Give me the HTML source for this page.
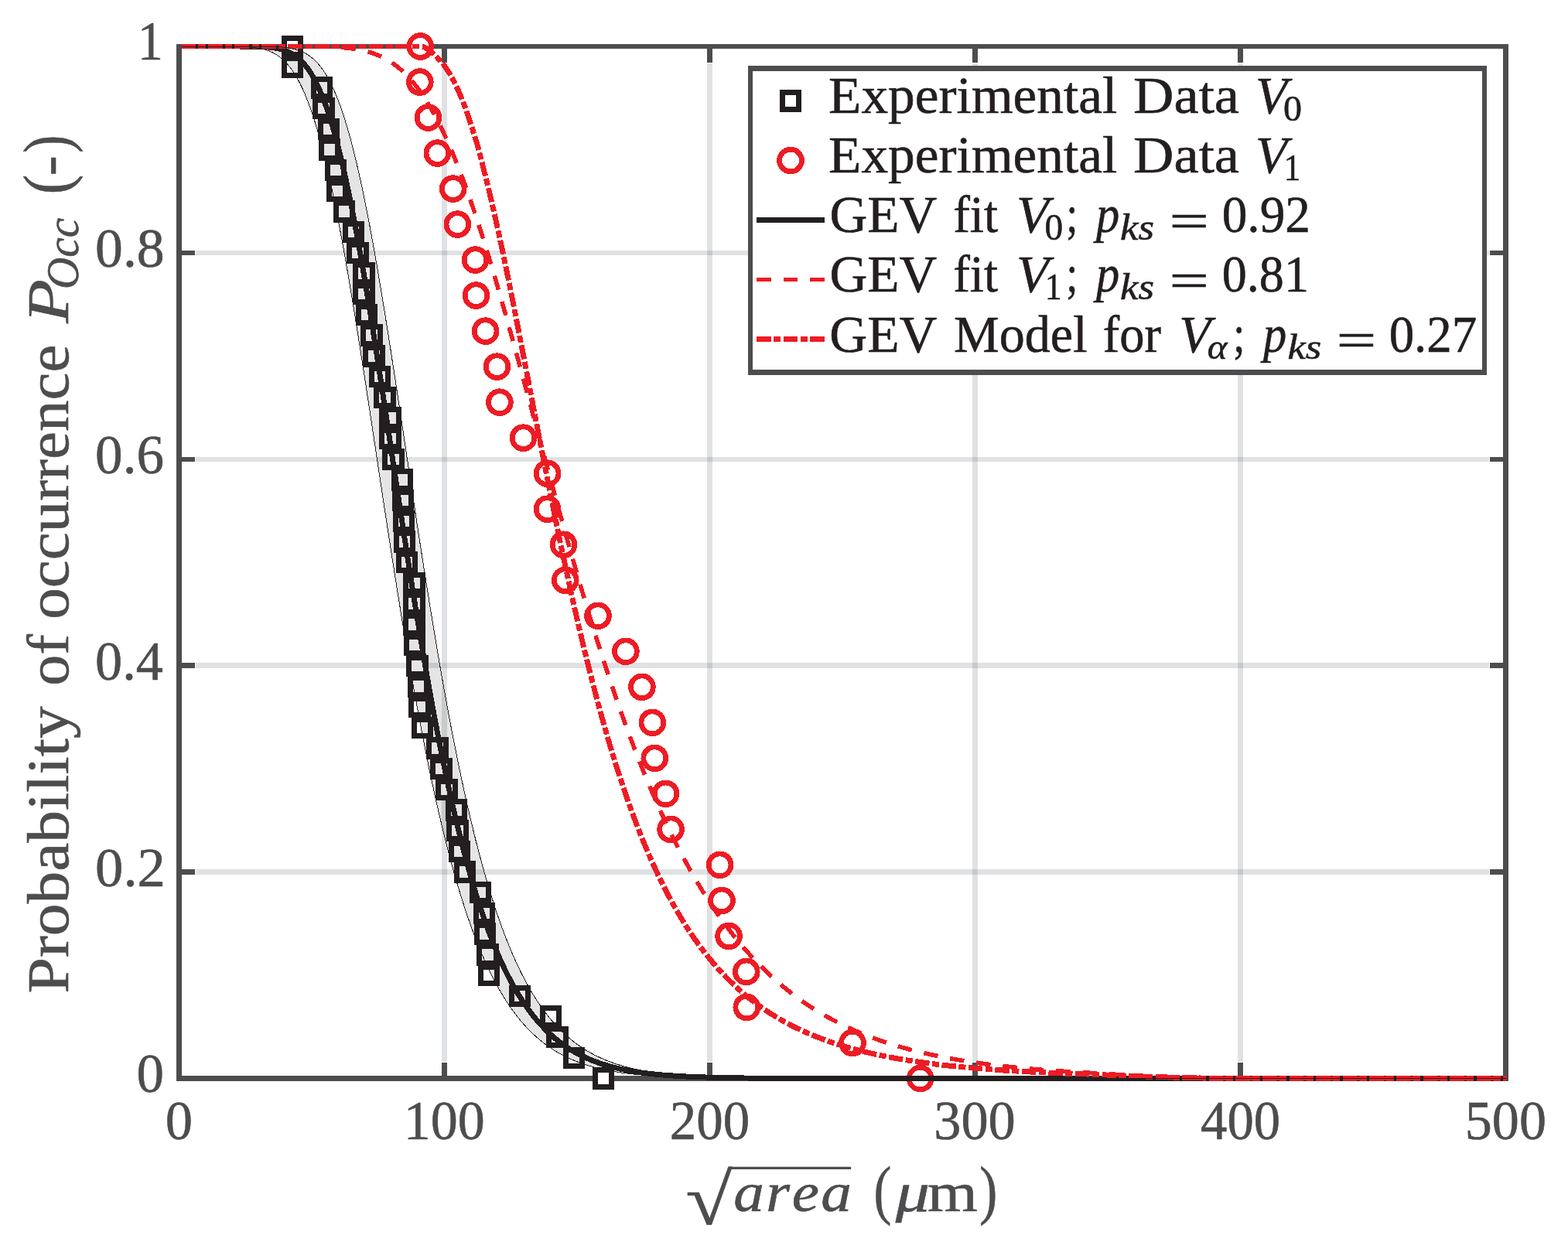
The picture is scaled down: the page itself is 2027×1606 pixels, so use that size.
<!DOCTYPE html>
<html lang="en">
<head>
<meta charset="utf-8">
<title>Probability of occurrence vs sqrt(area)</title>
<style>html,body{margin:0;padding:0;background:#fff}body{width:2027px;height:1606px;overflow:hidden}svg{display:block}</style>
</head>
<body>
<svg width="2027" height="1606" viewBox="0 0 2027 1606" font-family="'Liberation Serif', 'DejaVu Serif', serif" style="font-kerning:none">
<rect width="2027" height="1606" fill="#fff"/>
<g shape-rendering="crispEdges">
<g stroke="rgb(70,76,86)" stroke-opacity="0.170" stroke-width="6.5" fill="none">
<line x1="574.52" y1="81.50" x2="574.52" y2="1373.00"/>
<line x1="917.54" y1="81.50" x2="917.54" y2="1373.00"/>
<line x1="1260.56" y1="81.50" x2="1260.56" y2="1373.00"/>
<line x1="1603.58" y1="81.50" x2="1603.58" y2="1373.00"/>
<line x1="253.00" y1="1127.60" x2="1925.10" y2="1127.60"/>
<line x1="253.00" y1="860.70" x2="1925.10" y2="860.70"/>
<line x1="253.00" y1="593.80" x2="1925.10" y2="593.80"/>
<line x1="253.00" y1="326.90" x2="1925.10" y2="326.90"/>
</g>
<g stroke="#4d4d4f" stroke-width="6.5" fill="none">
<rect x="231.50" y="60.00" width="1715.10" height="1334.50"/>
<line x1="574.52" y1="1394.50" x2="574.52" y2="1374.00"/>
<line x1="574.52" y1="60.00" x2="574.52" y2="80.50"/>
<line x1="917.54" y1="1394.50" x2="917.54" y2="1374.00"/>
<line x1="917.54" y1="60.00" x2="917.54" y2="80.50"/>
<line x1="1260.56" y1="1394.50" x2="1260.56" y2="1374.00"/>
<line x1="1260.56" y1="60.00" x2="1260.56" y2="80.50"/>
<line x1="1603.58" y1="1394.50" x2="1603.58" y2="1374.00"/>
<line x1="1603.58" y1="60.00" x2="1603.58" y2="80.50"/>
<line x1="231.50" y1="1127.60" x2="252.00" y2="1127.60"/>
<line x1="1946.60" y1="1127.60" x2="1926.10" y2="1127.60"/>
<line x1="231.50" y1="860.70" x2="252.00" y2="860.70"/>
<line x1="1946.60" y1="860.70" x2="1926.10" y2="860.70"/>
<line x1="231.50" y1="593.80" x2="252.00" y2="593.80"/>
<line x1="1946.60" y1="593.80" x2="1926.10" y2="593.80"/>
<line x1="231.50" y1="326.90" x2="252.00" y2="326.90"/>
<line x1="1946.60" y1="326.90" x2="1926.10" y2="326.90"/>
</g>
<g stroke="#231f20" stroke-width="7.0" fill="#fff">
<rect x="367.15" y="49.30" width="21.40" height="21.40"/>
<rect x="367.15" y="75.99" width="21.40" height="21.40"/>
<rect x="405.20" y="102.68" width="21.40" height="21.40"/>
<rect x="407.80" y="129.37" width="21.40" height="21.40"/>
<rect x="414.30" y="156.06" width="21.40" height="21.40"/>
<rect x="415.40" y="182.75" width="21.40" height="21.40"/>
<rect x="423.40" y="209.44" width="21.40" height="21.40"/>
<rect x="425.30" y="236.13" width="21.40" height="21.40"/>
<rect x="434.30" y="262.82" width="21.40" height="21.40"/>
<rect x="446.30" y="289.51" width="21.40" height="21.40"/>
<rect x="451.80" y="316.20" width="21.40" height="21.40"/>
<rect x="459.80" y="342.89" width="21.40" height="21.40"/>
<rect x="459.80" y="369.58" width="21.40" height="21.40"/>
<rect x="463.30" y="396.27" width="21.40" height="21.40"/>
<rect x="469.90" y="422.96" width="21.40" height="21.40"/>
<rect x="472.70" y="449.65" width="21.40" height="21.40"/>
<rect x="480.40" y="476.34" width="21.40" height="21.40"/>
<rect x="486.80" y="503.03" width="21.40" height="21.40"/>
<rect x="493.80" y="529.72" width="21.40" height="21.40"/>
<rect x="493.80" y="556.41" width="21.40" height="21.40"/>
<rect x="497.70" y="583.10" width="21.40" height="21.40"/>
<rect x="509.50" y="609.79" width="21.40" height="21.40"/>
<rect x="510.40" y="636.48" width="21.40" height="21.40"/>
<rect x="511.30" y="663.17" width="21.40" height="21.40"/>
<rect x="512.30" y="689.86" width="21.40" height="21.40"/>
<rect x="515.10" y="716.55" width="21.40" height="21.40"/>
<rect x="524.80" y="743.24" width="21.40" height="21.40"/>
<rect x="524.80" y="769.93" width="21.40" height="21.40"/>
<rect x="524.90" y="796.62" width="21.40" height="21.40"/>
<rect x="525.50" y="823.31" width="21.40" height="21.40"/>
<rect x="528.70" y="850.00" width="21.40" height="21.40"/>
<rect x="530.30" y="876.69" width="21.40" height="21.40"/>
<rect x="531.60" y="903.38" width="21.40" height="21.40"/>
<rect x="535.30" y="930.07" width="21.40" height="21.40"/>
<rect x="554.60" y="956.76" width="21.40" height="21.40"/>
<rect x="559.60" y="983.45" width="21.40" height="21.40"/>
<rect x="566.70" y="1010.14" width="21.40" height="21.40"/>
<rect x="579.30" y="1036.83" width="21.40" height="21.40"/>
<rect x="580.80" y="1063.52" width="21.40" height="21.40"/>
<rect x="583.30" y="1090.21" width="21.40" height="21.40"/>
<rect x="590.30" y="1116.90" width="21.40" height="21.40"/>
<rect x="610.30" y="1143.59" width="21.40" height="21.40"/>
<rect x="615.30" y="1170.28" width="21.40" height="21.40"/>
<rect x="616.10" y="1196.97" width="21.40" height="21.40"/>
<rect x="619.70" y="1223.66" width="21.40" height="21.40"/>
<rect x="621.50" y="1250.35" width="21.40" height="21.40"/>
<rect x="661.30" y="1277.04" width="21.40" height="21.40"/>
<rect x="701.30" y="1303.73" width="21.40" height="21.40"/>
<rect x="709.80" y="1330.42" width="21.40" height="21.40"/>
<rect x="731.30" y="1357.11" width="21.40" height="21.40"/>
<rect x="769.20" y="1383.80" width="21.40" height="21.40"/>
</g>
<g stroke="#ed1c24" stroke-width="6.8" fill="#fff">
<circle cx="543.30" cy="60.00" r="14.40"/>
<circle cx="542.80" cy="106.02" r="14.40"/>
<circle cx="553.50" cy="152.03" r="14.40"/>
<circle cx="565.40" cy="198.05" r="14.40"/>
<circle cx="585.70" cy="244.07" r="14.40"/>
<circle cx="591.40" cy="290.09" r="14.40"/>
<circle cx="614.50" cy="336.10" r="14.40"/>
<circle cx="615.50" cy="382.12" r="14.40"/>
<circle cx="627.60" cy="428.14" r="14.40"/>
<circle cx="642.50" cy="474.16" r="14.40"/>
<circle cx="645.90" cy="520.17" r="14.40"/>
<circle cx="676.50" cy="566.19" r="14.40"/>
<circle cx="707.60" cy="612.21" r="14.40"/>
<circle cx="707.60" cy="658.22" r="14.40"/>
<circle cx="728.50" cy="704.24" r="14.40"/>
<circle cx="730.75" cy="750.26" r="14.40"/>
<circle cx="773.00" cy="796.28" r="14.40"/>
<circle cx="808.90" cy="842.29" r="14.40"/>
<circle cx="829.90" cy="888.31" r="14.40"/>
<circle cx="843.40" cy="934.33" r="14.40"/>
<circle cx="846.30" cy="980.34" r="14.40"/>
<circle cx="860.50" cy="1026.36" r="14.40"/>
<circle cx="867.10" cy="1072.38" r="14.40"/>
<circle cx="930.60" cy="1118.40" r="14.40"/>
<circle cx="933.00" cy="1164.41" r="14.40"/>
<circle cx="942.10" cy="1210.43" r="14.40"/>
<circle cx="964.80" cy="1256.45" r="14.40"/>
<circle cx="965.30" cy="1302.47" r="14.40"/>
<circle cx="1102.00" cy="1348.48" r="14.40"/>
<circle cx="1189.70" cy="1394.50" r="14.40"/>
</g>
<path d="M234.50,60.00 L234.93,60.00 L236.65,60.00 L238.36,60.00 L240.08,60.00 L241.79,60.00 L243.51,60.00 L245.22,60.00 L246.94,60.00 L248.65,60.00 L250.37,60.00 L252.08,60.00 L253.80,60.00 L255.51,60.00 L257.23,60.00 L258.94,60.00 L260.66,60.00 L262.37,60.00 L264.09,60.00 L265.80,60.00 L267.52,60.00 L269.23,60.00 L270.95,60.00 L272.66,60.00 L274.38,60.00 L276.09,60.00 L277.81,60.00 L279.52,60.00 L281.24,60.00 L282.95,60.00 L284.67,60.00 L286.38,60.00 L288.10,60.00 L289.81,60.00 L291.53,60.00 L293.24,60.00 L294.96,60.00 L296.67,60.00 L298.39,60.00 L300.10,60.00 L301.82,60.00 L303.53,60.00 L305.25,60.00 L306.96,60.00 L308.68,60.00 L310.39,60.00 L312.11,60.00 L313.82,60.00 L315.54,60.00 L317.25,60.00 L318.97,60.01 L320.69,60.01 L322.40,60.01 L324.12,60.01 L325.83,60.02 L327.55,60.02 L329.26,60.02 L330.98,60.03 L332.69,60.04 L334.41,60.05 L336.12,60.06 L337.84,60.07 L339.55,60.08 L341.27,60.10 L342.98,60.12 L344.70,60.15 L346.41,60.18 L348.13,60.21 L349.84,60.25 L351.56,60.30 L353.27,60.35 L354.99,60.42 L356.70,60.49 L358.42,60.58 L360.13,60.67 L361.85,60.79 L363.56,60.91 L365.28,61.06 L366.99,61.23 L368.71,61.41 L370.42,61.62 L372.14,61.86 L373.85,62.13 L375.57,62.43 L377.28,62.76 L379.00,63.13 L380.71,63.55 L382.43,64.01 L384.14,64.52 L385.86,65.08 L387.57,65.70 L389.29,66.38 L391.00,67.12 L392.72,67.93 L394.43,68.82 L396.15,69.79 L397.86,70.84 L399.58,71.99 L401.29,73.22 L403.01,74.56 L404.73,76.00 L406.44,77.55 L408.16,79.21 L409.87,81.00 L411.59,82.91 L413.30,84.96 L415.02,87.14 L416.73,89.46 L418.45,91.93 L420.16,94.55 L421.88,97.32 L423.59,100.26 L425.31,103.37 L427.02,106.64 L428.74,110.09 L430.45,113.72 L432.17,117.53 L433.88,121.52 L435.60,125.71 L437.31,130.08 L439.03,134.65 L440.74,139.42 L442.46,144.39 L444.17,149.56 L445.89,154.93 L447.60,160.50 L449.32,166.28 L451.03,172.26 L452.75,178.45 L454.46,184.85 L456.18,191.44 L457.89,198.24 L459.61,205.25 L461.32,212.45 L463.04,219.85 L464.75,227.45 L466.47,235.24 L468.18,243.23 L469.90,251.40 L471.61,259.76 L473.33,268.29 L475.04,277.01 L476.76,285.89 L478.47,294.95 L480.19,304.17 L481.90,313.55 L483.62,323.08 L485.33,332.76 L487.05,342.58 L488.76,352.54 L490.48,362.63 L492.20,372.85 L493.91,383.18 L495.63,393.63 L497.34,404.19 L499.06,414.84 L500.77,425.59 L502.49,436.43 L504.20,447.36 L505.92,458.35 L507.63,469.42 L509.35,480.54 L511.06,491.73 L512.78,502.96 L514.49,514.23 L516.21,525.54 L517.92,536.89 L519.64,548.25 L521.35,559.64 L523.07,571.03 L524.78,582.43 L526.50,593.84 L528.21,605.23 L529.93,616.62 L531.64,627.99 L533.36,639.33 L535.07,650.65 L536.79,661.94 L538.50,673.19 L540.22,684.39 L541.93,695.55 L543.65,706.66 L545.36,717.72 L547.08,728.71 L548.79,739.64 L550.51,750.50 L552.22,761.29 L553.94,772.00 L555.65,782.64 L557.37,793.19 L559.08,803.66 L560.80,814.04 L562.51,824.33 L564.23,834.52 L565.94,844.62 L567.66,854.63 L569.37,864.53 L571.09,874.32 L572.80,884.02 L574.52,893.60 L576.24,903.08 L577.95,912.45 L579.67,921.71 L581.38,930.85 L583.10,939.89 L584.81,948.80 L586.53,957.61 L588.24,966.29 L589.96,974.86 L591.67,983.31 L593.39,991.65 L595.10,999.86 L596.82,1007.96 L598.53,1015.94 L600.25,1023.80 L601.96,1031.54 L603.68,1039.16 L605.39,1046.67 L607.11,1054.05 L608.82,1061.32 L610.54,1068.47 L612.25,1075.51 L613.97,1082.42 L615.68,1089.22 L617.40,1095.91 L619.11,1102.48 L620.83,1108.94 L622.54,1115.28 L624.26,1121.52 L625.97,1127.64 L627.69,1133.65 L629.40,1139.55 L631.12,1145.34 L632.83,1151.03 L634.55,1156.61 L636.26,1162.09 L637.98,1167.46 L639.69,1172.72 L641.41,1177.89 L643.12,1182.96 L644.84,1187.92 L646.55,1192.79 L648.27,1197.56 L649.98,1202.24 L651.70,1206.82 L653.41,1211.31 L655.13,1215.71 L656.84,1220.01 L658.56,1224.23 L660.27,1228.36 L661.99,1232.40 L663.71,1236.36 L665.42,1240.24 L667.14,1244.03 L668.85,1247.74 L670.57,1251.37 L672.28,1254.92 L674.00,1258.40 L675.71,1261.80 L677.43,1265.12 L679.14,1268.37 L680.86,1271.55 L682.57,1274.66 L684.29,1277.69 L686.00,1280.66 L687.72,1283.57 L689.43,1286.40 L691.15,1289.17 L692.86,1291.88 L694.58,1294.53 L696.29,1297.11 L698.01,1299.64 L699.72,1302.10 L701.44,1304.51 L703.15,1306.86 L704.87,1309.16 L706.58,1311.40 L708.30,1313.59 L710.01,1315.73 L711.73,1317.81 L713.44,1319.85 L715.16,1321.83 L716.87,1323.77 L718.59,1325.66 L720.30,1327.51 L722.02,1329.31 L723.73,1331.07 L725.45,1332.78 L727.16,1334.45 L728.88,1336.08 L730.59,1337.67 L732.31,1339.22 L734.02,1340.73 L735.74,1342.20 L737.45,1343.63 L739.17,1345.03 L740.88,1346.40 L742.60,1347.73 L744.31,1349.02 L746.03,1350.29 L747.75,1351.52 L749.46,1352.72 L751.18,1353.88 L752.89,1355.02 L754.61,1356.13 L756.32,1357.21 L758.04,1358.26 L759.75,1359.29 L761.47,1360.28 L763.18,1361.25 L764.90,1362.20 L766.61,1363.12 L768.33,1364.02 L770.04,1364.89 L771.76,1365.74 L773.47,1366.57 L775.19,1367.37 L776.90,1368.16 L778.62,1368.92 L780.33,1369.66 L782.05,1370.38 L783.76,1371.08 L785.48,1371.77 L787.19,1372.43 L788.91,1373.08 L790.62,1373.71 L792.34,1374.32 L794.05,1374.92 L795.77,1375.49 L797.48,1376.06 L799.20,1376.60 L800.91,1377.14 L802.63,1377.65 L804.34,1378.16 L806.06,1378.65 L807.77,1379.12 L809.49,1379.58 L811.20,1380.03 L812.92,1380.47 L814.63,1380.89 L816.35,1381.31 L818.06,1381.71 L819.78,1382.10 L821.49,1382.47 L823.21,1382.84 L824.92,1383.20 L826.64,1383.54 L828.35,1383.88 L830.07,1384.21 L831.78,1384.53 L833.50,1384.83 L835.22,1385.13 L836.93,1385.43 L838.65,1385.71 L840.36,1385.98 L842.08,1386.25 L843.79,1386.51 L845.51,1386.76 L847.22,1387.00 L848.94,1387.24 L850.65,1387.47 L852.37,1387.69 L854.08,1387.90 L855.80,1388.11 L857.51,1388.32 L859.23,1388.51 L860.94,1388.71 L862.66,1388.89 L864.37,1389.07 L866.09,1389.25 L867.80,1389.42 L869.52,1389.58 L871.23,1389.74 L872.95,1389.89 L874.66,1390.04 L876.38,1390.19 L878.09,1390.33 L879.81,1390.47 L881.52,1390.60 L883.24,1390.73 L884.95,1390.85 L886.67,1390.97 L888.38,1391.09 L890.10,1391.20 L891.81,1391.31 L893.53,1391.42 L895.24,1391.52 L896.96,1391.62 L898.67,1391.72 L900.39,1391.81 L902.10,1391.90 L903.82,1391.99 L905.53,1392.07 L907.25,1392.15 L908.96,1392.23 L910.68,1392.31 L912.39,1392.39 L914.11,1392.46 L915.82,1392.53 L917.54,1392.59 L919.26,1392.66 L920.97,1392.72 L922.69,1392.79 L924.40,1392.84 L926.12,1392.90 L927.83,1392.96 L929.55,1393.01 L931.26,1393.06 L932.98,1393.11 L934.69,1393.16 L936.41,1393.21 L938.12,1393.25 L939.84,1393.30 L941.55,1393.34 L943.27,1393.38 L944.98,1393.42 L946.70,1393.46 L948.41,1393.50 L950.13,1393.53 L951.84,1393.57 L953.56,1393.60 L955.27,1393.63 L956.99,1393.66 L958.70,1393.69 L960.42,1393.72 L962.13,1393.75 L963.85,1393.78 L965.56,1393.81 L967.28,1393.83 L968.99,1393.86 L970.71,1393.88 L972.42,1393.90 L974.14,1393.92 L975.85,1393.95 L977.57,1393.97 L979.28,1393.99 L981.00,1394.01 L982.71,1394.02 L984.43,1394.04 L986.14,1394.06 L987.86,1394.08 L989.57,1394.09 L991.29,1394.11 L993.00,1394.12 L994.72,1394.14 L996.43,1394.15 L998.15,1394.16 L999.86,1394.18 L1001.58,1394.19 L1003.29,1394.20 L1005.01,1394.21 L1006.73,1394.22 L1008.44,1394.23 L1010.16,1394.24 L1011.87,1394.25 L1013.59,1394.26 L1015.30,1394.27 L1017.02,1394.28 L1018.73,1394.29 L1020.45,1394.30 L1022.16,1394.31 L1023.88,1394.31 L1025.59,1394.32 L1027.31,1394.33 L1029.02,1394.34 L1030.74,1394.34 L1032.45,1394.35 L1034.17,1394.35 L1035.88,1394.36 L1037.60,1394.37 L1039.31,1394.37 L1041.03,1394.38 L1042.74,1394.38 L1044.46,1394.39 L1046.17,1394.39 L1047.89,1394.40 L1049.60,1394.40 L1051.32,1394.40 L1053.03,1394.41 L1054.75,1394.41 L1056.46,1394.42 L1058.18,1394.42 L1059.89,1394.42 L1061.61,1394.43 L1063.32,1394.43 L1065.04,1394.43 L1066.75,1394.43 L1068.47,1394.44 L1070.18,1394.44 L1071.90,1394.44 L1073.61,1394.45 L1075.33,1394.45 L1077.04,1394.45 L1078.76,1394.45 L1080.47,1394.45 L1082.19,1394.46 L1083.90,1394.46 L1085.62,1394.46 L1087.33,1394.46 L1089.05,1394.46 L1090.77,1394.46 L1092.48,1394.47 L1094.20,1394.47 L1095.91,1394.47 L1097.63,1394.47 L1099.34,1394.47 L1101.06,1394.47 L1102.77,1394.47 L1104.49,1394.48 L1106.20,1394.48 L1107.92,1394.48 L1109.63,1394.48 L1111.35,1394.48 L1113.06,1394.48 L1114.78,1394.48 L1116.49,1394.48 L1118.21,1394.48 L1119.92,1394.48 L1121.64,1394.48 L1123.35,1394.49 L1125.07,1394.49 L1126.78,1394.49 L1128.50,1394.49 L1130.21,1394.49 L1131.93,1394.49 L1133.64,1394.49 L1135.36,1394.49 L1137.07,1394.49 L1138.79,1394.49 L1140.50,1394.49 L1142.22,1394.49 L1143.93,1394.49 L1145.65,1394.49 L1147.36,1394.49 L1149.08,1394.49 L1150.79,1394.49 L1152.51,1394.49 L1154.22,1394.49 L1155.94,1394.49 L1157.65,1394.49 L1159.37,1394.49 L1161.08,1394.50 L1162.80,1394.50 L1164.51,1394.50 L1166.23,1394.50 L1167.94,1394.50 L1169.66,1394.50 L1171.37,1394.50 L1173.09,1394.50 L1174.80,1394.50 L1176.52,1394.50 L1178.24,1394.50 L1179.95,1394.50 L1181.67,1394.50 L1183.38,1394.50 L1185.10,1394.50 L1186.81,1394.50 L1188.53,1394.50 L1190.24,1394.50 L1191.96,1394.50 L1193.67,1394.50 L1195.39,1394.50 L1197.10,1394.50 L1198.82,1394.50 L1200.53,1394.50 L1202.25,1394.50 L1203.96,1394.50 L1205.68,1394.50 L1207.39,1394.50 L1209.11,1394.50 L1210.82,1394.50 L1212.54,1394.50 L1214.25,1394.50 L1215.97,1394.50 L1217.68,1394.50 L1219.40,1394.50 L1221.11,1394.50 L1222.83,1394.50 L1224.54,1394.50 L1226.26,1394.50 L1227.97,1394.50 L1229.69,1394.50 L1231.40,1394.50 L1233.12,1394.50 L1234.83,1394.50 L1236.55,1394.50 L1238.26,1394.50 L1239.98,1394.50 L1241.69,1394.50 L1243.41,1394.50 L1245.12,1394.50 L1246.84,1394.50 L1248.55,1394.50 L1250.27,1394.50 L1251.98,1394.50 L1253.70,1394.50 L1255.41,1394.50 L1257.13,1394.50 L1258.84,1394.50 L1260.56,1394.50 L1262.28,1394.50 L1263.99,1394.50 L1265.71,1394.50 L1267.42,1394.50 L1269.14,1394.50 L1270.85,1394.50 L1272.57,1394.50 L1274.28,1394.50 L1276.00,1394.50 L1277.71,1394.50 L1279.43,1394.50 L1281.14,1394.50 L1282.86,1394.50 L1284.57,1394.50 L1286.29,1394.50 L1288.00,1394.50 L1289.72,1394.50 L1291.43,1394.50 L1293.15,1394.50 L1294.86,1394.50 L1296.58,1394.50 L1298.29,1394.50 L1300.01,1394.50 L1301.72,1394.50 L1303.44,1394.50 L1305.15,1394.50 L1306.87,1394.50 L1308.58,1394.50 L1310.30,1394.50 L1312.01,1394.50 L1313.73,1394.50 L1315.44,1394.50 L1317.16,1394.50 L1318.87,1394.50 L1320.59,1394.50 L1322.30,1394.50 L1324.02,1394.50 L1325.73,1394.50 L1327.45,1394.50 L1329.16,1394.50 L1330.88,1394.50 L1332.59,1394.50 L1334.31,1394.50 L1336.02,1394.50 L1337.74,1394.50 L1339.45,1394.50 L1341.17,1394.50 L1342.88,1394.50 L1344.60,1394.50 L1346.31,1394.50 L1348.03,1394.50 L1349.75,1394.50 L1351.46,1394.50 L1353.18,1394.50 L1354.89,1394.50 L1356.61,1394.50 L1358.32,1394.50 L1360.04,1394.50 L1361.75,1394.50 L1363.47,1394.50 L1365.18,1394.50 L1366.90,1394.50 L1368.61,1394.50 L1370.33,1394.50 L1372.04,1394.50 L1373.76,1394.50 L1375.47,1394.50 L1377.19,1394.50 L1378.90,1394.50 L1380.62,1394.50 L1382.33,1394.50 L1384.05,1394.50 L1385.76,1394.50 L1387.48,1394.50 L1389.19,1394.50 L1390.91,1394.50 L1392.62,1394.50 L1394.34,1394.50 L1396.05,1394.50 L1397.77,1394.50 L1399.48,1394.50 L1401.20,1394.50 L1402.91,1394.50 L1404.63,1394.50 L1406.34,1394.50 L1408.06,1394.50 L1409.77,1394.50 L1411.49,1394.50 L1413.20,1394.50 L1414.92,1394.50 L1416.63,1394.50 L1418.35,1394.50 L1420.06,1394.50 L1421.78,1394.50 L1423.49,1394.50 L1425.21,1394.50 L1426.92,1394.50 L1428.64,1394.50 L1430.35,1394.50 L1432.07,1394.50 L1433.79,1394.50 L1435.50,1394.50 L1437.22,1394.50 L1438.93,1394.50 L1440.65,1394.50 L1442.36,1394.50 L1444.08,1394.50 L1445.79,1394.50 L1447.51,1394.50 L1449.22,1394.50 L1450.94,1394.50 L1452.65,1394.50 L1454.37,1394.50 L1456.08,1394.50 L1457.80,1394.50 L1459.51,1394.50 L1461.23,1394.50 L1462.94,1394.50 L1464.66,1394.50 L1466.37,1394.50 L1468.09,1394.50 L1469.80,1394.50 L1471.52,1394.50 L1473.23,1394.50 L1474.95,1394.50 L1476.66,1394.50 L1478.38,1394.50 L1480.09,1394.50 L1481.81,1394.50 L1483.52,1394.50 L1485.24,1394.50 L1486.95,1394.50 L1488.67,1394.50 L1490.38,1394.50 L1492.10,1394.50 L1493.81,1394.50 L1495.53,1394.50 L1497.24,1394.50 L1498.96,1394.50 L1500.67,1394.50 L1502.39,1394.50 L1504.10,1394.50 L1505.82,1394.50 L1507.53,1394.50 L1509.25,1394.50 L1510.96,1394.50 L1512.68,1394.50 L1514.39,1394.50 L1516.11,1394.50 L1517.82,1394.50 L1519.54,1394.50 L1521.26,1394.50 L1522.97,1394.50 L1524.69,1394.50 L1526.40,1394.50 L1528.12,1394.50 L1529.83,1394.50 L1531.55,1394.50 L1533.26,1394.50 L1534.98,1394.50 L1536.69,1394.50 L1538.41,1394.50 L1540.12,1394.50 L1541.84,1394.50 L1543.55,1394.50 L1545.27,1394.50 L1546.98,1394.50 L1548.70,1394.50 L1550.41,1394.50 L1552.13,1394.50 L1553.84,1394.50 L1555.56,1394.50 L1557.27,1394.50 L1558.99,1394.50 L1560.70,1394.50 L1562.42,1394.50 L1564.13,1394.50 L1565.85,1394.50 L1567.56,1394.50 L1569.28,1394.50 L1570.99,1394.50 L1572.71,1394.50 L1574.42,1394.50 L1576.14,1394.50 L1577.85,1394.50 L1579.57,1394.50 L1581.28,1394.50 L1583.00,1394.50 L1584.71,1394.50 L1586.43,1394.50 L1588.14,1394.50 L1589.86,1394.50 L1591.57,1394.50 L1593.29,1394.50 L1595.00,1394.50 L1596.72,1394.50 L1598.43,1394.50 L1600.15,1394.50 L1601.86,1394.50 L1603.58,1394.50 L1605.30,1394.50 L1607.01,1394.50 L1608.73,1394.50 L1610.44,1394.50 L1612.16,1394.50 L1613.87,1394.50 L1615.59,1394.50 L1617.30,1394.50 L1619.02,1394.50 L1620.73,1394.50 L1622.45,1394.50 L1624.16,1394.50 L1625.88,1394.50 L1627.59,1394.50 L1629.31,1394.50 L1631.02,1394.50 L1632.74,1394.50 L1634.45,1394.50 L1636.17,1394.50 L1637.88,1394.50 L1639.60,1394.50 L1641.31,1394.50 L1643.03,1394.50 L1644.74,1394.50 L1646.46,1394.50 L1648.17,1394.50 L1649.89,1394.50 L1651.60,1394.50 L1653.32,1394.50 L1655.03,1394.50 L1656.75,1394.50 L1658.46,1394.50 L1660.18,1394.50 L1661.89,1394.50 L1663.61,1394.50 L1665.32,1394.50 L1667.04,1394.50 L1668.75,1394.50 L1670.47,1394.50 L1672.18,1394.50 L1673.90,1394.50 L1675.61,1394.50 L1677.33,1394.50 L1679.04,1394.50 L1680.76,1394.50 L1682.47,1394.50 L1684.19,1394.50 L1685.90,1394.50 L1687.62,1394.50 L1689.33,1394.50 L1691.05,1394.50 L1692.77,1394.50 L1694.48,1394.50 L1696.20,1394.50 L1697.91,1394.50 L1699.63,1394.50 L1701.34,1394.50 L1703.06,1394.50 L1704.77,1394.50 L1706.49,1394.50 L1708.20,1394.50 L1709.92,1394.50 L1711.63,1394.50 L1713.35,1394.50 L1715.06,1394.50 L1716.78,1394.50 L1718.49,1394.50 L1720.21,1394.50 L1721.92,1394.50 L1723.64,1394.50 L1725.35,1394.50 L1727.07,1394.50 L1728.78,1394.50 L1730.50,1394.50 L1732.21,1394.50 L1733.93,1394.50 L1735.64,1394.50 L1737.36,1394.50 L1739.07,1394.50 L1740.79,1394.50 L1742.50,1394.50 L1744.22,1394.50 L1745.93,1394.50 L1747.65,1394.50 L1749.36,1394.50 L1751.08,1394.50 L1752.79,1394.50 L1754.51,1394.50 L1756.22,1394.50 L1757.94,1394.50 L1759.65,1394.50 L1761.37,1394.50 L1763.08,1394.50 L1764.80,1394.50 L1766.51,1394.50 L1768.23,1394.50 L1769.94,1394.50 L1771.66,1394.50 L1773.37,1394.50 L1775.09,1394.50 L1776.81,1394.50 L1778.52,1394.50 L1780.24,1394.50 L1781.95,1394.50 L1783.67,1394.50 L1785.38,1394.50 L1787.10,1394.50 L1788.81,1394.50 L1790.53,1394.50 L1792.24,1394.50 L1793.96,1394.50 L1795.67,1394.50 L1797.39,1394.50 L1799.10,1394.50 L1800.82,1394.50 L1802.53,1394.50 L1804.25,1394.50 L1805.96,1394.50 L1807.68,1394.50 L1809.39,1394.50 L1811.11,1394.50 L1812.82,1394.50 L1814.54,1394.50 L1816.25,1394.50 L1817.97,1394.50 L1819.68,1394.50 L1821.40,1394.50 L1823.11,1394.50 L1824.83,1394.50 L1826.54,1394.50 L1828.26,1394.50 L1829.97,1394.50 L1831.69,1394.50 L1833.40,1394.50 L1835.12,1394.50 L1836.83,1394.50 L1838.55,1394.50 L1840.26,1394.50 L1841.98,1394.50 L1843.69,1394.50 L1845.41,1394.50 L1847.12,1394.50 L1848.84,1394.50 L1850.55,1394.50 L1852.27,1394.50 L1853.98,1394.50 L1855.70,1394.50 L1857.41,1394.50 L1859.13,1394.50 L1860.84,1394.50 L1862.56,1394.50 L1864.28,1394.50 L1865.99,1394.50 L1867.71,1394.50 L1869.42,1394.50 L1871.14,1394.50 L1872.85,1394.50 L1874.57,1394.50 L1876.28,1394.50 L1878.00,1394.50 L1879.71,1394.50 L1881.43,1394.50 L1883.14,1394.50 L1884.86,1394.50 L1886.57,1394.50 L1888.29,1394.50 L1890.00,1394.50 L1891.72,1394.50 L1893.43,1394.50 L1895.15,1394.50 L1896.86,1394.50 L1898.58,1394.50 L1900.29,1394.50 L1902.01,1394.50 L1903.72,1394.50 L1905.44,1394.50 L1907.15,1394.50 L1908.87,1394.50 L1910.58,1394.50 L1912.30,1394.50 L1914.01,1394.50 L1915.73,1394.50 L1917.44,1394.50 L1919.16,1394.50 L1920.87,1394.50 L1922.59,1394.50 L1924.30,1394.50 L1926.02,1394.50 L1927.73,1394.50 L1929.45,1394.50 L1931.16,1394.50 L1932.88,1394.50 L1934.59,1394.50 L1936.31,1394.50 L1938.02,1394.50 L1939.74,1394.50 L1941.45,1394.50 L1943.17,1394.50 L1944.88,1394.50 L1946.60,1394.50 L1946.60,1394.50 L1944.88,1394.50 L1943.17,1394.50 L1941.45,1394.50 L1939.74,1394.50 L1938.02,1394.50 L1936.31,1394.50 L1934.59,1394.50 L1932.88,1394.50 L1931.16,1394.50 L1929.45,1394.50 L1927.73,1394.50 L1926.02,1394.50 L1924.30,1394.50 L1922.59,1394.50 L1920.87,1394.50 L1919.16,1394.50 L1917.44,1394.50 L1915.73,1394.50 L1914.01,1394.50 L1912.30,1394.50 L1910.58,1394.50 L1908.87,1394.50 L1907.15,1394.50 L1905.44,1394.50 L1903.72,1394.50 L1902.01,1394.50 L1900.29,1394.50 L1898.58,1394.50 L1896.86,1394.50 L1895.15,1394.50 L1893.43,1394.50 L1891.72,1394.50 L1890.00,1394.50 L1888.29,1394.50 L1886.57,1394.50 L1884.86,1394.50 L1883.14,1394.50 L1881.43,1394.50 L1879.71,1394.50 L1878.00,1394.50 L1876.28,1394.50 L1874.57,1394.50 L1872.85,1394.50 L1871.14,1394.50 L1869.42,1394.50 L1867.71,1394.50 L1865.99,1394.50 L1864.28,1394.50 L1862.56,1394.50 L1860.84,1394.50 L1859.13,1394.50 L1857.41,1394.50 L1855.70,1394.50 L1853.98,1394.50 L1852.27,1394.50 L1850.55,1394.50 L1848.84,1394.50 L1847.12,1394.50 L1845.41,1394.50 L1843.69,1394.50 L1841.98,1394.50 L1840.26,1394.50 L1838.55,1394.50 L1836.83,1394.50 L1835.12,1394.50 L1833.40,1394.50 L1831.69,1394.50 L1829.97,1394.50 L1828.26,1394.50 L1826.54,1394.50 L1824.83,1394.50 L1823.11,1394.50 L1821.40,1394.50 L1819.68,1394.50 L1817.97,1394.50 L1816.25,1394.50 L1814.54,1394.50 L1812.82,1394.50 L1811.11,1394.50 L1809.39,1394.50 L1807.68,1394.50 L1805.96,1394.50 L1804.25,1394.50 L1802.53,1394.50 L1800.82,1394.50 L1799.10,1394.50 L1797.39,1394.50 L1795.67,1394.50 L1793.96,1394.50 L1792.24,1394.50 L1790.53,1394.50 L1788.81,1394.50 L1787.10,1394.50 L1785.38,1394.50 L1783.67,1394.50 L1781.95,1394.50 L1780.24,1394.50 L1778.52,1394.50 L1776.81,1394.50 L1775.09,1394.50 L1773.37,1394.50 L1771.66,1394.50 L1769.94,1394.50 L1768.23,1394.50 L1766.51,1394.50 L1764.80,1394.50 L1763.08,1394.50 L1761.37,1394.50 L1759.65,1394.50 L1757.94,1394.50 L1756.22,1394.50 L1754.51,1394.50 L1752.79,1394.50 L1751.08,1394.50 L1749.36,1394.50 L1747.65,1394.50 L1745.93,1394.50 L1744.22,1394.50 L1742.50,1394.50 L1740.79,1394.50 L1739.07,1394.50 L1737.36,1394.50 L1735.64,1394.50 L1733.93,1394.50 L1732.21,1394.50 L1730.50,1394.50 L1728.78,1394.50 L1727.07,1394.50 L1725.35,1394.50 L1723.64,1394.50 L1721.92,1394.50 L1720.21,1394.50 L1718.49,1394.50 L1716.78,1394.50 L1715.06,1394.50 L1713.35,1394.50 L1711.63,1394.50 L1709.92,1394.50 L1708.20,1394.50 L1706.49,1394.50 L1704.77,1394.50 L1703.06,1394.50 L1701.34,1394.50 L1699.63,1394.50 L1697.91,1394.50 L1696.20,1394.50 L1694.48,1394.50 L1692.77,1394.50 L1691.05,1394.50 L1689.33,1394.50 L1687.62,1394.50 L1685.90,1394.50 L1684.19,1394.50 L1682.47,1394.50 L1680.76,1394.50 L1679.04,1394.50 L1677.33,1394.50 L1675.61,1394.50 L1673.90,1394.50 L1672.18,1394.50 L1670.47,1394.50 L1668.75,1394.50 L1667.04,1394.50 L1665.32,1394.50 L1663.61,1394.50 L1661.89,1394.50 L1660.18,1394.50 L1658.46,1394.50 L1656.75,1394.50 L1655.03,1394.50 L1653.32,1394.50 L1651.60,1394.50 L1649.89,1394.50 L1648.17,1394.50 L1646.46,1394.50 L1644.74,1394.50 L1643.03,1394.50 L1641.31,1394.50 L1639.60,1394.50 L1637.88,1394.50 L1636.17,1394.50 L1634.45,1394.50 L1632.74,1394.50 L1631.02,1394.50 L1629.31,1394.50 L1627.59,1394.50 L1625.88,1394.50 L1624.16,1394.50 L1622.45,1394.50 L1620.73,1394.50 L1619.02,1394.50 L1617.30,1394.50 L1615.59,1394.50 L1613.87,1394.50 L1612.16,1394.50 L1610.44,1394.50 L1608.73,1394.50 L1607.01,1394.50 L1605.30,1394.50 L1603.58,1394.50 L1601.86,1394.50 L1600.15,1394.50 L1598.43,1394.50 L1596.72,1394.50 L1595.00,1394.50 L1593.29,1394.50 L1591.57,1394.50 L1589.86,1394.50 L1588.14,1394.50 L1586.43,1394.50 L1584.71,1394.50 L1583.00,1394.50 L1581.28,1394.50 L1579.57,1394.50 L1577.85,1394.50 L1576.14,1394.50 L1574.42,1394.50 L1572.71,1394.50 L1570.99,1394.50 L1569.28,1394.50 L1567.56,1394.50 L1565.85,1394.50 L1564.13,1394.50 L1562.42,1394.50 L1560.70,1394.50 L1558.99,1394.50 L1557.27,1394.50 L1555.56,1394.50 L1553.84,1394.50 L1552.13,1394.50 L1550.41,1394.50 L1548.70,1394.50 L1546.98,1394.50 L1545.27,1394.50 L1543.55,1394.50 L1541.84,1394.50 L1540.12,1394.50 L1538.41,1394.50 L1536.69,1394.50 L1534.98,1394.50 L1533.26,1394.50 L1531.55,1394.50 L1529.83,1394.50 L1528.12,1394.50 L1526.40,1394.50 L1524.69,1394.50 L1522.97,1394.50 L1521.26,1394.50 L1519.54,1394.50 L1517.82,1394.50 L1516.11,1394.50 L1514.39,1394.50 L1512.68,1394.50 L1510.96,1394.50 L1509.25,1394.50 L1507.53,1394.50 L1505.82,1394.50 L1504.10,1394.50 L1502.39,1394.50 L1500.67,1394.50 L1498.96,1394.50 L1497.24,1394.50 L1495.53,1394.50 L1493.81,1394.50 L1492.10,1394.50 L1490.38,1394.50 L1488.67,1394.50 L1486.95,1394.50 L1485.24,1394.50 L1483.52,1394.50 L1481.81,1394.50 L1480.09,1394.50 L1478.38,1394.50 L1476.66,1394.50 L1474.95,1394.50 L1473.23,1394.50 L1471.52,1394.50 L1469.80,1394.50 L1468.09,1394.50 L1466.37,1394.50 L1464.66,1394.50 L1462.94,1394.50 L1461.23,1394.50 L1459.51,1394.50 L1457.80,1394.50 L1456.08,1394.50 L1454.37,1394.50 L1452.65,1394.50 L1450.94,1394.50 L1449.22,1394.50 L1447.51,1394.50 L1445.79,1394.50 L1444.08,1394.50 L1442.36,1394.50 L1440.65,1394.50 L1438.93,1394.50 L1437.22,1394.50 L1435.50,1394.50 L1433.79,1394.50 L1432.07,1394.50 L1430.35,1394.50 L1428.64,1394.50 L1426.92,1394.50 L1425.21,1394.50 L1423.49,1394.50 L1421.78,1394.50 L1420.06,1394.50 L1418.35,1394.50 L1416.63,1394.50 L1414.92,1394.50 L1413.20,1394.50 L1411.49,1394.50 L1409.77,1394.50 L1408.06,1394.50 L1406.34,1394.50 L1404.63,1394.50 L1402.91,1394.50 L1401.20,1394.50 L1399.48,1394.50 L1397.77,1394.50 L1396.05,1394.50 L1394.34,1394.50 L1392.62,1394.50 L1390.91,1394.50 L1389.19,1394.50 L1387.48,1394.50 L1385.76,1394.50 L1384.05,1394.50 L1382.33,1394.50 L1380.62,1394.50 L1378.90,1394.50 L1377.19,1394.50 L1375.47,1394.50 L1373.76,1394.50 L1372.04,1394.50 L1370.33,1394.50 L1368.61,1394.50 L1366.90,1394.50 L1365.18,1394.50 L1363.47,1394.50 L1361.75,1394.50 L1360.04,1394.50 L1358.32,1394.50 L1356.61,1394.50 L1354.89,1394.50 L1353.18,1394.50 L1351.46,1394.50 L1349.75,1394.50 L1348.03,1394.50 L1346.31,1394.50 L1344.60,1394.50 L1342.88,1394.50 L1341.17,1394.50 L1339.45,1394.50 L1337.74,1394.50 L1336.02,1394.50 L1334.31,1394.50 L1332.59,1394.50 L1330.88,1394.50 L1329.16,1394.50 L1327.45,1394.50 L1325.73,1394.50 L1324.02,1394.50 L1322.30,1394.50 L1320.59,1394.50 L1318.87,1394.50 L1317.16,1394.50 L1315.44,1394.50 L1313.73,1394.50 L1312.01,1394.50 L1310.30,1394.50 L1308.58,1394.50 L1306.87,1394.50 L1305.15,1394.50 L1303.44,1394.50 L1301.72,1394.50 L1300.01,1394.50 L1298.29,1394.50 L1296.58,1394.50 L1294.86,1394.50 L1293.15,1394.50 L1291.43,1394.50 L1289.72,1394.50 L1288.00,1394.50 L1286.29,1394.50 L1284.57,1394.50 L1282.86,1394.50 L1281.14,1394.50 L1279.43,1394.50 L1277.71,1394.50 L1276.00,1394.50 L1274.28,1394.50 L1272.57,1394.50 L1270.85,1394.50 L1269.14,1394.50 L1267.42,1394.50 L1265.71,1394.50 L1263.99,1394.50 L1262.28,1394.50 L1260.56,1394.50 L1258.84,1394.50 L1257.13,1394.50 L1255.41,1394.50 L1253.70,1394.50 L1251.98,1394.50 L1250.27,1394.50 L1248.55,1394.50 L1246.84,1394.50 L1245.12,1394.50 L1243.41,1394.50 L1241.69,1394.50 L1239.98,1394.50 L1238.26,1394.50 L1236.55,1394.50 L1234.83,1394.50 L1233.12,1394.50 L1231.40,1394.50 L1229.69,1394.50 L1227.97,1394.50 L1226.26,1394.50 L1224.54,1394.50 L1222.83,1394.50 L1221.11,1394.50 L1219.40,1394.50 L1217.68,1394.50 L1215.97,1394.50 L1214.25,1394.50 L1212.54,1394.50 L1210.82,1394.50 L1209.11,1394.50 L1207.39,1394.50 L1205.68,1394.50 L1203.96,1394.50 L1202.25,1394.50 L1200.53,1394.50 L1198.82,1394.50 L1197.10,1394.50 L1195.39,1394.50 L1193.67,1394.50 L1191.96,1394.50 L1190.24,1394.50 L1188.53,1394.50 L1186.81,1394.50 L1185.10,1394.50 L1183.38,1394.50 L1181.67,1394.50 L1179.95,1394.50 L1178.24,1394.50 L1176.52,1394.50 L1174.80,1394.50 L1173.09,1394.50 L1171.37,1394.50 L1169.66,1394.50 L1167.94,1394.50 L1166.23,1394.50 L1164.51,1394.50 L1162.80,1394.50 L1161.08,1394.50 L1159.37,1394.50 L1157.65,1394.50 L1155.94,1394.50 L1154.22,1394.50 L1152.51,1394.50 L1150.79,1394.50 L1149.08,1394.50 L1147.36,1394.50 L1145.65,1394.50 L1143.93,1394.50 L1142.22,1394.50 L1140.50,1394.50 L1138.79,1394.50 L1137.07,1394.50 L1135.36,1394.50 L1133.64,1394.50 L1131.93,1394.50 L1130.21,1394.50 L1128.50,1394.50 L1126.78,1394.50 L1125.07,1394.50 L1123.35,1394.50 L1121.64,1394.50 L1119.92,1394.50 L1118.21,1394.50 L1116.49,1394.50 L1114.78,1394.50 L1113.06,1394.50 L1111.35,1394.50 L1109.63,1394.50 L1107.92,1394.50 L1106.20,1394.50 L1104.49,1394.50 L1102.77,1394.50 L1101.06,1394.50 L1099.34,1394.50 L1097.63,1394.50 L1095.91,1394.49 L1094.20,1394.49 L1092.48,1394.49 L1090.77,1394.49 L1089.05,1394.49 L1087.33,1394.49 L1085.62,1394.49 L1083.90,1394.49 L1082.19,1394.49 L1080.47,1394.49 L1078.76,1394.49 L1077.04,1394.49 L1075.33,1394.49 L1073.61,1394.49 L1071.90,1394.49 L1070.18,1394.49 L1068.47,1394.49 L1066.75,1394.49 L1065.04,1394.49 L1063.32,1394.49 L1061.61,1394.48 L1059.89,1394.48 L1058.18,1394.48 L1056.46,1394.48 L1054.75,1394.48 L1053.03,1394.48 L1051.32,1394.48 L1049.60,1394.48 L1047.89,1394.48 L1046.17,1394.48 L1044.46,1394.47 L1042.74,1394.47 L1041.03,1394.47 L1039.31,1394.47 L1037.60,1394.47 L1035.88,1394.47 L1034.17,1394.47 L1032.45,1394.46 L1030.74,1394.46 L1029.02,1394.46 L1027.31,1394.46 L1025.59,1394.46 L1023.88,1394.45 L1022.16,1394.45 L1020.45,1394.45 L1018.73,1394.45 L1017.02,1394.44 L1015.30,1394.44 L1013.59,1394.44 L1011.87,1394.44 L1010.16,1394.43 L1008.44,1394.43 L1006.73,1394.43 L1005.01,1394.42 L1003.29,1394.42 L1001.58,1394.42 L999.86,1394.41 L998.15,1394.41 L996.43,1394.40 L994.72,1394.40 L993.00,1394.40 L991.29,1394.39 L989.57,1394.39 L987.86,1394.38 L986.14,1394.37 L984.43,1394.37 L982.71,1394.36 L981.00,1394.36 L979.28,1394.35 L977.57,1394.34 L975.85,1394.34 L974.14,1394.33 L972.42,1394.32 L970.71,1394.31 L968.99,1394.31 L967.28,1394.30 L965.56,1394.29 L963.85,1394.28 L962.13,1394.27 L960.42,1394.26 L958.70,1394.25 L956.99,1394.24 L955.27,1394.23 L953.56,1394.21 L951.84,1394.20 L950.13,1394.19 L948.41,1394.18 L946.70,1394.16 L944.98,1394.15 L943.27,1394.13 L941.55,1394.12 L939.84,1394.10 L938.12,1394.09 L936.41,1394.07 L934.69,1394.05 L932.98,1394.03 L931.26,1394.01 L929.55,1393.99 L927.83,1393.97 L926.12,1393.95 L924.40,1393.93 L922.69,1393.90 L920.97,1393.88 L919.26,1393.86 L917.54,1393.83 L915.82,1393.80 L914.11,1393.77 L912.39,1393.75 L910.68,1393.71 L908.96,1393.68 L907.25,1393.65 L905.53,1393.62 L903.82,1393.58 L902.10,1393.55 L900.39,1393.51 L898.67,1393.47 L896.96,1393.43 L895.24,1393.39 L893.53,1393.35 L891.81,1393.30 L890.10,1393.25 L888.38,1393.21 L886.67,1393.16 L884.95,1393.11 L883.24,1393.05 L881.52,1393.00 L879.81,1392.94 L878.09,1392.88 L876.38,1392.82 L874.66,1392.76 L872.95,1392.69 L871.23,1392.62 L869.52,1392.55 L867.80,1392.48 L866.09,1392.41 L864.37,1392.33 L862.66,1392.25 L860.94,1392.17 L859.23,1392.08 L857.51,1391.99 L855.80,1391.90 L854.08,1391.80 L852.37,1391.71 L850.65,1391.61 L848.94,1391.50 L847.22,1391.39 L845.51,1391.28 L843.79,1391.16 L842.08,1391.05 L840.36,1390.92 L838.65,1390.79 L836.93,1390.66 L835.22,1390.53 L833.50,1390.39 L831.78,1390.24 L830.07,1390.09 L828.35,1389.94 L826.64,1389.78 L824.92,1389.61 L823.21,1389.44 L821.49,1389.27 L819.78,1389.09 L818.06,1388.90 L816.35,1388.71 L814.63,1388.51 L812.92,1388.30 L811.20,1388.09 L809.49,1387.87 L807.77,1387.64 L806.06,1387.41 L804.34,1387.17 L802.63,1386.92 L800.91,1386.67 L799.20,1386.40 L797.48,1386.13 L795.77,1385.85 L794.05,1385.56 L792.34,1385.27 L790.62,1384.96 L788.91,1384.64 L787.19,1384.32 L785.48,1383.98 L783.76,1383.64 L782.05,1383.28 L780.33,1382.91 L778.62,1382.54 L776.90,1382.15 L775.19,1381.75 L773.47,1381.33 L771.76,1380.91 L770.04,1380.47 L768.33,1380.02 L766.61,1379.55 L764.90,1379.08 L763.18,1378.58 L761.47,1378.08 L759.75,1377.56 L758.04,1377.02 L756.32,1376.47 L754.61,1375.90 L752.89,1375.31 L751.18,1374.71 L749.46,1374.09 L747.75,1373.45 L746.03,1372.80 L744.31,1372.12 L742.60,1371.43 L740.88,1370.72 L739.17,1369.98 L737.45,1369.23 L735.74,1368.46 L734.02,1367.66 L732.31,1366.84 L730.59,1366.00 L728.88,1365.13 L727.16,1364.24 L725.45,1363.33 L723.73,1362.39 L722.02,1361.42 L720.30,1360.43 L718.59,1359.41 L716.87,1358.36 L715.16,1357.29 L713.44,1356.18 L711.73,1355.05 L710.01,1353.88 L708.30,1352.69 L706.58,1351.46 L704.87,1350.20 L703.15,1348.90 L701.44,1347.57 L699.72,1346.21 L698.01,1344.81 L696.29,1343.37 L694.58,1341.90 L692.86,1340.38 L691.15,1338.83 L689.43,1337.24 L687.72,1335.60 L686.00,1333.93 L684.29,1332.21 L682.57,1330.45 L680.86,1328.64 L679.14,1326.78 L677.43,1324.88 L675.71,1322.94 L674.00,1320.94 L672.28,1318.89 L670.57,1316.79 L668.85,1314.64 L667.14,1312.44 L665.42,1310.18 L663.71,1307.87 L661.99,1305.50 L660.27,1303.07 L658.56,1300.59 L656.84,1298.04 L655.13,1295.44 L653.41,1292.77 L651.70,1290.04 L649.98,1287.24 L648.27,1284.38 L646.55,1281.45 L644.84,1278.45 L643.12,1275.39 L641.41,1272.25 L639.69,1269.04 L637.98,1265.76 L636.26,1262.40 L634.55,1258.97 L632.83,1255.46 L631.12,1251.87 L629.40,1248.20 L627.69,1244.45 L625.97,1240.62 L624.26,1236.70 L622.54,1232.70 L620.83,1228.61 L619.11,1224.44 L617.40,1220.17 L615.68,1215.82 L613.97,1211.38 L612.25,1206.84 L610.54,1202.20 L608.82,1197.48 L607.11,1192.65 L605.39,1187.73 L603.68,1182.71 L601.96,1177.59 L600.25,1172.37 L598.53,1167.04 L596.82,1161.61 L595.10,1156.08 L593.39,1150.44 L591.67,1144.69 L589.96,1138.84 L588.24,1132.87 L586.53,1126.80 L584.81,1120.62 L583.10,1114.32 L581.38,1107.91 L579.67,1101.39 L577.95,1094.75 L576.24,1088.00 L574.52,1081.13 L572.80,1074.15 L571.09,1067.05 L569.37,1059.83 L567.66,1052.50 L565.94,1045.04 L564.23,1037.47 L562.51,1029.79 L560.80,1021.98 L559.08,1014.05 L557.37,1006.01 L555.65,997.85 L553.94,989.57 L552.22,981.17 L550.51,972.66 L548.79,964.03 L547.08,955.29 L545.36,946.43 L543.65,937.45 L541.93,928.37 L540.22,919.17 L538.50,909.86 L536.79,900.44 L535.07,890.91 L533.36,881.28 L531.64,871.54 L529.93,861.70 L528.21,851.76 L526.50,841.72 L524.78,831.59 L523.07,821.36 L521.35,811.04 L519.64,800.63 L517.92,790.14 L516.21,779.57 L514.49,768.91 L512.78,758.19 L511.06,747.38 L509.35,736.51 L507.63,725.58 L505.92,714.59 L504.20,703.53 L502.49,692.43 L500.77,681.28 L499.06,670.09 L497.34,658.85 L495.63,647.58 L493.91,636.29 L492.20,624.97 L490.48,613.63 L488.76,602.28 L487.05,590.92 L485.33,579.56 L483.62,568.21 L481.90,556.86 L480.19,545.53 L478.47,534.22 L476.76,522.93 L475.04,511.69 L473.33,500.48 L471.61,489.31 L469.90,478.20 L468.18,467.15 L466.47,456.16 L464.75,445.24 L463.04,434.40 L461.32,423.65 L459.61,412.98 L457.89,402.41 L456.18,391.95 L454.46,381.59 L452.75,371.34 L451.03,361.22 L449.32,351.22 L447.60,341.36 L445.89,331.63 L444.17,322.05 L442.46,312.61 L440.74,303.32 L439.03,294.20 L437.31,285.24 L435.60,276.44 L433.88,267.82 L432.17,259.37 L430.45,251.10 L428.74,243.01 L427.02,235.11 L425.31,227.40 L423.59,219.88 L421.88,212.55 L420.16,205.42 L418.45,198.49 L416.73,191.75 L415.02,185.22 L413.30,178.88 L411.59,172.75 L409.87,166.82 L408.16,161.09 L406.44,155.56 L404.73,150.23 L403.01,145.10 L401.29,140.17 L399.58,135.43 L397.86,130.88 L396.15,126.53 L394.43,122.36 L392.72,118.38 L391.00,114.58 L389.29,110.96 L387.57,107.51 L385.86,104.24 L384.14,101.13 L382.43,98.19 L380.71,95.41 L379.00,92.77 L377.28,90.29 L375.57,87.96 L373.85,85.76 L372.14,83.69 L370.42,81.76 L368.71,79.95 L366.99,78.26 L365.28,76.69 L363.56,75.22 L361.85,73.86 L360.13,72.59 L358.42,71.43 L356.70,70.35 L354.99,69.35 L353.27,68.43 L351.56,67.59 L349.84,66.82 L348.13,66.11 L346.41,65.47 L344.70,64.88 L342.98,64.35 L341.27,63.86 L339.55,63.43 L337.84,63.03 L336.12,62.68 L334.41,62.36 L332.69,62.07 L330.98,61.81 L329.26,61.59 L327.55,61.38 L325.83,61.20 L324.12,61.04 L322.40,60.90 L320.69,60.78 L318.97,60.67 L317.25,60.57 L315.54,60.49 L313.82,60.42 L312.11,60.36 L310.39,60.30 L308.68,60.26 L306.96,60.22 L305.25,60.18 L303.53,60.15 L301.82,60.13 L300.10,60.10 L298.39,60.09 L296.67,60.07 L294.96,60.06 L293.24,60.05 L291.53,60.04 L289.81,60.03 L288.10,60.03 L286.38,60.02 L284.67,60.02 L282.95,60.01 L281.24,60.01 L279.52,60.01 L277.81,60.01 L276.09,60.01 L274.38,60.00 L272.66,60.00 L270.95,60.00 L269.23,60.00 L267.52,60.00 L265.80,60.00 L264.09,60.00 L262.37,60.00 L260.66,60.00 L258.94,60.00 L257.23,60.00 L255.51,60.00 L253.80,60.00 L252.08,60.00 L250.37,60.00 L248.65,60.00 L246.94,60.00 L245.22,60.00 L243.51,60.00 L241.79,60.00 L240.08,60.00 L238.36,60.00 L236.65,60.00 L234.93,60.00 L234.50,60.00Z" fill="#000" fill-opacity="0.1" stroke="none"/>
<g stroke="#231f20" stroke-width="7.0" fill="none">
<rect x="367.15" y="75.99" width="21.40" height="21.40"/>
<rect x="405.20" y="102.68" width="21.40" height="21.40"/>
<rect x="407.80" y="129.37" width="21.40" height="21.40"/>
<rect x="414.30" y="156.06" width="21.40" height="21.40"/>
<rect x="415.40" y="182.75" width="21.40" height="21.40"/>
<rect x="423.40" y="209.44" width="21.40" height="21.40"/>
<rect x="425.30" y="236.13" width="21.40" height="21.40"/>
<rect x="434.30" y="262.82" width="21.40" height="21.40"/>
<rect x="446.30" y="289.51" width="21.40" height="21.40"/>
<rect x="451.80" y="316.20" width="21.40" height="21.40"/>
<rect x="459.80" y="342.89" width="21.40" height="21.40"/>
<rect x="459.80" y="369.58" width="21.40" height="21.40"/>
<rect x="463.30" y="396.27" width="21.40" height="21.40"/>
<rect x="469.90" y="422.96" width="21.40" height="21.40"/>
<rect x="472.70" y="449.65" width="21.40" height="21.40"/>
<rect x="480.40" y="476.34" width="21.40" height="21.40"/>
<rect x="486.80" y="503.03" width="21.40" height="21.40"/>
<rect x="493.80" y="529.72" width="21.40" height="21.40"/>
<rect x="493.80" y="556.41" width="21.40" height="21.40"/>
<rect x="497.70" y="583.10" width="21.40" height="21.40"/>
<rect x="509.50" y="609.79" width="21.40" height="21.40"/>
<rect x="510.40" y="636.48" width="21.40" height="21.40"/>
<rect x="511.30" y="663.17" width="21.40" height="21.40"/>
<rect x="512.30" y="689.86" width="21.40" height="21.40"/>
<rect x="515.10" y="716.55" width="21.40" height="21.40"/>
<rect x="524.80" y="743.24" width="21.40" height="21.40"/>
<rect x="524.80" y="769.93" width="21.40" height="21.40"/>
<rect x="524.90" y="796.62" width="21.40" height="21.40"/>
<rect x="525.50" y="823.31" width="21.40" height="21.40"/>
<rect x="528.70" y="850.00" width="21.40" height="21.40"/>
<rect x="530.30" y="876.69" width="21.40" height="21.40"/>
<rect x="531.60" y="903.38" width="21.40" height="21.40"/>
<rect x="535.30" y="930.07" width="21.40" height="21.40"/>
<rect x="554.60" y="956.76" width="21.40" height="21.40"/>
<rect x="559.60" y="983.45" width="21.40" height="21.40"/>
<rect x="566.70" y="1010.14" width="21.40" height="21.40"/>
<rect x="579.30" y="1036.83" width="21.40" height="21.40"/>
<rect x="580.80" y="1063.52" width="21.40" height="21.40"/>
<rect x="583.30" y="1090.21" width="21.40" height="21.40"/>
<rect x="590.30" y="1116.90" width="21.40" height="21.40"/>
<rect x="610.30" y="1143.59" width="21.40" height="21.40"/>
<rect x="615.30" y="1170.28" width="21.40" height="21.40"/>
<rect x="616.10" y="1196.97" width="21.40" height="21.40"/>
<rect x="619.70" y="1223.66" width="21.40" height="21.40"/>
<rect x="621.50" y="1250.35" width="21.40" height="21.40"/>
<rect x="661.30" y="1277.04" width="21.40" height="21.40"/>
<rect x="701.30" y="1303.73" width="21.40" height="21.40"/>
<rect x="709.80" y="1330.42" width="21.40" height="21.40"/>
<rect x="731.30" y="1357.11" width="21.40" height="21.40"/>
</g>
<path d="M234.50,60.00 L234.93,60.00 L236.65,60.00 L238.36,60.00 L240.08,60.00 L241.79,60.00 L243.51,60.00 L245.22,60.00 L246.94,60.00 L248.65,60.00 L250.37,60.00 L252.08,60.00 L253.80,60.00 L255.51,60.00 L257.23,60.00 L258.94,60.00 L260.66,60.00 L262.37,60.00 L264.09,60.00 L265.80,60.00 L267.52,60.00 L269.23,60.00 L270.95,60.00 L272.66,60.00 L274.38,60.00 L276.09,60.00 L277.81,60.00 L279.52,60.00 L281.24,60.00 L282.95,60.00 L284.67,60.00 L286.38,60.00 L288.10,60.00 L289.81,60.00 L291.53,60.00 L293.24,60.00 L294.96,60.00 L296.67,60.00 L298.39,60.00 L300.10,60.01 L301.82,60.01 L303.53,60.01 L305.25,60.01 L306.96,60.01 L308.68,60.02 L310.39,60.02 L312.11,60.03 L313.82,60.03 L315.54,60.04 L317.25,60.05 L318.97,60.06 L320.69,60.07 L322.40,60.09 L324.12,60.11 L325.83,60.13 L327.55,60.16 L329.26,60.19 L330.98,60.23 L332.69,60.27 L334.41,60.32 L336.12,60.38 L337.84,60.45 L339.55,60.53 L341.27,60.62 L342.98,60.72 L344.70,60.84 L346.41,60.98 L348.13,61.14 L349.84,61.31 L351.56,61.51 L353.27,61.74 L354.99,62.00 L356.70,62.28 L358.42,62.60 L360.13,62.96 L361.85,63.36 L363.56,63.80 L365.28,64.29 L366.99,64.83 L368.71,65.43 L370.42,66.09 L372.14,66.81 L373.85,67.60 L375.57,68.47 L377.28,69.41 L379.00,70.44 L380.71,71.56 L382.43,72.77 L384.14,74.07 L385.86,75.49 L387.57,77.01 L389.29,78.65 L391.00,80.41 L392.72,82.29 L394.43,84.31 L396.15,86.46 L397.86,88.75 L399.58,91.20 L401.29,93.79 L403.01,96.54 L404.73,99.45 L406.44,102.53 L408.16,105.78 L409.87,109.21 L411.59,112.82 L413.30,116.60 L415.02,120.58 L416.73,124.75 L418.45,129.11 L420.16,133.66 L421.88,138.42 L423.59,143.38 L425.31,148.54 L427.02,153.90 L428.74,159.47 L430.45,165.24 L432.17,171.22 L433.88,177.41 L435.60,183.81 L437.31,190.41 L439.03,197.22 L440.74,204.23 L442.46,211.44 L444.17,218.86 L445.89,226.47 L447.60,234.28 L449.32,242.28 L451.03,250.47 L452.75,258.85 L454.46,267.41 L456.18,276.15 L457.89,285.07 L459.61,294.15 L461.32,303.40 L463.04,312.81 L464.75,322.38 L466.47,332.09 L468.18,341.95 L469.90,351.94 L471.61,362.07 L473.33,372.33 L475.04,382.70 L476.76,393.19 L478.47,403.79 L480.19,414.48 L481.90,425.28 L483.62,436.16 L485.33,447.12 L487.05,458.16 L488.76,469.26 L490.48,480.43 L492.20,491.66 L493.91,502.93 L495.63,514.25 L497.34,525.60 L499.06,536.98 L500.77,548.38 L502.49,559.81 L504.20,571.24 L505.92,582.68 L507.63,594.12 L509.35,605.55 L511.06,616.97 L512.78,628.37 L514.49,639.75 L516.21,651.11 L517.92,662.42 L519.64,673.70 L521.35,684.94 L523.07,696.13 L524.78,707.26 L526.50,718.34 L528.21,729.36 L529.93,740.31 L531.64,751.19 L533.36,762.00 L535.07,772.73 L536.79,783.39 L538.50,793.96 L540.22,804.44 L541.93,814.83 L543.65,825.14 L545.36,835.34 L547.08,845.45 L548.79,855.47 L550.51,865.37 L552.22,875.18 L553.94,884.88 L555.65,894.47 L557.37,903.95 L559.08,913.32 L560.80,922.58 L562.51,931.73 L564.23,940.76 L565.94,949.68 L567.66,958.48 L569.37,967.16 L571.09,975.73 L572.80,984.18 L574.52,992.51 L576.24,1000.72 L577.95,1008.81 L579.67,1016.78 L581.38,1024.63 L583.10,1032.36 L584.81,1039.98 L586.53,1047.47 L588.24,1054.85 L589.96,1062.11 L591.67,1069.25 L593.39,1076.27 L595.10,1083.17 L596.82,1089.96 L598.53,1096.64 L600.25,1103.20 L601.96,1109.64 L603.68,1115.97 L605.39,1122.19 L607.11,1128.30 L608.82,1134.29 L610.54,1140.18 L612.25,1145.96 L613.97,1151.63 L615.68,1157.20 L617.40,1162.66 L619.11,1168.01 L620.83,1173.27 L622.54,1178.42 L624.26,1183.47 L625.97,1188.42 L627.69,1193.27 L629.40,1198.03 L631.12,1202.69 L632.83,1207.26 L634.55,1211.73 L636.26,1216.11 L637.98,1220.40 L639.69,1224.61 L641.41,1228.72 L643.12,1232.75 L644.84,1236.70 L646.55,1240.56 L648.27,1244.34 L649.98,1248.03 L651.70,1251.65 L653.41,1255.19 L655.13,1258.65 L656.84,1262.04 L658.56,1265.35 L660.27,1268.59 L661.99,1271.75 L663.71,1274.85 L665.42,1277.87 L667.14,1280.83 L668.85,1283.72 L670.57,1286.55 L672.28,1289.31 L674.00,1292.01 L675.71,1294.64 L677.43,1297.22 L679.14,1299.73 L680.86,1302.19 L682.57,1304.58 L684.29,1306.93 L686.00,1309.21 L687.72,1311.45 L689.43,1313.63 L691.15,1315.76 L692.86,1317.83 L694.58,1319.86 L696.29,1321.84 L698.01,1323.77 L699.72,1325.65 L701.44,1327.49 L703.15,1329.29 L704.87,1331.03 L706.58,1332.74 L708.30,1334.41 L710.01,1336.03 L711.73,1337.61 L713.44,1339.16 L715.16,1340.66 L716.87,1342.13 L718.59,1343.56 L720.30,1344.95 L722.02,1346.31 L723.73,1347.64 L725.45,1348.93 L727.16,1350.19 L728.88,1351.42 L730.59,1352.61 L732.31,1353.78 L734.02,1354.91 L735.74,1356.02 L737.45,1357.09 L739.17,1358.14 L740.88,1359.16 L742.60,1360.16 L744.31,1361.13 L746.03,1362.07 L747.75,1362.99 L749.46,1363.89 L751.18,1364.76 L752.89,1365.60 L754.61,1366.43 L756.32,1367.23 L758.04,1368.02 L759.75,1368.78 L761.47,1369.52 L763.18,1370.24 L764.90,1370.94 L766.61,1371.62 L768.33,1372.29 L770.04,1372.93 L771.76,1373.56 L773.47,1374.18 L775.19,1374.77 L776.90,1375.35 L778.62,1375.91 L780.33,1376.46 L782.05,1376.99 L783.76,1377.51 L785.48,1378.01 L787.19,1378.50 L788.91,1378.98 L790.62,1379.44 L792.34,1379.89 L794.05,1380.33 L795.77,1380.75 L797.48,1381.16 L799.20,1381.57 L800.91,1381.96 L802.63,1382.34 L804.34,1382.70 L806.06,1383.06 L807.77,1383.41 L809.49,1383.75 L811.20,1384.07 L812.92,1384.39 L814.63,1384.70 L816.35,1385.00 L818.06,1385.30 L819.78,1385.58 L821.49,1385.86 L823.21,1386.12 L824.92,1386.38 L826.64,1386.63 L828.35,1386.88 L830.07,1387.12 L831.78,1387.35 L833.50,1387.57 L835.22,1387.79 L836.93,1388.00 L838.65,1388.20 L840.36,1388.40 L842.08,1388.60 L843.79,1388.78 L845.51,1388.96 L847.22,1389.14 L848.94,1389.31 L850.65,1389.48 L852.37,1389.64 L854.08,1389.79 L855.80,1389.94 L857.51,1390.09 L859.23,1390.23 L860.94,1390.37 L862.66,1390.50 L864.37,1390.63 L866.09,1390.76 L867.80,1390.88 L869.52,1391.00 L871.23,1391.11 L872.95,1391.23 L874.66,1391.33 L876.38,1391.44 L878.09,1391.54 L879.81,1391.64 L881.52,1391.73 L883.24,1391.82 L884.95,1391.91 L886.67,1392.00 L888.38,1392.08 L890.10,1392.16 L891.81,1392.24 L893.53,1392.32 L895.24,1392.39 L896.96,1392.46 L898.67,1392.53 L900.39,1392.60 L902.10,1392.66 L903.82,1392.72 L905.53,1392.78 L907.25,1392.84 L908.96,1392.90 L910.68,1392.95 L912.39,1393.01 L914.11,1393.06 L915.82,1393.11 L917.54,1393.16 L919.26,1393.20 L920.97,1393.25 L922.69,1393.29 L924.40,1393.33 L926.12,1393.37 L927.83,1393.41 L929.55,1393.45 L931.26,1393.49 L932.98,1393.52 L934.69,1393.56 L936.41,1393.59 L938.12,1393.62 L939.84,1393.66 L941.55,1393.69 L943.27,1393.71 L944.98,1393.74 L946.70,1393.77 L948.41,1393.80 L950.13,1393.82 L951.84,1393.85 L953.56,1393.87 L955.27,1393.89 L956.99,1393.91 L958.70,1393.94 L960.42,1393.96 L962.13,1393.98 L963.85,1394.00 L965.56,1394.01 L967.28,1394.03 L968.99,1394.05 L970.71,1394.07 L972.42,1394.08 L974.14,1394.10 L975.85,1394.11 L977.57,1394.13 L979.28,1394.14 L981.00,1394.15 L982.71,1394.17 L984.43,1394.18 L986.14,1394.19 L987.86,1394.20 L989.57,1394.21 L991.29,1394.23 L993.00,1394.24 L994.72,1394.25 L996.43,1394.26 L998.15,1394.27 L999.86,1394.27 L1001.58,1394.28 L1003.29,1394.29 L1005.01,1394.30 L1006.73,1394.31 L1008.44,1394.31 L1010.16,1394.32 L1011.87,1394.33 L1013.59,1394.34 L1015.30,1394.34 L1017.02,1394.35 L1018.73,1394.35 L1020.45,1394.36 L1022.16,1394.37 L1023.88,1394.37 L1025.59,1394.38 L1027.31,1394.38 L1029.02,1394.39 L1030.74,1394.39 L1032.45,1394.39 L1034.17,1394.40 L1035.88,1394.40 L1037.60,1394.41 L1039.31,1394.41 L1041.03,1394.41 L1042.74,1394.42 L1044.46,1394.42 L1046.17,1394.42 L1047.89,1394.43 L1049.60,1394.43 L1051.32,1394.43 L1053.03,1394.44 L1054.75,1394.44 L1056.46,1394.44 L1058.18,1394.44 L1059.89,1394.45 L1061.61,1394.45 L1063.32,1394.45 L1065.04,1394.45 L1066.75,1394.45 L1068.47,1394.46 L1070.18,1394.46 L1071.90,1394.46 L1073.61,1394.46 L1075.33,1394.46 L1077.04,1394.47 L1078.76,1394.47 L1080.47,1394.47 L1082.19,1394.47 L1083.90,1394.47 L1085.62,1394.47 L1087.33,1394.47 L1089.05,1394.47 L1090.77,1394.48 L1092.48,1394.48 L1094.20,1394.48 L1095.91,1394.48 L1097.63,1394.48 L1099.34,1394.48 L1101.06,1394.48 L1102.77,1394.48 L1104.49,1394.48 L1106.20,1394.48 L1107.92,1394.48 L1109.63,1394.49 L1111.35,1394.49 L1113.06,1394.49 L1114.78,1394.49 L1116.49,1394.49 L1118.21,1394.49 L1119.92,1394.49 L1121.64,1394.49 L1123.35,1394.49 L1125.07,1394.49 L1126.78,1394.49 L1128.50,1394.49 L1130.21,1394.49 L1131.93,1394.49 L1133.64,1394.49 L1135.36,1394.49 L1137.07,1394.49 L1138.79,1394.49 L1140.50,1394.49 L1142.22,1394.49 L1143.93,1394.49 L1145.65,1394.49 L1147.36,1394.49 L1149.08,1394.50 L1150.79,1394.50 L1152.51,1394.50 L1154.22,1394.50 L1155.94,1394.50 L1157.65,1394.50 L1159.37,1394.50 L1161.08,1394.50 L1162.80,1394.50 L1164.51,1394.50 L1166.23,1394.50 L1167.94,1394.50 L1169.66,1394.50 L1171.37,1394.50 L1173.09,1394.50 L1174.80,1394.50 L1176.52,1394.50 L1178.24,1394.50 L1179.95,1394.50 L1181.67,1394.50 L1183.38,1394.50 L1185.10,1394.50 L1186.81,1394.50 L1188.53,1394.50 L1190.24,1394.50 L1191.96,1394.50 L1193.67,1394.50 L1195.39,1394.50 L1197.10,1394.50 L1198.82,1394.50 L1200.53,1394.50 L1202.25,1394.50 L1203.96,1394.50 L1205.68,1394.50 L1207.39,1394.50 L1209.11,1394.50 L1210.82,1394.50 L1212.54,1394.50 L1214.25,1394.50 L1215.97,1394.50 L1217.68,1394.50 L1219.40,1394.50 L1221.11,1394.50 L1222.83,1394.50 L1224.54,1394.50 L1226.26,1394.50 L1227.97,1394.50 L1229.69,1394.50 L1231.40,1394.50 L1233.12,1394.50 L1234.83,1394.50 L1236.55,1394.50 L1238.26,1394.50 L1239.98,1394.50 L1241.69,1394.50 L1243.41,1394.50 L1245.12,1394.50 L1246.84,1394.50 L1248.55,1394.50 L1250.27,1394.50 L1251.98,1394.50 L1253.70,1394.50 L1255.41,1394.50 L1257.13,1394.50 L1258.84,1394.50 L1260.56,1394.50 L1262.28,1394.50 L1263.99,1394.50 L1265.71,1394.50 L1267.42,1394.50 L1269.14,1394.50 L1270.85,1394.50 L1272.57,1394.50 L1274.28,1394.50 L1276.00,1394.50 L1277.71,1394.50 L1279.43,1394.50 L1281.14,1394.50 L1282.86,1394.50 L1284.57,1394.50 L1286.29,1394.50 L1288.00,1394.50 L1289.72,1394.50 L1291.43,1394.50 L1293.15,1394.50 L1294.86,1394.50 L1296.58,1394.50 L1298.29,1394.50 L1300.01,1394.50 L1301.72,1394.50 L1303.44,1394.50 L1305.15,1394.50 L1306.87,1394.50 L1308.58,1394.50 L1310.30,1394.50 L1312.01,1394.50 L1313.73,1394.50 L1315.44,1394.50 L1317.16,1394.50 L1318.87,1394.50 L1320.59,1394.50 L1322.30,1394.50 L1324.02,1394.50 L1325.73,1394.50 L1327.45,1394.50 L1329.16,1394.50 L1330.88,1394.50 L1332.59,1394.50 L1334.31,1394.50 L1336.02,1394.50 L1337.74,1394.50 L1339.45,1394.50 L1341.17,1394.50 L1342.88,1394.50 L1344.60,1394.50 L1346.31,1394.50 L1348.03,1394.50 L1349.75,1394.50 L1351.46,1394.50 L1353.18,1394.50 L1354.89,1394.50 L1356.61,1394.50 L1358.32,1394.50 L1360.04,1394.50 L1361.75,1394.50 L1363.47,1394.50 L1365.18,1394.50 L1366.90,1394.50 L1368.61,1394.50 L1370.33,1394.50 L1372.04,1394.50 L1373.76,1394.50 L1375.47,1394.50 L1377.19,1394.50 L1378.90,1394.50 L1380.62,1394.50 L1382.33,1394.50 L1384.05,1394.50 L1385.76,1394.50 L1387.48,1394.50 L1389.19,1394.50 L1390.91,1394.50 L1392.62,1394.50 L1394.34,1394.50 L1396.05,1394.50 L1397.77,1394.50 L1399.48,1394.50 L1401.20,1394.50 L1402.91,1394.50 L1404.63,1394.50 L1406.34,1394.50 L1408.06,1394.50 L1409.77,1394.50 L1411.49,1394.50 L1413.20,1394.50 L1414.92,1394.50 L1416.63,1394.50 L1418.35,1394.50 L1420.06,1394.50 L1421.78,1394.50 L1423.49,1394.50 L1425.21,1394.50 L1426.92,1394.50 L1428.64,1394.50 L1430.35,1394.50 L1432.07,1394.50 L1433.79,1394.50 L1435.50,1394.50 L1437.22,1394.50 L1438.93,1394.50 L1440.65,1394.50 L1442.36,1394.50 L1444.08,1394.50 L1445.79,1394.50 L1447.51,1394.50 L1449.22,1394.50 L1450.94,1394.50 L1452.65,1394.50 L1454.37,1394.50 L1456.08,1394.50 L1457.80,1394.50 L1459.51,1394.50 L1461.23,1394.50 L1462.94,1394.50 L1464.66,1394.50 L1466.37,1394.50 L1468.09,1394.50 L1469.80,1394.50 L1471.52,1394.50 L1473.23,1394.50 L1474.95,1394.50 L1476.66,1394.50 L1478.38,1394.50 L1480.09,1394.50 L1481.81,1394.50 L1483.52,1394.50 L1485.24,1394.50 L1486.95,1394.50 L1488.67,1394.50 L1490.38,1394.50 L1492.10,1394.50 L1493.81,1394.50 L1495.53,1394.50 L1497.24,1394.50 L1498.96,1394.50 L1500.67,1394.50 L1502.39,1394.50 L1504.10,1394.50 L1505.82,1394.50 L1507.53,1394.50 L1509.25,1394.50 L1510.96,1394.50 L1512.68,1394.50 L1514.39,1394.50 L1516.11,1394.50 L1517.82,1394.50 L1519.54,1394.50 L1521.26,1394.50 L1522.97,1394.50 L1524.69,1394.50 L1526.40,1394.50 L1528.12,1394.50 L1529.83,1394.50 L1531.55,1394.50 L1533.26,1394.50 L1534.98,1394.50 L1536.69,1394.50 L1538.41,1394.50 L1540.12,1394.50 L1541.84,1394.50 L1543.55,1394.50 L1545.27,1394.50 L1546.98,1394.50 L1548.70,1394.50 L1550.41,1394.50 L1552.13,1394.50 L1553.84,1394.50 L1555.56,1394.50 L1557.27,1394.50 L1558.99,1394.50 L1560.70,1394.50 L1562.42,1394.50 L1564.13,1394.50 L1565.85,1394.50 L1567.56,1394.50 L1569.28,1394.50 L1570.99,1394.50 L1572.71,1394.50 L1574.42,1394.50 L1576.14,1394.50 L1577.85,1394.50 L1579.57,1394.50 L1581.28,1394.50 L1583.00,1394.50 L1584.71,1394.50 L1586.43,1394.50 L1588.14,1394.50 L1589.86,1394.50 L1591.57,1394.50 L1593.29,1394.50 L1595.00,1394.50 L1596.72,1394.50 L1598.43,1394.50 L1600.15,1394.50 L1601.86,1394.50 L1603.58,1394.50 L1605.30,1394.50 L1607.01,1394.50 L1608.73,1394.50 L1610.44,1394.50 L1612.16,1394.50 L1613.87,1394.50 L1615.59,1394.50 L1617.30,1394.50 L1619.02,1394.50 L1620.73,1394.50 L1622.45,1394.50 L1624.16,1394.50 L1625.88,1394.50 L1627.59,1394.50 L1629.31,1394.50 L1631.02,1394.50 L1632.74,1394.50 L1634.45,1394.50 L1636.17,1394.50 L1637.88,1394.50 L1639.60,1394.50 L1641.31,1394.50 L1643.03,1394.50 L1644.74,1394.50 L1646.46,1394.50 L1648.17,1394.50 L1649.89,1394.50 L1651.60,1394.50 L1653.32,1394.50 L1655.03,1394.50 L1656.75,1394.50 L1658.46,1394.50 L1660.18,1394.50 L1661.89,1394.50 L1663.61,1394.50 L1665.32,1394.50 L1667.04,1394.50 L1668.75,1394.50 L1670.47,1394.50 L1672.18,1394.50 L1673.90,1394.50 L1675.61,1394.50 L1677.33,1394.50 L1679.04,1394.50 L1680.76,1394.50 L1682.47,1394.50 L1684.19,1394.50 L1685.90,1394.50 L1687.62,1394.50 L1689.33,1394.50 L1691.05,1394.50 L1692.77,1394.50 L1694.48,1394.50 L1696.20,1394.50 L1697.91,1394.50 L1699.63,1394.50 L1701.34,1394.50 L1703.06,1394.50 L1704.77,1394.50 L1706.49,1394.50 L1708.20,1394.50 L1709.92,1394.50 L1711.63,1394.50 L1713.35,1394.50 L1715.06,1394.50 L1716.78,1394.50 L1718.49,1394.50 L1720.21,1394.50 L1721.92,1394.50 L1723.64,1394.50 L1725.35,1394.50 L1727.07,1394.50 L1728.78,1394.50 L1730.50,1394.50 L1732.21,1394.50 L1733.93,1394.50 L1735.64,1394.50 L1737.36,1394.50 L1739.07,1394.50 L1740.79,1394.50 L1742.50,1394.50 L1744.22,1394.50 L1745.93,1394.50 L1747.65,1394.50 L1749.36,1394.50 L1751.08,1394.50 L1752.79,1394.50 L1754.51,1394.50 L1756.22,1394.50 L1757.94,1394.50 L1759.65,1394.50 L1761.37,1394.50 L1763.08,1394.50 L1764.80,1394.50 L1766.51,1394.50 L1768.23,1394.50 L1769.94,1394.50 L1771.66,1394.50 L1773.37,1394.50 L1775.09,1394.50 L1776.81,1394.50 L1778.52,1394.50 L1780.24,1394.50 L1781.95,1394.50 L1783.67,1394.50 L1785.38,1394.50 L1787.10,1394.50 L1788.81,1394.50 L1790.53,1394.50 L1792.24,1394.50 L1793.96,1394.50 L1795.67,1394.50 L1797.39,1394.50 L1799.10,1394.50 L1800.82,1394.50 L1802.53,1394.50 L1804.25,1394.50 L1805.96,1394.50 L1807.68,1394.50 L1809.39,1394.50 L1811.11,1394.50 L1812.82,1394.50 L1814.54,1394.50 L1816.25,1394.50 L1817.97,1394.50 L1819.68,1394.50 L1821.40,1394.50 L1823.11,1394.50 L1824.83,1394.50 L1826.54,1394.50 L1828.26,1394.50 L1829.97,1394.50 L1831.69,1394.50 L1833.40,1394.50 L1835.12,1394.50 L1836.83,1394.50 L1838.55,1394.50 L1840.26,1394.50 L1841.98,1394.50 L1843.69,1394.50 L1845.41,1394.50 L1847.12,1394.50 L1848.84,1394.50 L1850.55,1394.50 L1852.27,1394.50 L1853.98,1394.50 L1855.70,1394.50 L1857.41,1394.50 L1859.13,1394.50 L1860.84,1394.50 L1862.56,1394.50 L1864.28,1394.50 L1865.99,1394.50 L1867.71,1394.50 L1869.42,1394.50 L1871.14,1394.50 L1872.85,1394.50 L1874.57,1394.50 L1876.28,1394.50 L1878.00,1394.50 L1879.71,1394.50 L1881.43,1394.50 L1883.14,1394.50 L1884.86,1394.50 L1886.57,1394.50 L1888.29,1394.50 L1890.00,1394.50 L1891.72,1394.50 L1893.43,1394.50 L1895.15,1394.50 L1896.86,1394.50 L1898.58,1394.50 L1900.29,1394.50 L1902.01,1394.50 L1903.72,1394.50 L1905.44,1394.50 L1907.15,1394.50 L1908.87,1394.50 L1910.58,1394.50 L1912.30,1394.50 L1914.01,1394.50 L1915.73,1394.50 L1917.44,1394.50 L1919.16,1394.50 L1920.87,1394.50 L1922.59,1394.50 L1924.30,1394.50 L1926.02,1394.50 L1927.73,1394.50 L1929.45,1394.50 L1931.16,1394.50 L1932.88,1394.50 L1934.59,1394.50 L1936.31,1394.50 L1938.02,1394.50 L1939.74,1394.50 L1941.45,1394.50 L1943.17,1394.50 L1944.88,1394.50 L1946.60,1394.50" fill="none" stroke="#231f20" stroke-width="6.96" stroke-linejoin="round"/>
<path d="M234.50,60.00 L234.93,60.00 L236.65,60.00 L238.36,60.00 L240.08,60.00 L241.79,60.00 L243.51,60.00 L245.22,60.00 L246.94,60.00 L248.65,60.00 L250.37,60.00 L252.08,60.00 L253.80,60.00 L255.51,60.00 L257.23,60.00 L258.94,60.00 L260.66,60.00 L262.37,60.00 L264.09,60.00 L265.80,60.00 L267.52,60.00 L269.23,60.00 L270.95,60.00 L272.66,60.00 L274.38,60.00 L276.09,60.00 L277.81,60.00 L279.52,60.00 L281.24,60.00 L282.95,60.00 L284.67,60.00 L286.38,60.00 L288.10,60.00 L289.81,60.00 L291.53,60.00 L293.24,60.00 L294.96,60.00 L296.67,60.00 L298.39,60.00 L300.10,60.00 L301.82,60.00 L303.53,60.00 L305.25,60.00 L306.96,60.00 L308.68,60.00 L310.39,60.00 L312.11,60.00 L313.82,60.00 L315.54,60.00 L317.25,60.00 L318.97,60.00 L320.69,60.00 L322.40,60.00 L324.12,60.00 L325.83,60.00 L327.55,60.00 L329.26,60.00 L330.98,60.00 L332.69,60.00 L334.41,60.00 L336.12,60.00 L337.84,60.00 L339.55,60.00 L341.27,60.00 L342.98,60.00 L344.70,60.00 L346.41,60.00 L348.13,60.00 L349.84,60.00 L351.56,60.00 L353.27,60.00 L354.99,60.00 L356.70,60.00 L358.42,60.00 L360.13,60.00 L361.85,60.00 L363.56,60.00 L365.28,60.01 L366.99,60.01 L368.71,60.01 L370.42,60.01 L372.14,60.01 L373.85,60.01 L375.57,60.01 L377.28,60.02 L379.00,60.02 L380.71,60.02 L382.43,60.03 L384.14,60.03 L385.86,60.03 L387.57,60.04 L389.29,60.05 L391.00,60.05 L392.72,60.06 L394.43,60.07 L396.15,60.08 L397.86,60.09 L399.58,60.10 L401.29,60.11 L403.01,60.13 L404.73,60.15 L406.44,60.16 L408.16,60.18 L409.87,60.21 L411.59,60.23 L413.30,60.26 L415.02,60.29 L416.73,60.33 L418.45,60.37 L420.16,60.41 L421.88,60.45 L423.59,60.50 L425.31,60.56 L427.02,60.62 L428.74,60.69 L430.45,60.76 L432.17,60.84 L433.88,60.92 L435.60,61.02 L437.31,61.12 L439.03,61.23 L440.74,61.35 L442.46,61.48 L444.17,61.62 L445.89,61.77 L447.60,61.93 L449.32,62.10 L451.03,62.29 L452.75,62.49 L454.46,62.70 L456.18,62.93 L457.89,63.18 L459.61,63.44 L461.32,63.73 L463.04,64.03 L464.75,64.35 L466.47,64.69 L468.18,65.05 L469.90,65.43 L471.61,65.84 L473.33,66.28 L475.04,66.74 L476.76,67.22 L478.47,67.74 L480.19,68.28 L481.90,68.85 L483.62,69.46 L485.33,70.09 L487.05,70.76 L488.76,71.47 L490.48,72.21 L492.20,72.98 L493.91,73.80 L495.63,74.65 L497.34,75.55 L499.06,76.48 L500.77,77.46 L502.49,78.49 L504.20,79.56 L505.92,80.67 L507.63,81.83 L509.35,83.04 L511.06,84.30 L512.78,85.61 L514.49,86.98 L516.21,88.39 L517.92,89.86 L519.64,91.39 L521.35,92.97 L523.07,94.61 L524.78,96.31 L526.50,98.06 L528.21,99.88 L529.93,101.75 L531.64,103.69 L533.36,105.69 L535.07,107.75 L536.79,109.88 L538.50,112.07 L540.22,114.33 L541.93,116.65 L543.65,119.04 L545.36,121.50 L547.08,124.02 L548.79,126.61 L550.51,129.27 L552.22,132.00 L553.94,134.80 L555.65,137.67 L557.37,140.61 L559.08,143.62 L560.80,146.69 L562.51,149.84 L564.23,153.06 L565.94,156.35 L567.66,159.71 L569.37,163.14 L571.09,166.64 L572.80,170.21 L574.52,173.86 L576.24,177.57 L577.95,181.35 L579.67,185.20 L581.38,189.11 L583.10,193.10 L584.81,197.16 L586.53,201.28 L588.24,205.47 L589.96,209.73 L591.67,214.05 L593.39,218.44 L595.10,222.89 L596.82,227.40 L598.53,231.98 L600.25,236.62 L601.96,241.33 L603.68,246.09 L605.39,250.92 L607.11,255.80 L608.82,260.74 L610.54,265.74 L612.25,270.79 L613.97,275.90 L615.68,281.07 L617.40,286.28 L619.11,291.55 L620.83,296.87 L622.54,302.24 L624.26,307.66 L625.97,313.13 L627.69,318.64 L629.40,324.20 L631.12,329.80 L632.83,335.45 L634.55,341.13 L636.26,346.86 L637.98,352.63 L639.69,358.43 L641.41,364.27 L643.12,370.15 L644.84,376.06 L646.55,382.00 L648.27,387.98 L649.98,393.98 L651.70,400.02 L653.41,406.08 L655.13,412.17 L656.84,418.29 L658.56,424.42 L660.27,430.58 L661.99,436.77 L663.71,442.97 L665.42,449.19 L667.14,455.43 L668.85,461.69 L670.57,467.96 L672.28,474.24 L674.00,480.54 L675.71,486.85 L677.43,493.17 L679.14,499.50 L680.86,505.83 L682.57,512.18 L684.29,518.53 L686.00,524.88 L687.72,531.24 L689.43,537.60 L691.15,543.96 L692.86,550.32 L694.58,556.67 L696.29,563.03 L698.01,569.39 L699.72,575.74 L701.44,582.08 L703.15,588.42 L704.87,594.75 L706.58,601.07 L708.30,607.39 L710.01,613.69 L711.73,619.98 L713.44,626.26 L715.16,632.53 L716.87,638.79 L718.59,645.03 L720.30,651.25 L722.02,657.46 L723.73,663.66 L725.45,669.83 L727.16,675.99 L728.88,682.12 L730.59,688.24 L732.31,694.34 L734.02,700.41 L735.74,706.47 L737.45,712.50 L739.17,718.51 L740.88,724.49 L742.60,730.45 L744.31,736.39 L746.03,742.30 L747.75,748.18 L749.46,754.04 L751.18,759.87 L752.89,765.67 L754.61,771.44 L756.32,777.19 L758.04,782.90 L759.75,788.59 L761.47,794.25 L763.18,799.88 L764.90,805.47 L766.61,811.04 L768.33,816.57 L770.04,822.08 L771.76,827.55 L773.47,832.98 L775.19,838.39 L776.90,843.76 L778.62,849.10 L780.33,854.41 L782.05,859.68 L783.76,864.92 L785.48,870.13 L787.19,875.30 L788.91,880.43 L790.62,885.53 L792.34,890.60 L794.05,895.63 L795.77,900.63 L797.48,905.59 L799.20,910.52 L800.91,915.41 L802.63,920.26 L804.34,925.08 L806.06,929.87 L807.77,934.61 L809.49,939.33 L811.20,944.00 L812.92,948.64 L814.63,953.25 L816.35,957.82 L818.06,962.35 L819.78,966.85 L821.49,971.31 L823.21,975.73 L824.92,980.12 L826.64,984.48 L828.35,988.79 L830.07,993.07 L831.78,997.32 L833.50,1001.53 L835.22,1005.71 L836.93,1009.85 L838.65,1013.95 L840.36,1018.02 L842.08,1022.05 L843.79,1026.05 L845.51,1030.01 L847.22,1033.94 L848.94,1037.83 L850.65,1041.69 L852.37,1045.51 L854.08,1049.30 L855.80,1053.06 L857.51,1056.78 L859.23,1060.47 L860.94,1064.12 L862.66,1067.74 L864.37,1071.32 L866.09,1074.88 L867.80,1078.39 L869.52,1081.88 L871.23,1085.33 L872.95,1088.75 L874.66,1092.14 L876.38,1095.49 L878.09,1098.82 L879.81,1102.11 L881.52,1105.37 L883.24,1108.59 L884.95,1111.79 L886.67,1114.95 L888.38,1118.08 L890.10,1121.19 L891.81,1124.26 L893.53,1127.30 L895.24,1130.31 L896.96,1133.29 L898.67,1136.24 L900.39,1139.16 L902.10,1142.05 L903.82,1144.91 L905.53,1147.74 L907.25,1150.55 L908.96,1153.32 L910.68,1156.07 L912.39,1158.79 L914.11,1161.48 L915.82,1164.14 L917.54,1166.77 L919.26,1169.38 L920.97,1171.96 L922.69,1174.51 L924.40,1177.04 L926.12,1179.54 L927.83,1182.01 L929.55,1184.46 L931.26,1186.88 L932.98,1189.28 L934.69,1191.65 L936.41,1193.99 L938.12,1196.31 L939.84,1198.61 L941.55,1200.88 L943.27,1203.12 L944.98,1205.34 L946.70,1207.54 L948.41,1209.72 L950.13,1211.87 L951.84,1213.99 L953.56,1216.10 L955.27,1218.18 L956.99,1220.23 L958.70,1222.27 L960.42,1224.28 L962.13,1226.27 L963.85,1228.24 L965.56,1230.19 L967.28,1232.11 L968.99,1234.02 L970.71,1235.90 L972.42,1237.76 L974.14,1239.61 L975.85,1241.43 L977.57,1243.23 L979.28,1245.01 L981.00,1246.77 L982.71,1248.51 L984.43,1250.23 L986.14,1251.93 L987.86,1253.62 L989.57,1255.28 L991.29,1256.93 L993.00,1258.55 L994.72,1260.16 L996.43,1261.75 L998.15,1263.32 L999.86,1264.88 L1001.58,1266.41 L1003.29,1267.93 L1005.01,1269.43 L1006.73,1270.92 L1008.44,1272.38 L1010.16,1273.83 L1011.87,1275.27 L1013.59,1276.69 L1015.30,1278.09 L1017.02,1279.47 L1018.73,1280.84 L1020.45,1282.19 L1022.16,1283.53 L1023.88,1284.85 L1025.59,1286.16 L1027.31,1287.45 L1029.02,1288.73 L1030.74,1289.99 L1032.45,1291.24 L1034.17,1292.47 L1035.88,1293.69 L1037.60,1294.90 L1039.31,1296.09 L1041.03,1297.26 L1042.74,1298.43 L1044.46,1299.58 L1046.17,1300.71 L1047.89,1301.84 L1049.60,1302.95 L1051.32,1304.04 L1053.03,1305.13 L1054.75,1306.20 L1056.46,1307.25 L1058.18,1308.30 L1059.89,1309.33 L1061.61,1310.36 L1063.32,1311.37 L1065.04,1312.36 L1066.75,1313.35 L1068.47,1314.32 L1070.18,1315.29 L1071.90,1316.24 L1073.61,1317.18 L1075.33,1318.11 L1077.04,1319.03 L1078.76,1319.93 L1080.47,1320.83 L1082.19,1321.72 L1083.90,1322.59 L1085.62,1323.46 L1087.33,1324.31 L1089.05,1325.16 L1090.77,1325.99 L1092.48,1326.82 L1094.20,1327.63 L1095.91,1328.44 L1097.63,1329.23 L1099.34,1330.02 L1101.06,1330.79 L1102.77,1331.56 L1104.49,1332.32 L1106.20,1333.07 L1107.92,1333.81 L1109.63,1334.54 L1111.35,1335.26 L1113.06,1335.98 L1114.78,1336.68 L1116.49,1337.38 L1118.21,1338.07 L1119.92,1338.75 L1121.64,1339.42 L1123.35,1340.09 L1125.07,1340.74 L1126.78,1341.39 L1128.50,1342.03 L1130.21,1342.67 L1131.93,1343.29 L1133.64,1343.91 L1135.36,1344.52 L1137.07,1345.12 L1138.79,1345.72 L1140.50,1346.31 L1142.22,1346.89 L1143.93,1347.47 L1145.65,1348.03 L1147.36,1348.60 L1149.08,1349.15 L1150.79,1349.70 L1152.51,1350.24 L1154.22,1350.77 L1155.94,1351.30 L1157.65,1351.82 L1159.37,1352.34 L1161.08,1352.85 L1162.80,1353.35 L1164.51,1353.85 L1166.23,1354.34 L1167.94,1354.82 L1169.66,1355.30 L1171.37,1355.78 L1173.09,1356.24 L1174.80,1356.71 L1176.52,1357.16 L1178.24,1357.61 L1179.95,1358.06 L1181.67,1358.50 L1183.38,1358.94 L1185.10,1359.37 L1186.81,1359.79 L1188.53,1360.21 L1190.24,1360.62 L1191.96,1361.03 L1193.67,1361.44 L1195.39,1361.84 L1197.10,1362.23 L1198.82,1362.62 L1200.53,1363.01 L1202.25,1363.39 L1203.96,1363.76 L1205.68,1364.13 L1207.39,1364.50 L1209.11,1364.86 L1210.82,1365.22 L1212.54,1365.57 L1214.25,1365.92 L1215.97,1366.27 L1217.68,1366.61 L1219.40,1366.95 L1221.11,1367.28 L1222.83,1367.61 L1224.54,1367.93 L1226.26,1368.25 L1227.97,1368.57 L1229.69,1368.88 L1231.40,1369.19 L1233.12,1369.50 L1234.83,1369.80 L1236.55,1370.10 L1238.26,1370.39 L1239.98,1370.68 L1241.69,1370.97 L1243.41,1371.25 L1245.12,1371.53 L1246.84,1371.81 L1248.55,1372.09 L1250.27,1372.36 L1251.98,1372.62 L1253.70,1372.89 L1255.41,1373.15 L1257.13,1373.40 L1258.84,1373.66 L1260.56,1373.91 L1262.28,1374.16 L1263.99,1374.40 L1265.71,1374.65 L1267.42,1374.89 L1269.14,1375.12 L1270.85,1375.36 L1272.57,1375.59 L1274.28,1375.81 L1276.00,1376.04 L1277.71,1376.26 L1279.43,1376.48 L1281.14,1376.70 L1282.86,1376.91 L1284.57,1377.12 L1286.29,1377.33 L1288.00,1377.54 L1289.72,1377.74 L1291.43,1377.95 L1293.15,1378.15 L1294.86,1378.34 L1296.58,1378.54 L1298.29,1378.73 L1300.01,1378.92 L1301.72,1379.11 L1303.44,1379.29 L1305.15,1379.47 L1306.87,1379.66 L1308.58,1379.83 L1310.30,1380.01 L1312.01,1380.18 L1313.73,1380.36 L1315.44,1380.53 L1317.16,1380.70 L1318.87,1380.86 L1320.59,1381.02 L1322.30,1381.19 L1324.02,1381.35 L1325.73,1381.50 L1327.45,1381.66 L1329.16,1381.82 L1330.88,1381.97 L1332.59,1382.12 L1334.31,1382.27 L1336.02,1382.41 L1337.74,1382.56 L1339.45,1382.70 L1341.17,1382.84 L1342.88,1382.98 L1344.60,1383.12 L1346.31,1383.26 L1348.03,1383.39 L1349.75,1383.53 L1351.46,1383.66 L1353.18,1383.79 L1354.89,1383.92 L1356.61,1384.04 L1358.32,1384.17 L1360.04,1384.29 L1361.75,1384.42 L1363.47,1384.54 L1365.18,1384.66 L1366.90,1384.77 L1368.61,1384.89 L1370.33,1385.01 L1372.04,1385.12 L1373.76,1385.23 L1375.47,1385.34 L1377.19,1385.45 L1378.90,1385.56 L1380.62,1385.67 L1382.33,1385.77 L1384.05,1385.88 L1385.76,1385.98 L1387.48,1386.08 L1389.19,1386.18 L1390.91,1386.28 L1392.62,1386.38 L1394.34,1386.48 L1396.05,1386.57 L1397.77,1386.67 L1399.48,1386.76 L1401.20,1386.86 L1402.91,1386.96 L1404.63,1387.05 L1406.34,1387.15 L1408.06,1387.25 L1409.77,1387.35 L1411.49,1387.45 L1413.20,1387.55 L1414.92,1387.66 L1416.63,1387.76 L1418.35,1387.86 L1420.06,1387.97 L1421.78,1388.07 L1423.49,1388.17 L1425.21,1388.28 L1426.92,1388.38 L1428.64,1388.49 L1430.35,1388.59 L1432.07,1388.69 L1433.79,1388.80 L1435.50,1388.90 L1437.22,1389.01 L1438.93,1389.11 L1440.65,1389.21 L1442.36,1389.32 L1444.08,1389.42 L1445.79,1389.52 L1447.51,1389.62 L1449.22,1389.72 L1450.94,1389.82 L1452.65,1389.92 L1454.37,1390.02 L1456.08,1390.12 L1457.80,1390.22 L1459.51,1390.32 L1461.23,1390.41 L1462.94,1390.51 L1464.66,1390.61 L1466.37,1390.70 L1468.09,1390.79 L1469.80,1390.89 L1471.52,1390.98 L1473.23,1391.07 L1474.95,1391.16 L1476.66,1391.24 L1478.38,1391.33 L1480.09,1391.42 L1481.81,1391.50 L1483.52,1391.59 L1485.24,1391.67 L1486.95,1391.75 L1488.67,1391.83 L1490.38,1391.91 L1492.10,1391.99 L1493.81,1392.07 L1495.53,1392.14 L1497.24,1392.22 L1498.96,1392.29 L1500.67,1392.36 L1502.39,1392.43 L1504.10,1392.50 L1505.82,1392.57 L1507.53,1392.64 L1509.25,1392.70 L1510.96,1392.77 L1512.68,1392.83 L1514.39,1392.89 L1516.11,1392.95 L1517.82,1393.01 L1519.54,1393.07 L1521.26,1393.12 L1522.97,1393.18 L1524.69,1393.23 L1526.40,1393.29 L1528.12,1393.34 L1529.83,1393.39 L1531.55,1393.44 L1533.26,1393.48 L1534.98,1393.53 L1536.69,1393.57 L1538.41,1393.62 L1540.12,1393.66 L1541.84,1393.70 L1543.55,1393.74 L1545.27,1393.78 L1546.98,1393.82 L1548.70,1393.85 L1550.41,1393.89 L1552.13,1393.92 L1553.84,1393.96 L1555.56,1393.99 L1557.27,1394.02 L1558.99,1394.05 L1560.70,1394.08 L1562.42,1394.10 L1564.13,1394.13 L1565.85,1394.15 L1567.56,1394.18 L1569.28,1394.20 L1570.99,1394.22 L1572.71,1394.24 L1574.42,1394.26 L1576.14,1394.28 L1577.85,1394.30 L1579.57,1394.32 L1581.28,1394.34 L1583.00,1394.35 L1584.71,1394.37 L1586.43,1394.38 L1588.14,1394.39 L1589.86,1394.40 L1591.57,1394.42 L1593.29,1394.43 L1595.00,1394.44 L1596.72,1394.44 L1598.43,1394.45 L1600.15,1394.46 L1601.86,1394.47 L1603.58,1394.47 L1605.30,1394.48 L1607.01,1394.48 L1608.73,1394.49 L1610.44,1394.49 L1612.16,1394.49 L1613.87,1394.50 L1615.59,1394.50 L1617.30,1394.50 L1619.02,1394.50 L1620.73,1394.50 L1622.45,1394.50 L1624.16,1394.50 L1625.88,1394.50 L1627.59,1394.50 L1629.31,1394.50 L1631.02,1394.50 L1632.74,1394.50 L1634.45,1394.50 L1636.17,1394.50 L1637.88,1394.50 L1639.60,1394.50 L1641.31,1394.50 L1643.03,1394.50 L1644.74,1394.50 L1646.46,1394.50 L1648.17,1394.50 L1649.89,1394.50 L1651.60,1394.50 L1653.32,1394.50 L1655.03,1394.50 L1656.75,1394.50 L1658.46,1394.50 L1660.18,1394.50 L1661.89,1394.50 L1663.61,1394.50 L1665.32,1394.50 L1667.04,1394.50 L1668.75,1394.50 L1670.47,1394.50 L1672.18,1394.50 L1673.90,1394.50 L1675.61,1394.50 L1677.33,1394.50 L1679.04,1394.50 L1680.76,1394.50 L1682.47,1394.50 L1684.19,1394.50 L1685.90,1394.50 L1687.62,1394.50 L1689.33,1394.50 L1691.05,1394.50 L1692.77,1394.50 L1694.48,1394.50 L1696.20,1394.50 L1697.91,1394.50 L1699.63,1394.50 L1701.34,1394.50 L1703.06,1394.50 L1704.77,1394.50 L1706.49,1394.50 L1708.20,1394.50 L1709.92,1394.50 L1711.63,1394.50 L1713.35,1394.50 L1715.06,1394.50 L1716.78,1394.50 L1718.49,1394.50 L1720.21,1394.50 L1721.92,1394.50 L1723.64,1394.50 L1725.35,1394.50 L1727.07,1394.50 L1728.78,1394.50 L1730.50,1394.50 L1732.21,1394.50 L1733.93,1394.50 L1735.64,1394.50 L1737.36,1394.50 L1739.07,1394.50 L1740.79,1394.50 L1742.50,1394.50 L1744.22,1394.50 L1745.93,1394.50 L1747.65,1394.50 L1749.36,1394.50 L1751.08,1394.50 L1752.79,1394.50 L1754.51,1394.50 L1756.22,1394.50 L1757.94,1394.50 L1759.65,1394.50 L1761.37,1394.50 L1763.08,1394.50 L1764.80,1394.50 L1766.51,1394.50 L1768.23,1394.50 L1769.94,1394.50 L1771.66,1394.50 L1773.37,1394.50 L1775.09,1394.50 L1776.81,1394.50 L1778.52,1394.50 L1780.24,1394.50 L1781.95,1394.50 L1783.67,1394.50 L1785.38,1394.50 L1787.10,1394.50 L1788.81,1394.50 L1790.53,1394.50 L1792.24,1394.50 L1793.96,1394.50 L1795.67,1394.50 L1797.39,1394.50 L1799.10,1394.50 L1800.82,1394.50 L1802.53,1394.50 L1804.25,1394.50 L1805.96,1394.50 L1807.68,1394.50 L1809.39,1394.50 L1811.11,1394.50 L1812.82,1394.50 L1814.54,1394.50 L1816.25,1394.50 L1817.97,1394.50 L1819.68,1394.50 L1821.40,1394.50 L1823.11,1394.50 L1824.83,1394.50 L1826.54,1394.50 L1828.26,1394.50 L1829.97,1394.50 L1831.69,1394.50 L1833.40,1394.50 L1835.12,1394.50 L1836.83,1394.50 L1838.55,1394.50 L1840.26,1394.50 L1841.98,1394.50 L1843.69,1394.50 L1845.41,1394.50 L1847.12,1394.50 L1848.84,1394.50 L1850.55,1394.50 L1852.27,1394.50 L1853.98,1394.50 L1855.70,1394.50 L1857.41,1394.50 L1859.13,1394.50 L1860.84,1394.50 L1862.56,1394.50 L1864.28,1394.50 L1865.99,1394.50 L1867.71,1394.50 L1869.42,1394.50 L1871.14,1394.50 L1872.85,1394.50 L1874.57,1394.50 L1876.28,1394.50 L1878.00,1394.50 L1879.71,1394.50 L1881.43,1394.50 L1883.14,1394.50 L1884.86,1394.50 L1886.57,1394.50 L1888.29,1394.50 L1890.00,1394.50 L1891.72,1394.50 L1893.43,1394.50 L1895.15,1394.50 L1896.86,1394.50 L1898.58,1394.50 L1900.29,1394.50 L1902.01,1394.50 L1903.72,1394.50 L1905.44,1394.50 L1907.15,1394.50 L1908.87,1394.50 L1910.58,1394.50 L1912.30,1394.50 L1914.01,1394.50 L1915.73,1394.50 L1917.44,1394.50 L1919.16,1394.50 L1920.87,1394.50 L1922.59,1394.50 L1924.30,1394.50 L1926.02,1394.50 L1927.73,1394.50 L1929.45,1394.50 L1931.16,1394.50 L1932.88,1394.50 L1934.59,1394.50 L1936.31,1394.50 L1938.02,1394.50 L1939.74,1394.50 L1941.45,1394.50 L1943.17,1394.50 L1944.88,1394.50 L1946.60,1394.50" fill="none" stroke="#ed1c24" stroke-width="5.60" stroke-dasharray="18.500 15.998" stroke-linejoin="round"/>
<path d="M234.50,60.00 L234.93,60.00 L236.65,60.00 L238.36,60.00 L240.08,60.00 L241.79,60.00 L243.51,60.00 L245.22,60.00 L246.94,60.00 L248.65,60.00 L250.37,60.00 L252.08,60.00 L253.80,60.00 L255.51,60.00 L257.23,60.00 L258.94,60.00 L260.66,60.00 L262.37,60.00 L264.09,60.00 L265.80,60.00 L267.52,60.00 L269.23,60.00 L270.95,60.00 L272.66,60.00 L274.38,60.00 L276.09,60.00 L277.81,60.00 L279.52,60.00 L281.24,60.00 L282.95,60.00 L284.67,60.00 L286.38,60.00 L288.10,60.00 L289.81,60.00 L291.53,60.00 L293.24,60.00 L294.96,60.00 L296.67,60.00 L298.39,60.00 L300.10,60.00 L301.82,60.00 L303.53,60.00 L305.25,60.00 L306.96,60.00 L308.68,60.00 L310.39,60.00 L312.11,60.00 L313.82,60.00 L315.54,60.00 L317.25,60.00 L318.97,60.00 L320.69,60.00 L322.40,60.00 L324.12,60.00 L325.83,60.00 L327.55,60.00 L329.26,60.00 L330.98,60.00 L332.69,60.00 L334.41,60.00 L336.12,60.00 L337.84,60.00 L339.55,60.00 L341.27,60.00 L342.98,60.00 L344.70,60.00 L346.41,60.00 L348.13,60.00 L349.84,60.00 L351.56,60.00 L353.27,60.00 L354.99,60.00 L356.70,60.00 L358.42,60.00 L360.13,60.00 L361.85,60.00 L363.56,60.00 L365.28,60.00 L366.99,60.00 L368.71,60.00 L370.42,60.00 L372.14,60.00 L373.85,60.00 L375.57,60.00 L377.28,60.00 L379.00,60.00 L380.71,60.00 L382.43,60.00 L384.14,60.00 L385.86,60.00 L387.57,60.00 L389.29,60.00 L391.00,60.00 L392.72,60.00 L394.43,60.00 L396.15,60.00 L397.86,60.00 L399.58,60.00 L401.29,60.00 L403.01,60.00 L404.73,60.00 L406.44,60.00 L408.16,60.00 L409.87,60.00 L411.59,60.00 L413.30,60.00 L415.02,60.00 L416.73,60.00 L418.45,60.00 L420.16,60.00 L421.88,60.00 L423.59,60.00 L425.31,60.00 L427.02,60.00 L428.74,60.00 L430.45,60.00 L432.17,60.00 L433.88,60.00 L435.60,60.00 L437.31,60.00 L439.03,60.00 L440.74,60.00 L442.46,60.00 L444.17,60.00 L445.89,60.00 L447.60,60.00 L449.32,60.00 L451.03,60.00 L452.75,60.00 L454.46,60.00 L456.18,60.00 L457.89,60.00 L459.61,60.00 L461.32,60.00 L463.04,60.00 L464.75,60.00 L466.47,60.00 L468.18,60.00 L469.90,60.00 L471.61,60.00 L473.33,60.00 L475.04,60.00 L476.76,60.00 L478.47,60.00 L480.19,60.00 L481.90,60.00 L483.62,60.00 L485.33,60.00 L487.05,60.00 L488.76,60.00 L490.48,60.00 L492.20,60.00 L493.91,60.00 L495.63,60.00 L497.34,60.00 L499.06,60.00 L500.77,60.00 L502.49,60.00 L504.20,60.00 L505.92,60.00 L507.63,60.00 L509.35,60.00 L511.06,60.00 L512.78,60.00 L514.49,60.00 L516.21,60.00 L517.92,60.00 L519.64,60.00 L521.35,60.00 L523.07,60.00 L524.78,60.00 L526.50,60.00 L528.21,60.00 L529.93,60.00 L531.64,60.00 L533.36,60.00 L535.07,60.00 L536.79,60.00 L538.50,60.00 L540.22,60.00 L541.93,60.01 L543.65,60.09 L545.36,60.23 L547.08,60.45 L548.79,60.93 L550.51,62.24 L552.22,63.41 L553.94,64.58 L555.65,65.78 L557.37,67.03 L559.08,68.36 L560.80,69.80 L562.51,71.43 L564.23,73.24 L565.94,75.07 L567.66,76.89 L569.37,78.75 L571.09,80.68 L572.80,82.75 L574.52,85.00 L576.24,87.40 L577.95,89.95 L579.67,92.62 L581.38,95.41 L583.10,98.34 L584.81,101.43 L586.53,104.68 L588.24,108.09 L589.96,111.65 L591.67,115.35 L593.39,119.19 L595.10,123.17 L596.82,127.29 L598.53,131.54 L600.25,135.94 L601.96,140.56 L603.68,145.50 L605.39,150.66 L607.11,155.94 L608.82,161.26 L610.54,166.55 L612.25,171.74 L613.97,177.00 L615.68,182.51 L617.40,188.37 L619.11,194.61 L620.83,201.18 L622.54,207.97 L624.26,214.86 L625.97,221.74 L627.69,228.47 L629.40,235.33 L631.12,242.31 L632.83,249.42 L634.55,256.64 L636.26,263.97 L637.98,271.41 L639.69,278.96 L641.41,286.61 L643.12,294.36 L644.84,302.21 L646.55,310.14 L648.27,318.16 L649.98,326.26 L651.70,334.45 L653.41,342.70 L655.13,351.03 L656.84,359.42 L658.56,367.87 L660.27,376.38 L661.99,384.94 L663.71,393.55 L665.42,402.21 L667.14,410.90 L668.85,419.64 L670.57,428.41 L672.28,437.21 L674.00,446.03 L675.71,454.87 L677.43,463.74 L679.14,472.61 L680.86,481.50 L682.57,490.40 L684.29,499.30 L686.00,508.20 L687.72,517.10 L689.43,525.99 L691.15,534.87 L692.86,543.74 L694.58,552.60 L696.29,561.44 L698.01,570.26 L699.72,579.06 L701.44,587.83 L703.15,596.57 L704.87,605.28 L706.58,613.96 L708.30,622.60 L710.01,631.21 L711.73,639.78 L713.44,648.31 L715.16,656.79 L716.87,665.23 L718.59,673.62 L720.30,681.96 L722.02,690.26 L723.73,698.50 L725.45,706.69 L727.16,714.82 L728.88,722.90 L730.59,730.92 L732.31,738.89 L734.02,746.79 L735.74,754.64 L737.45,762.42 L739.17,770.14 L740.88,777.80 L742.60,785.39 L744.31,792.92 L746.03,800.39 L747.75,807.79 L749.46,815.13 L751.18,822.39 L752.89,829.59 L754.61,836.73 L756.32,843.79 L758.04,850.79 L759.75,857.72 L761.47,864.58 L763.18,871.37 L764.90,878.09 L766.61,884.75 L768.33,891.33 L770.04,897.85 L771.76,904.29 L773.47,910.67 L775.19,916.98 L776.90,923.22 L778.62,929.39 L780.33,935.49 L782.05,941.53 L783.76,947.49 L785.48,953.39 L787.19,959.22 L788.91,964.98 L790.62,970.68 L792.34,976.31 L794.05,981.87 L795.77,987.37 L797.48,992.80 L799.20,998.16 L800.91,1003.47 L802.63,1008.70 L804.34,1013.87 L806.06,1018.98 L807.77,1024.03 L809.49,1029.01 L811.20,1033.93 L812.92,1038.79 L814.63,1043.59 L816.35,1048.33 L818.06,1053.00 L819.78,1057.62 L821.49,1062.18 L823.21,1066.68 L824.92,1071.12 L826.64,1075.50 L828.35,1079.83 L830.07,1084.10 L831.78,1088.31 L833.50,1092.47 L835.22,1096.58 L836.93,1100.63 L838.65,1104.62 L840.36,1108.57 L842.08,1112.46 L843.79,1116.30 L845.51,1120.08 L847.22,1123.82 L848.94,1127.51 L850.65,1131.14 L852.37,1134.73 L854.08,1138.27 L855.80,1141.76 L857.51,1145.20 L859.23,1148.60 L860.94,1151.95 L862.66,1155.26 L864.37,1158.52 L866.09,1161.73 L867.80,1164.90 L869.52,1168.03 L871.23,1171.11 L872.95,1174.15 L874.66,1177.15 L876.38,1180.11 L878.09,1183.03 L879.81,1185.90 L881.52,1188.74 L883.24,1191.53 L884.95,1194.29 L886.67,1197.01 L888.38,1199.69 L890.10,1202.34 L891.81,1204.95 L893.53,1207.52 L895.24,1210.05 L896.96,1212.55 L898.67,1215.01 L900.39,1217.44 L902.10,1219.84 L903.82,1222.20 L905.53,1224.53 L907.25,1226.83 L908.96,1229.09 L910.68,1231.32 L912.39,1233.52 L914.11,1235.69 L915.82,1237.83 L917.54,1239.94 L919.26,1242.02 L920.97,1244.07 L922.69,1246.09 L924.40,1248.09 L926.12,1250.05 L927.83,1251.99 L929.55,1253.90 L931.26,1255.78 L932.98,1257.64 L934.69,1259.47 L936.41,1261.27 L938.12,1263.05 L939.84,1264.80 L941.55,1266.53 L943.27,1268.24 L944.98,1269.92 L946.70,1271.58 L948.41,1273.21 L950.13,1274.82 L951.84,1276.41 L953.56,1277.97 L955.27,1279.52 L956.99,1281.04 L958.70,1282.54 L960.42,1284.02 L962.13,1285.48 L963.85,1286.91 L965.56,1288.33 L967.28,1289.73 L968.99,1291.11 L970.71,1292.47 L972.42,1293.81 L974.14,1295.13 L975.85,1296.43 L977.57,1297.71 L979.28,1298.98 L981.00,1300.23 L982.71,1301.46 L984.43,1302.67 L986.14,1303.87 L987.86,1305.05 L989.57,1306.21 L991.29,1307.36 L993.00,1308.49 L994.72,1309.61 L996.43,1310.71 L998.15,1311.79 L999.86,1312.86 L1001.58,1313.91 L1003.29,1314.95 L1005.01,1315.98 L1006.73,1316.99 L1008.44,1317.99 L1010.16,1318.97 L1011.87,1319.94 L1013.59,1320.90 L1015.30,1321.84 L1017.02,1322.77 L1018.73,1323.69 L1020.45,1324.59 L1022.16,1325.48 L1023.88,1326.36 L1025.59,1327.23 L1027.31,1328.09 L1029.02,1328.93 L1030.74,1329.76 L1032.45,1330.58 L1034.17,1331.39 L1035.88,1332.19 L1037.60,1332.98 L1039.31,1333.76 L1041.03,1334.52 L1042.74,1335.28 L1044.46,1336.02 L1046.17,1336.76 L1047.89,1337.48 L1049.60,1338.20 L1051.32,1338.90 L1053.03,1339.60 L1054.75,1340.29 L1056.46,1340.96 L1058.18,1341.63 L1059.89,1342.29 L1061.61,1342.94 L1063.32,1343.58 L1065.04,1344.21 L1066.75,1344.84 L1068.47,1345.45 L1070.18,1346.06 L1071.90,1346.66 L1073.61,1347.25 L1075.33,1347.83 L1077.04,1348.41 L1078.76,1348.98 L1080.47,1349.54 L1082.19,1350.09 L1083.90,1350.63 L1085.62,1351.17 L1087.33,1351.70 L1089.05,1352.22 L1090.77,1352.74 L1092.48,1353.25 L1094.20,1353.75 L1095.91,1354.25 L1097.63,1354.74 L1099.34,1355.22 L1101.06,1355.70 L1102.77,1356.17 L1104.49,1356.63 L1106.20,1357.09 L1107.92,1357.54 L1109.63,1357.99 L1111.35,1358.43 L1113.06,1358.86 L1114.78,1359.29 L1116.49,1359.71 L1118.21,1360.13 L1119.92,1360.54 L1121.64,1360.95 L1123.35,1361.35 L1125.07,1361.75 L1126.78,1362.14 L1128.50,1362.52 L1130.21,1362.90 L1131.93,1363.28 L1133.64,1363.65 L1135.36,1364.01 L1137.07,1364.38 L1138.79,1364.73 L1140.50,1365.08 L1142.22,1365.43 L1143.93,1365.77 L1145.65,1366.11 L1147.36,1366.45 L1149.08,1366.78 L1150.79,1367.10 L1152.51,1367.42 L1154.22,1367.74 L1155.94,1368.05 L1157.65,1368.36 L1159.37,1368.67 L1161.08,1368.97 L1162.80,1369.27 L1164.51,1369.56 L1166.23,1369.85 L1167.94,1370.13 L1169.66,1370.42 L1171.37,1370.70 L1173.09,1370.97 L1174.80,1371.24 L1176.52,1371.51 L1178.24,1371.78 L1179.95,1372.04 L1181.67,1372.30 L1183.38,1372.55 L1185.10,1372.80 L1186.81,1373.05 L1188.53,1373.30 L1190.24,1373.54 L1191.96,1373.78 L1193.67,1374.02 L1195.39,1374.25 L1197.10,1374.48 L1198.82,1374.71 L1200.53,1374.93 L1202.25,1375.15 L1203.96,1375.37 L1205.68,1375.59 L1207.39,1375.80 L1209.11,1376.01 L1210.82,1376.22 L1212.54,1376.43 L1214.25,1376.63 L1215.97,1376.83 L1217.68,1377.03 L1219.40,1377.23 L1221.11,1377.42 L1222.83,1377.61 L1224.54,1377.80 L1226.26,1377.99 L1227.97,1378.17 L1229.69,1378.35 L1231.40,1378.53 L1233.12,1378.71 L1234.83,1378.89 L1236.55,1379.06 L1238.26,1379.23 L1239.98,1379.40 L1241.69,1379.57 L1243.41,1379.73 L1245.12,1379.89 L1246.84,1380.05 L1248.55,1380.21 L1250.27,1380.37 L1251.98,1380.53 L1253.70,1380.68 L1255.41,1380.83 L1257.13,1380.98 L1258.84,1381.13 L1260.56,1381.27 L1262.28,1381.42 L1263.99,1381.56 L1265.71,1381.70 L1267.42,1381.84 L1269.14,1381.98 L1270.85,1382.11 L1272.57,1382.25 L1274.28,1382.38 L1276.00,1382.51 L1277.71,1382.64 L1279.43,1382.77 L1281.14,1382.90 L1282.86,1383.02 L1284.57,1383.14 L1286.29,1383.27 L1288.00,1383.39 L1289.72,1383.51 L1291.43,1383.62 L1293.15,1383.74 L1294.86,1383.85 L1296.58,1383.97 L1298.29,1384.08 L1300.01,1384.19 L1301.72,1384.30 L1303.44,1384.41 L1305.15,1384.52 L1306.87,1384.62 L1308.58,1384.73 L1310.30,1384.83 L1312.01,1384.93 L1313.73,1385.03 L1315.44,1385.13 L1317.16,1385.23 L1318.87,1385.33 L1320.59,1385.42 L1322.30,1385.52 L1324.02,1385.61 L1325.73,1385.71 L1327.45,1385.80 L1329.16,1385.89 L1330.88,1385.98 L1332.59,1386.07 L1334.31,1386.16 L1336.02,1386.24 L1337.74,1386.33 L1339.45,1386.41 L1341.17,1386.50 L1342.88,1386.58 L1344.60,1386.66 L1346.31,1386.74 L1348.03,1386.82 L1349.75,1386.90 L1351.46,1386.98 L1353.18,1387.06 L1354.89,1387.13 L1356.61,1387.21 L1358.32,1387.29 L1360.04,1387.36 L1361.75,1387.43 L1363.47,1387.50 L1365.18,1387.58 L1366.90,1387.65 L1368.61,1387.72 L1370.33,1387.79 L1372.04,1387.85 L1373.76,1387.92 L1375.47,1387.99 L1377.19,1388.05 L1378.90,1388.12 L1380.62,1388.18 L1382.33,1388.25 L1384.05,1388.31 L1385.76,1388.37 L1387.48,1388.44 L1389.19,1388.50 L1390.91,1388.56 L1392.62,1388.62 L1394.34,1388.68 L1396.05,1388.73 L1397.77,1388.79 L1399.48,1388.85 L1401.20,1388.91 L1402.91,1388.97 L1404.63,1389.03 L1406.34,1389.09 L1408.06,1389.15 L1409.77,1389.22 L1411.49,1389.28 L1413.20,1389.34 L1414.92,1389.41 L1416.63,1389.48 L1418.35,1389.54 L1420.06,1389.61 L1421.78,1389.68 L1423.49,1389.74 L1425.21,1389.81 L1426.92,1389.88 L1428.64,1389.95 L1430.35,1390.02 L1432.07,1390.09 L1433.79,1390.16 L1435.50,1390.23 L1437.22,1390.30 L1438.93,1390.37 L1440.65,1390.44 L1442.36,1390.51 L1444.08,1390.58 L1445.79,1390.65 L1447.51,1390.72 L1449.22,1390.79 L1450.94,1390.86 L1452.65,1390.93 L1454.37,1391.00 L1456.08,1391.07 L1457.80,1391.14 L1459.51,1391.21 L1461.23,1391.28 L1462.94,1391.35 L1464.66,1391.41 L1466.37,1391.48 L1468.09,1391.55 L1469.80,1391.62 L1471.52,1391.68 L1473.23,1391.75 L1474.95,1391.81 L1476.66,1391.88 L1478.38,1391.94 L1480.09,1392.01 L1481.81,1392.07 L1483.52,1392.13 L1485.24,1392.19 L1486.95,1392.25 L1488.67,1392.31 L1490.38,1392.37 L1492.10,1392.43 L1493.81,1392.49 L1495.53,1392.55 L1497.24,1392.61 L1498.96,1392.66 L1500.67,1392.72 L1502.39,1392.77 L1504.10,1392.83 L1505.82,1392.88 L1507.53,1392.93 L1509.25,1392.98 L1510.96,1393.03 L1512.68,1393.08 L1514.39,1393.13 L1516.11,1393.18 L1517.82,1393.23 L1519.54,1393.27 L1521.26,1393.32 L1522.97,1393.36 L1524.69,1393.41 L1526.40,1393.45 L1528.12,1393.49 L1529.83,1393.53 L1531.55,1393.57 L1533.26,1393.61 L1534.98,1393.65 L1536.69,1393.69 L1538.41,1393.72 L1540.12,1393.76 L1541.84,1393.79 L1543.55,1393.83 L1545.27,1393.86 L1546.98,1393.89 L1548.70,1393.92 L1550.41,1393.95 L1552.13,1393.98 L1553.84,1394.01 L1555.56,1394.04 L1557.27,1394.06 L1558.99,1394.09 L1560.70,1394.11 L1562.42,1394.14 L1564.13,1394.16 L1565.85,1394.18 L1567.56,1394.20 L1569.28,1394.22 L1570.99,1394.24 L1572.71,1394.26 L1574.42,1394.28 L1576.14,1394.30 L1577.85,1394.31 L1579.57,1394.33 L1581.28,1394.34 L1583.00,1394.36 L1584.71,1394.37 L1586.43,1394.39 L1588.14,1394.40 L1589.86,1394.41 L1591.57,1394.42 L1593.29,1394.43 L1595.00,1394.44 L1596.72,1394.45 L1598.43,1394.45 L1600.15,1394.46 L1601.86,1394.47 L1603.58,1394.47 L1605.30,1394.48 L1607.01,1394.48 L1608.73,1394.49 L1610.44,1394.49 L1612.16,1394.49 L1613.87,1394.50 L1615.59,1394.50 L1617.30,1394.50 L1619.02,1394.50 L1620.73,1394.50 L1622.45,1394.50 L1624.16,1394.50 L1625.88,1394.50 L1627.59,1394.50 L1629.31,1394.50 L1631.02,1394.50 L1632.74,1394.50 L1634.45,1394.50 L1636.17,1394.50 L1637.88,1394.50 L1639.60,1394.50 L1641.31,1394.50 L1643.03,1394.50 L1644.74,1394.50 L1646.46,1394.50 L1648.17,1394.50 L1649.89,1394.50 L1651.60,1394.50 L1653.32,1394.50 L1655.03,1394.50 L1656.75,1394.50 L1658.46,1394.50 L1660.18,1394.50 L1661.89,1394.50 L1663.61,1394.50 L1665.32,1394.50 L1667.04,1394.50 L1668.75,1394.50 L1670.47,1394.50 L1672.18,1394.50 L1673.90,1394.50 L1675.61,1394.50 L1677.33,1394.50 L1679.04,1394.50 L1680.76,1394.50 L1682.47,1394.50 L1684.19,1394.50 L1685.90,1394.50 L1687.62,1394.50 L1689.33,1394.50 L1691.05,1394.50 L1692.77,1394.50 L1694.48,1394.50 L1696.20,1394.50 L1697.91,1394.50 L1699.63,1394.50 L1701.34,1394.50 L1703.06,1394.50 L1704.77,1394.50 L1706.49,1394.50 L1708.20,1394.50 L1709.92,1394.50 L1711.63,1394.50 L1713.35,1394.50 L1715.06,1394.50 L1716.78,1394.50 L1718.49,1394.50 L1720.21,1394.50 L1721.92,1394.50 L1723.64,1394.50 L1725.35,1394.50 L1727.07,1394.50 L1728.78,1394.50 L1730.50,1394.50 L1732.21,1394.50 L1733.93,1394.50 L1735.64,1394.50 L1737.36,1394.50 L1739.07,1394.50 L1740.79,1394.50 L1742.50,1394.50 L1744.22,1394.50 L1745.93,1394.50 L1747.65,1394.50 L1749.36,1394.50 L1751.08,1394.50 L1752.79,1394.50 L1754.51,1394.50 L1756.22,1394.50 L1757.94,1394.50 L1759.65,1394.50 L1761.37,1394.50 L1763.08,1394.50 L1764.80,1394.50 L1766.51,1394.50 L1768.23,1394.50 L1769.94,1394.50 L1771.66,1394.50 L1773.37,1394.50 L1775.09,1394.50 L1776.81,1394.50 L1778.52,1394.50 L1780.24,1394.50 L1781.95,1394.50 L1783.67,1394.50 L1785.38,1394.50 L1787.10,1394.50 L1788.81,1394.50 L1790.53,1394.50 L1792.24,1394.50 L1793.96,1394.50 L1795.67,1394.50 L1797.39,1394.50 L1799.10,1394.50 L1800.82,1394.50 L1802.53,1394.50 L1804.25,1394.50 L1805.96,1394.50 L1807.68,1394.50 L1809.39,1394.50 L1811.11,1394.50 L1812.82,1394.50 L1814.54,1394.50 L1816.25,1394.50 L1817.97,1394.50 L1819.68,1394.50 L1821.40,1394.50 L1823.11,1394.50 L1824.83,1394.50 L1826.54,1394.50 L1828.26,1394.50 L1829.97,1394.50 L1831.69,1394.50 L1833.40,1394.50 L1835.12,1394.50 L1836.83,1394.50 L1838.55,1394.50 L1840.26,1394.50 L1841.98,1394.50 L1843.69,1394.50 L1845.41,1394.50 L1847.12,1394.50 L1848.84,1394.50 L1850.55,1394.50 L1852.27,1394.50 L1853.98,1394.50 L1855.70,1394.50 L1857.41,1394.50 L1859.13,1394.50 L1860.84,1394.50 L1862.56,1394.50 L1864.28,1394.50 L1865.99,1394.50 L1867.71,1394.50 L1869.42,1394.50 L1871.14,1394.50 L1872.85,1394.50 L1874.57,1394.50 L1876.28,1394.50 L1878.00,1394.50 L1879.71,1394.50 L1881.43,1394.50 L1883.14,1394.50 L1884.86,1394.50 L1886.57,1394.50 L1888.29,1394.50 L1890.00,1394.50 L1891.72,1394.50 L1893.43,1394.50 L1895.15,1394.50 L1896.86,1394.50 L1898.58,1394.50 L1900.29,1394.50 L1902.01,1394.50 L1903.72,1394.50 L1905.44,1394.50 L1907.15,1394.50 L1908.87,1394.50 L1910.58,1394.50 L1912.30,1394.50 L1914.01,1394.50 L1915.73,1394.50 L1917.44,1394.50 L1919.16,1394.50 L1920.87,1394.50 L1922.59,1394.50 L1924.30,1394.50 L1926.02,1394.50 L1927.73,1394.50 L1929.45,1394.50 L1931.16,1394.50 L1932.88,1394.50 L1934.59,1394.50 L1936.31,1394.50 L1938.02,1394.50 L1939.74,1394.50 L1941.45,1394.50 L1943.17,1394.50 L1944.88,1394.50 L1946.60,1394.50" fill="none" stroke="#ed1c24" stroke-width="6.96" stroke-dasharray="18.450 3.5 9.141 3.5" stroke-linejoin="round"/>
<path d="M234.50,60.00 L234.93,60.00 L236.65,60.00 L238.36,60.00 L240.08,60.00 L241.79,60.00 L243.51,60.00 L245.22,60.00 L246.94,60.00 L248.65,60.00 L250.37,60.00 L252.08,60.00 L253.80,60.00 L255.51,60.00 L257.23,60.00 L258.94,60.00 L260.66,60.00 L262.37,60.00 L264.09,60.00 L265.80,60.00 L267.52,60.00 L269.23,60.00 L270.95,60.00 L272.66,60.00 L274.38,60.00 L276.09,60.00 L277.81,60.00 L279.52,60.00 L281.24,60.00 L282.95,60.00 L284.67,60.00 L286.38,60.00 L288.10,60.00 L289.81,60.00 L291.53,60.00 L293.24,60.00 L294.96,60.00 L296.67,60.00 L298.39,60.00 L300.10,60.00 L301.82,60.00 L303.53,60.00 L305.25,60.00 L306.96,60.00 L308.68,60.00 L310.39,60.00 L312.11,60.00 L313.82,60.00 L315.54,60.00 L317.25,60.00 L318.97,60.01 L320.69,60.01 L322.40,60.01 L324.12,60.01 L325.83,60.02 L327.55,60.02 L329.26,60.02 L330.98,60.03 L332.69,60.04 L334.41,60.05 L336.12,60.06 L337.84,60.07 L339.55,60.08 L341.27,60.10 L342.98,60.12 L344.70,60.15 L346.41,60.18 L348.13,60.21 L349.84,60.25 L351.56,60.30 L353.27,60.35 L354.99,60.42 L356.70,60.49 L358.42,60.58 L360.13,60.67 L361.85,60.79 L363.56,60.91 L365.28,61.06 L366.99,61.23 L368.71,61.41 L370.42,61.62 L372.14,61.86 L373.85,62.13 L375.57,62.43 L377.28,62.76 L379.00,63.13 L380.71,63.55 L382.43,64.01 L384.14,64.52 L385.86,65.08 L387.57,65.70 L389.29,66.38 L391.00,67.12 L392.72,67.93 L394.43,68.82 L396.15,69.79 L397.86,70.84 L399.58,71.99 L401.29,73.22 L403.01,74.56 L404.73,76.00 L406.44,77.55 L408.16,79.21 L409.87,81.00 L411.59,82.91 L413.30,84.96 L415.02,87.14 L416.73,89.46 L418.45,91.93 L420.16,94.55 L421.88,97.32 L423.59,100.26 L425.31,103.37 L427.02,106.64 L428.74,110.09 L430.45,113.72 L432.17,117.53 L433.88,121.52 L435.60,125.71 L437.31,130.08 L439.03,134.65 L440.74,139.42 L442.46,144.39 L444.17,149.56 L445.89,154.93 L447.60,160.50 L449.32,166.28 L451.03,172.26 L452.75,178.45 L454.46,184.85 L456.18,191.44 L457.89,198.24 L459.61,205.25 L461.32,212.45 L463.04,219.85 L464.75,227.45 L466.47,235.24 L468.18,243.23 L469.90,251.40 L471.61,259.76 L473.33,268.29 L475.04,277.01 L476.76,285.89 L478.47,294.95 L480.19,304.17 L481.90,313.55 L483.62,323.08 L485.33,332.76 L487.05,342.58 L488.76,352.54 L490.48,362.63 L492.20,372.85 L493.91,383.18 L495.63,393.63 L497.34,404.19 L499.06,414.84 L500.77,425.59 L502.49,436.43 L504.20,447.36 L505.92,458.35 L507.63,469.42 L509.35,480.54 L511.06,491.73 L512.78,502.96 L514.49,514.23 L516.21,525.54 L517.92,536.89 L519.64,548.25 L521.35,559.64 L523.07,571.03 L524.78,582.43 L526.50,593.84 L528.21,605.23 L529.93,616.62 L531.64,627.99 L533.36,639.33 L535.07,650.65 L536.79,661.94 L538.50,673.19 L540.22,684.39 L541.93,695.55 L543.65,706.66 L545.36,717.72 L547.08,728.71 L548.79,739.64 L550.51,750.50 L552.22,761.29 L553.94,772.00 L555.65,782.64 L557.37,793.19 L559.08,803.66 L560.80,814.04 L562.51,824.33 L564.23,834.52 L565.94,844.62 L567.66,854.63 L569.37,864.53 L571.09,874.32 L572.80,884.02 L574.52,893.60 L576.24,903.08 L577.95,912.45 L579.67,921.71 L581.38,930.85 L583.10,939.89 L584.81,948.80 L586.53,957.61 L588.24,966.29 L589.96,974.86 L591.67,983.31 L593.39,991.65 L595.10,999.86 L596.82,1007.96 L598.53,1015.94 L600.25,1023.80 L601.96,1031.54 L603.68,1039.16 L605.39,1046.67 L607.11,1054.05 L608.82,1061.32 L610.54,1068.47 L612.25,1075.51 L613.97,1082.42 L615.68,1089.22 L617.40,1095.91 L619.11,1102.48 L620.83,1108.94 L622.54,1115.28 L624.26,1121.52 L625.97,1127.64 L627.69,1133.65 L629.40,1139.55 L631.12,1145.34 L632.83,1151.03 L634.55,1156.61 L636.26,1162.09 L637.98,1167.46 L639.69,1172.72 L641.41,1177.89 L643.12,1182.96 L644.84,1187.92 L646.55,1192.79 L648.27,1197.56 L649.98,1202.24 L651.70,1206.82 L653.41,1211.31 L655.13,1215.71 L656.84,1220.01 L658.56,1224.23 L660.27,1228.36 L661.99,1232.40 L663.71,1236.36 L665.42,1240.24 L667.14,1244.03 L668.85,1247.74 L670.57,1251.37 L672.28,1254.92 L674.00,1258.40 L675.71,1261.80 L677.43,1265.12 L679.14,1268.37 L680.86,1271.55 L682.57,1274.66 L684.29,1277.69 L686.00,1280.66 L687.72,1283.57 L689.43,1286.40 L691.15,1289.17 L692.86,1291.88 L694.58,1294.53 L696.29,1297.11 L698.01,1299.64 L699.72,1302.10 L701.44,1304.51 L703.15,1306.86 L704.87,1309.16 L706.58,1311.40 L708.30,1313.59 L710.01,1315.73 L711.73,1317.81 L713.44,1319.85 L715.16,1321.83 L716.87,1323.77 L718.59,1325.66 L720.30,1327.51 L722.02,1329.31 L723.73,1331.07 L725.45,1332.78 L727.16,1334.45 L728.88,1336.08 L730.59,1337.67 L732.31,1339.22 L734.02,1340.73 L735.74,1342.20 L737.45,1343.63 L739.17,1345.03 L740.88,1346.40 L742.60,1347.73 L744.31,1349.02 L746.03,1350.29 L747.75,1351.52 L749.46,1352.72 L751.18,1353.88 L752.89,1355.02 L754.61,1356.13 L756.32,1357.21 L758.04,1358.26 L759.75,1359.29 L761.47,1360.28 L763.18,1361.25 L764.90,1362.20 L766.61,1363.12 L768.33,1364.02 L770.04,1364.89 L771.76,1365.74 L773.47,1366.57 L775.19,1367.37 L776.90,1368.16 L778.62,1368.92 L780.33,1369.66 L782.05,1370.38 L783.76,1371.08 L785.48,1371.77 L787.19,1372.43 L788.91,1373.08 L790.62,1373.71 L792.34,1374.32 L794.05,1374.92 L795.77,1375.49 L797.48,1376.06 L799.20,1376.60 L800.91,1377.14 L802.63,1377.65 L804.34,1378.16 L806.06,1378.65 L807.77,1379.12 L809.49,1379.58 L811.20,1380.03 L812.92,1380.47 L814.63,1380.89 L816.35,1381.31 L818.06,1381.71 L819.78,1382.10 L821.49,1382.47 L823.21,1382.84 L824.92,1383.20 L826.64,1383.54 L828.35,1383.88 L830.07,1384.21 L831.78,1384.53 L833.50,1384.83 L835.22,1385.13 L836.93,1385.43 L838.65,1385.71 L840.36,1385.98 L842.08,1386.25 L843.79,1386.51 L845.51,1386.76 L847.22,1387.00 L848.94,1387.24 L850.65,1387.47 L852.37,1387.69 L854.08,1387.90 L855.80,1388.11 L857.51,1388.32 L859.23,1388.51 L860.94,1388.71 L862.66,1388.89 L864.37,1389.07 L866.09,1389.25 L867.80,1389.42 L869.52,1389.58 L871.23,1389.74 L872.95,1389.89 L874.66,1390.04 L876.38,1390.19 L878.09,1390.33 L879.81,1390.47 L881.52,1390.60 L883.24,1390.73 L884.95,1390.85 L886.67,1390.97 L888.38,1391.09 L890.10,1391.20 L891.81,1391.31 L893.53,1391.42 L895.24,1391.52 L896.96,1391.62 L898.67,1391.72 L900.39,1391.81 L902.10,1391.90 L903.82,1391.99 L905.53,1392.07 L907.25,1392.15 L908.96,1392.23 L910.68,1392.31 L912.39,1392.39 L914.11,1392.46 L915.82,1392.53 L917.54,1392.59 L919.26,1392.66 L920.97,1392.72 L922.69,1392.79 L924.40,1392.84 L926.12,1392.90 L927.83,1392.96 L929.55,1393.01 L931.26,1393.06 L932.98,1393.11 L934.69,1393.16 L936.41,1393.21 L938.12,1393.25 L939.84,1393.30 L941.55,1393.34 L943.27,1393.38 L944.98,1393.42 L946.70,1393.46 L948.41,1393.50 L950.13,1393.53 L951.84,1393.57 L953.56,1393.60 L955.27,1393.63 L956.99,1393.66 L958.70,1393.69 L960.42,1393.72 L962.13,1393.75 L963.85,1393.78 L965.56,1393.81 L967.28,1393.83 L968.99,1393.86 L970.71,1393.88 L972.42,1393.90 L974.14,1393.92 L975.85,1393.95 L977.57,1393.97 L979.28,1393.99 L981.00,1394.01 L982.71,1394.02 L984.43,1394.04 L986.14,1394.06 L987.86,1394.08 L989.57,1394.09 L991.29,1394.11 L993.00,1394.12 L994.72,1394.14 L996.43,1394.15 L998.15,1394.16 L999.86,1394.18 L1001.58,1394.19 L1003.29,1394.20 L1005.01,1394.21 L1006.73,1394.22 L1008.44,1394.23 L1010.16,1394.24 L1011.87,1394.25 L1013.59,1394.26 L1015.30,1394.27 L1017.02,1394.28 L1018.73,1394.29 L1020.45,1394.30 L1022.16,1394.31 L1023.88,1394.31 L1025.59,1394.32 L1027.31,1394.33 L1029.02,1394.34 L1030.74,1394.34 L1032.45,1394.35 L1034.17,1394.35 L1035.88,1394.36 L1037.60,1394.37 L1039.31,1394.37 L1041.03,1394.38 L1042.74,1394.38 L1044.46,1394.39 L1046.17,1394.39 L1047.89,1394.40 L1049.60,1394.40 L1051.32,1394.40 L1053.03,1394.41 L1054.75,1394.41 L1056.46,1394.42 L1058.18,1394.42 L1059.89,1394.42 L1061.61,1394.43 L1063.32,1394.43 L1065.04,1394.43 L1066.75,1394.43 L1068.47,1394.44 L1070.18,1394.44 L1071.90,1394.44 L1073.61,1394.45 L1075.33,1394.45 L1077.04,1394.45 L1078.76,1394.45 L1080.47,1394.45 L1082.19,1394.46 L1083.90,1394.46 L1085.62,1394.46 L1087.33,1394.46 L1089.05,1394.46 L1090.77,1394.46 L1092.48,1394.47 L1094.20,1394.47 L1095.91,1394.47 L1097.63,1394.47 L1099.34,1394.47 L1101.06,1394.47 L1102.77,1394.47 L1104.49,1394.48 L1106.20,1394.48 L1107.92,1394.48 L1109.63,1394.48 L1111.35,1394.48 L1113.06,1394.48 L1114.78,1394.48 L1116.49,1394.48 L1118.21,1394.48 L1119.92,1394.48 L1121.64,1394.48 L1123.35,1394.49 L1125.07,1394.49 L1126.78,1394.49 L1128.50,1394.49 L1130.21,1394.49 L1131.93,1394.49 L1133.64,1394.49 L1135.36,1394.49 L1137.07,1394.49 L1138.79,1394.49 L1140.50,1394.49 L1142.22,1394.49 L1143.93,1394.49 L1145.65,1394.49 L1147.36,1394.49 L1149.08,1394.49 L1150.79,1394.49 L1152.51,1394.49 L1154.22,1394.49 L1155.94,1394.49 L1157.65,1394.49 L1159.37,1394.49 L1161.08,1394.50 L1162.80,1394.50 L1164.51,1394.50 L1166.23,1394.50 L1167.94,1394.50 L1169.66,1394.50 L1171.37,1394.50 L1173.09,1394.50 L1174.80,1394.50 L1176.52,1394.50 L1178.24,1394.50 L1179.95,1394.50 L1181.67,1394.50 L1183.38,1394.50 L1185.10,1394.50 L1186.81,1394.50 L1188.53,1394.50 L1190.24,1394.50 L1191.96,1394.50 L1193.67,1394.50 L1195.39,1394.50 L1197.10,1394.50 L1198.82,1394.50 L1200.53,1394.50 L1202.25,1394.50 L1203.96,1394.50 L1205.68,1394.50 L1207.39,1394.50 L1209.11,1394.50 L1210.82,1394.50 L1212.54,1394.50 L1214.25,1394.50 L1215.97,1394.50 L1217.68,1394.50 L1219.40,1394.50 L1221.11,1394.50 L1222.83,1394.50 L1224.54,1394.50 L1226.26,1394.50 L1227.97,1394.50 L1229.69,1394.50 L1231.40,1394.50 L1233.12,1394.50 L1234.83,1394.50 L1236.55,1394.50 L1238.26,1394.50 L1239.98,1394.50 L1241.69,1394.50 L1243.41,1394.50 L1245.12,1394.50 L1246.84,1394.50 L1248.55,1394.50 L1250.27,1394.50 L1251.98,1394.50 L1253.70,1394.50 L1255.41,1394.50 L1257.13,1394.50 L1258.84,1394.50 L1260.56,1394.50 L1262.28,1394.50 L1263.99,1394.50 L1265.71,1394.50 L1267.42,1394.50 L1269.14,1394.50 L1270.85,1394.50 L1272.57,1394.50 L1274.28,1394.50 L1276.00,1394.50 L1277.71,1394.50 L1279.43,1394.50 L1281.14,1394.50 L1282.86,1394.50 L1284.57,1394.50 L1286.29,1394.50 L1288.00,1394.50 L1289.72,1394.50 L1291.43,1394.50 L1293.15,1394.50 L1294.86,1394.50 L1296.58,1394.50 L1298.29,1394.50 L1300.01,1394.50 L1301.72,1394.50 L1303.44,1394.50 L1305.15,1394.50 L1306.87,1394.50 L1308.58,1394.50 L1310.30,1394.50 L1312.01,1394.50 L1313.73,1394.50 L1315.44,1394.50 L1317.16,1394.50 L1318.87,1394.50 L1320.59,1394.50 L1322.30,1394.50 L1324.02,1394.50 L1325.73,1394.50 L1327.45,1394.50 L1329.16,1394.50 L1330.88,1394.50 L1332.59,1394.50 L1334.31,1394.50 L1336.02,1394.50 L1337.74,1394.50 L1339.45,1394.50 L1341.17,1394.50 L1342.88,1394.50 L1344.60,1394.50 L1346.31,1394.50 L1348.03,1394.50 L1349.75,1394.50 L1351.46,1394.50 L1353.18,1394.50 L1354.89,1394.50 L1356.61,1394.50 L1358.32,1394.50 L1360.04,1394.50 L1361.75,1394.50 L1363.47,1394.50 L1365.18,1394.50 L1366.90,1394.50 L1368.61,1394.50 L1370.33,1394.50 L1372.04,1394.50 L1373.76,1394.50 L1375.47,1394.50 L1377.19,1394.50 L1378.90,1394.50 L1380.62,1394.50 L1382.33,1394.50 L1384.05,1394.50 L1385.76,1394.50 L1387.48,1394.50 L1389.19,1394.50 L1390.91,1394.50 L1392.62,1394.50 L1394.34,1394.50 L1396.05,1394.50 L1397.77,1394.50 L1399.48,1394.50 L1401.20,1394.50 L1402.91,1394.50 L1404.63,1394.50 L1406.34,1394.50 L1408.06,1394.50 L1409.77,1394.50 L1411.49,1394.50 L1413.20,1394.50 L1414.92,1394.50 L1416.63,1394.50 L1418.35,1394.50 L1420.06,1394.50 L1421.78,1394.50 L1423.49,1394.50 L1425.21,1394.50 L1426.92,1394.50 L1428.64,1394.50 L1430.35,1394.50 L1432.07,1394.50 L1433.79,1394.50 L1435.50,1394.50 L1437.22,1394.50 L1438.93,1394.50 L1440.65,1394.50 L1442.36,1394.50 L1444.08,1394.50 L1445.79,1394.50 L1447.51,1394.50 L1449.22,1394.50 L1450.94,1394.50 L1452.65,1394.50 L1454.37,1394.50 L1456.08,1394.50 L1457.80,1394.50 L1459.51,1394.50 L1461.23,1394.50 L1462.94,1394.50 L1464.66,1394.50 L1466.37,1394.50 L1468.09,1394.50 L1469.80,1394.50 L1471.52,1394.50 L1473.23,1394.50 L1474.95,1394.50 L1476.66,1394.50 L1478.38,1394.50 L1480.09,1394.50 L1481.81,1394.50 L1483.52,1394.50 L1485.24,1394.50 L1486.95,1394.50 L1488.67,1394.50 L1490.38,1394.50 L1492.10,1394.50 L1493.81,1394.50 L1495.53,1394.50 L1497.24,1394.50 L1498.96,1394.50 L1500.67,1394.50 L1502.39,1394.50 L1504.10,1394.50 L1505.82,1394.50 L1507.53,1394.50 L1509.25,1394.50 L1510.96,1394.50 L1512.68,1394.50 L1514.39,1394.50 L1516.11,1394.50 L1517.82,1394.50 L1519.54,1394.50 L1521.26,1394.50 L1522.97,1394.50 L1524.69,1394.50 L1526.40,1394.50 L1528.12,1394.50 L1529.83,1394.50 L1531.55,1394.50 L1533.26,1394.50 L1534.98,1394.50 L1536.69,1394.50 L1538.41,1394.50 L1540.12,1394.50 L1541.84,1394.50 L1543.55,1394.50 L1545.27,1394.50 L1546.98,1394.50 L1548.70,1394.50 L1550.41,1394.50 L1552.13,1394.50 L1553.84,1394.50 L1555.56,1394.50 L1557.27,1394.50 L1558.99,1394.50 L1560.70,1394.50 L1562.42,1394.50 L1564.13,1394.50 L1565.85,1394.50 L1567.56,1394.50 L1569.28,1394.50 L1570.99,1394.50 L1572.71,1394.50 L1574.42,1394.50 L1576.14,1394.50 L1577.85,1394.50 L1579.57,1394.50 L1581.28,1394.50 L1583.00,1394.50 L1584.71,1394.50 L1586.43,1394.50 L1588.14,1394.50 L1589.86,1394.50 L1591.57,1394.50 L1593.29,1394.50 L1595.00,1394.50 L1596.72,1394.50 L1598.43,1394.50 L1600.15,1394.50 L1601.86,1394.50 L1603.58,1394.50 L1605.30,1394.50 L1607.01,1394.50 L1608.73,1394.50 L1610.44,1394.50 L1612.16,1394.50 L1613.87,1394.50 L1615.59,1394.50 L1617.30,1394.50 L1619.02,1394.50 L1620.73,1394.50 L1622.45,1394.50 L1624.16,1394.50 L1625.88,1394.50 L1627.59,1394.50 L1629.31,1394.50 L1631.02,1394.50 L1632.74,1394.50 L1634.45,1394.50 L1636.17,1394.50 L1637.88,1394.50 L1639.60,1394.50 L1641.31,1394.50 L1643.03,1394.50 L1644.74,1394.50 L1646.46,1394.50 L1648.17,1394.50 L1649.89,1394.50 L1651.60,1394.50 L1653.32,1394.50 L1655.03,1394.50 L1656.75,1394.50 L1658.46,1394.50 L1660.18,1394.50 L1661.89,1394.50 L1663.61,1394.50 L1665.32,1394.50 L1667.04,1394.50 L1668.75,1394.50 L1670.47,1394.50 L1672.18,1394.50 L1673.90,1394.50 L1675.61,1394.50 L1677.33,1394.50 L1679.04,1394.50 L1680.76,1394.50 L1682.47,1394.50 L1684.19,1394.50 L1685.90,1394.50 L1687.62,1394.50 L1689.33,1394.50 L1691.05,1394.50 L1692.77,1394.50 L1694.48,1394.50 L1696.20,1394.50 L1697.91,1394.50 L1699.63,1394.50 L1701.34,1394.50 L1703.06,1394.50 L1704.77,1394.50 L1706.49,1394.50 L1708.20,1394.50 L1709.92,1394.50 L1711.63,1394.50 L1713.35,1394.50 L1715.06,1394.50 L1716.78,1394.50 L1718.49,1394.50 L1720.21,1394.50 L1721.92,1394.50 L1723.64,1394.50 L1725.35,1394.50 L1727.07,1394.50 L1728.78,1394.50 L1730.50,1394.50 L1732.21,1394.50 L1733.93,1394.50 L1735.64,1394.50 L1737.36,1394.50 L1739.07,1394.50 L1740.79,1394.50 L1742.50,1394.50 L1744.22,1394.50 L1745.93,1394.50 L1747.65,1394.50 L1749.36,1394.50 L1751.08,1394.50 L1752.79,1394.50 L1754.51,1394.50 L1756.22,1394.50 L1757.94,1394.50 L1759.65,1394.50 L1761.37,1394.50 L1763.08,1394.50 L1764.80,1394.50 L1766.51,1394.50 L1768.23,1394.50 L1769.94,1394.50 L1771.66,1394.50 L1773.37,1394.50 L1775.09,1394.50 L1776.81,1394.50 L1778.52,1394.50 L1780.24,1394.50 L1781.95,1394.50 L1783.67,1394.50 L1785.38,1394.50 L1787.10,1394.50 L1788.81,1394.50 L1790.53,1394.50 L1792.24,1394.50 L1793.96,1394.50 L1795.67,1394.50 L1797.39,1394.50 L1799.10,1394.50 L1800.82,1394.50 L1802.53,1394.50 L1804.25,1394.50 L1805.96,1394.50 L1807.68,1394.50 L1809.39,1394.50 L1811.11,1394.50 L1812.82,1394.50 L1814.54,1394.50 L1816.25,1394.50 L1817.97,1394.50 L1819.68,1394.50 L1821.40,1394.50 L1823.11,1394.50 L1824.83,1394.50 L1826.54,1394.50 L1828.26,1394.50 L1829.97,1394.50 L1831.69,1394.50 L1833.40,1394.50 L1835.12,1394.50 L1836.83,1394.50 L1838.55,1394.50 L1840.26,1394.50 L1841.98,1394.50 L1843.69,1394.50 L1845.41,1394.50 L1847.12,1394.50 L1848.84,1394.50 L1850.55,1394.50 L1852.27,1394.50 L1853.98,1394.50 L1855.70,1394.50 L1857.41,1394.50 L1859.13,1394.50 L1860.84,1394.50 L1862.56,1394.50 L1864.28,1394.50 L1865.99,1394.50 L1867.71,1394.50 L1869.42,1394.50 L1871.14,1394.50 L1872.85,1394.50 L1874.57,1394.50 L1876.28,1394.50 L1878.00,1394.50 L1879.71,1394.50 L1881.43,1394.50 L1883.14,1394.50 L1884.86,1394.50 L1886.57,1394.50 L1888.29,1394.50 L1890.00,1394.50 L1891.72,1394.50 L1893.43,1394.50 L1895.15,1394.50 L1896.86,1394.50 L1898.58,1394.50 L1900.29,1394.50 L1902.01,1394.50 L1903.72,1394.50 L1905.44,1394.50 L1907.15,1394.50 L1908.87,1394.50 L1910.58,1394.50 L1912.30,1394.50 L1914.01,1394.50 L1915.73,1394.50 L1917.44,1394.50 L1919.16,1394.50 L1920.87,1394.50 L1922.59,1394.50 L1924.30,1394.50 L1926.02,1394.50 L1927.73,1394.50 L1929.45,1394.50 L1931.16,1394.50 L1932.88,1394.50 L1934.59,1394.50 L1936.31,1394.50 L1938.02,1394.50 L1939.74,1394.50 L1941.45,1394.50 L1943.17,1394.50 L1944.88,1394.50 L1946.60,1394.50" fill="none" stroke="#231f20" stroke-width="1"/>
<path d="M234.50,60.00 L234.93,60.00 L236.65,60.00 L238.36,60.00 L240.08,60.00 L241.79,60.00 L243.51,60.00 L245.22,60.00 L246.94,60.00 L248.65,60.00 L250.37,60.00 L252.08,60.00 L253.80,60.00 L255.51,60.00 L257.23,60.00 L258.94,60.00 L260.66,60.00 L262.37,60.00 L264.09,60.00 L265.80,60.00 L267.52,60.00 L269.23,60.00 L270.95,60.00 L272.66,60.00 L274.38,60.00 L276.09,60.01 L277.81,60.01 L279.52,60.01 L281.24,60.01 L282.95,60.01 L284.67,60.02 L286.38,60.02 L288.10,60.03 L289.81,60.03 L291.53,60.04 L293.24,60.05 L294.96,60.06 L296.67,60.07 L298.39,60.09 L300.10,60.10 L301.82,60.13 L303.53,60.15 L305.25,60.18 L306.96,60.22 L308.68,60.26 L310.39,60.30 L312.11,60.36 L313.82,60.42 L315.54,60.49 L317.25,60.57 L318.97,60.67 L320.69,60.78 L322.40,60.90 L324.12,61.04 L325.83,61.20 L327.55,61.38 L329.26,61.59 L330.98,61.81 L332.69,62.07 L334.41,62.36 L336.12,62.68 L337.84,63.03 L339.55,63.43 L341.27,63.86 L342.98,64.35 L344.70,64.88 L346.41,65.47 L348.13,66.11 L349.84,66.82 L351.56,67.59 L353.27,68.43 L354.99,69.35 L356.70,70.35 L358.42,71.43 L360.13,72.59 L361.85,73.86 L363.56,75.22 L365.28,76.69 L366.99,78.26 L368.71,79.95 L370.42,81.76 L372.14,83.69 L373.85,85.76 L375.57,87.96 L377.28,90.29 L379.00,92.77 L380.71,95.41 L382.43,98.19 L384.14,101.13 L385.86,104.24 L387.57,107.51 L389.29,110.96 L391.00,114.58 L392.72,118.38 L394.43,122.36 L396.15,126.53 L397.86,130.88 L399.58,135.43 L401.29,140.17 L403.01,145.10 L404.73,150.23 L406.44,155.56 L408.16,161.09 L409.87,166.82 L411.59,172.75 L413.30,178.88 L415.02,185.22 L416.73,191.75 L418.45,198.49 L420.16,205.42 L421.88,212.55 L423.59,219.88 L425.31,227.40 L427.02,235.11 L428.74,243.01 L430.45,251.10 L432.17,259.37 L433.88,267.82 L435.60,276.44 L437.31,285.24 L439.03,294.20 L440.74,303.32 L442.46,312.61 L444.17,322.05 L445.89,331.63 L447.60,341.36 L449.32,351.22 L451.03,361.22 L452.75,371.34 L454.46,381.59 L456.18,391.95 L457.89,402.41 L459.61,412.98 L461.32,423.65 L463.04,434.40 L464.75,445.24 L466.47,456.16 L468.18,467.15 L469.90,478.20 L471.61,489.31 L473.33,500.48 L475.04,511.69 L476.76,522.93 L478.47,534.22 L480.19,545.53 L481.90,556.86 L483.62,568.21 L485.33,579.56 L487.05,590.92 L488.76,602.28 L490.48,613.63 L492.20,624.97 L493.91,636.29 L495.63,647.58 L497.34,658.85 L499.06,670.09 L500.77,681.28 L502.49,692.43 L504.20,703.53 L505.92,714.59 L507.63,725.58 L509.35,736.51 L511.06,747.38 L512.78,758.19 L514.49,768.91 L516.21,779.57 L517.92,790.14 L519.64,800.63 L521.35,811.04 L523.07,821.36 L524.78,831.59 L526.50,841.72 L528.21,851.76 L529.93,861.70 L531.64,871.54 L533.36,881.28 L535.07,890.91 L536.79,900.44 L538.50,909.86 L540.22,919.17 L541.93,928.37 L543.65,937.45 L545.36,946.43 L547.08,955.29 L548.79,964.03 L550.51,972.66 L552.22,981.17 L553.94,989.57 L555.65,997.85 L557.37,1006.01 L559.08,1014.05 L560.80,1021.98 L562.51,1029.79 L564.23,1037.47 L565.94,1045.04 L567.66,1052.50 L569.37,1059.83 L571.09,1067.05 L572.80,1074.15 L574.52,1081.13 L576.24,1088.00 L577.95,1094.75 L579.67,1101.39 L581.38,1107.91 L583.10,1114.32 L584.81,1120.62 L586.53,1126.80 L588.24,1132.87 L589.96,1138.84 L591.67,1144.69 L593.39,1150.44 L595.10,1156.08 L596.82,1161.61 L598.53,1167.04 L600.25,1172.37 L601.96,1177.59 L603.68,1182.71 L605.39,1187.73 L607.11,1192.65 L608.82,1197.48 L610.54,1202.20 L612.25,1206.84 L613.97,1211.38 L615.68,1215.82 L617.40,1220.17 L619.11,1224.44 L620.83,1228.61 L622.54,1232.70 L624.26,1236.70 L625.97,1240.62 L627.69,1244.45 L629.40,1248.20 L631.12,1251.87 L632.83,1255.46 L634.55,1258.97 L636.26,1262.40 L637.98,1265.76 L639.69,1269.04 L641.41,1272.25 L643.12,1275.39 L644.84,1278.45 L646.55,1281.45 L648.27,1284.38 L649.98,1287.24 L651.70,1290.04 L653.41,1292.77 L655.13,1295.44 L656.84,1298.04 L658.56,1300.59 L660.27,1303.07 L661.99,1305.50 L663.71,1307.87 L665.42,1310.18 L667.14,1312.44 L668.85,1314.64 L670.57,1316.79 L672.28,1318.89 L674.00,1320.94 L675.71,1322.94 L677.43,1324.88 L679.14,1326.78 L680.86,1328.64 L682.57,1330.45 L684.29,1332.21 L686.00,1333.93 L687.72,1335.60 L689.43,1337.24 L691.15,1338.83 L692.86,1340.38 L694.58,1341.90 L696.29,1343.37 L698.01,1344.81 L699.72,1346.21 L701.44,1347.57 L703.15,1348.90 L704.87,1350.20 L706.58,1351.46 L708.30,1352.69 L710.01,1353.88 L711.73,1355.05 L713.44,1356.18 L715.16,1357.29 L716.87,1358.36 L718.59,1359.41 L720.30,1360.43 L722.02,1361.42 L723.73,1362.39 L725.45,1363.33 L727.16,1364.24 L728.88,1365.13 L730.59,1366.00 L732.31,1366.84 L734.02,1367.66 L735.74,1368.46 L737.45,1369.23 L739.17,1369.98 L740.88,1370.72 L742.60,1371.43 L744.31,1372.12 L746.03,1372.80 L747.75,1373.45 L749.46,1374.09 L751.18,1374.71 L752.89,1375.31 L754.61,1375.90 L756.32,1376.47 L758.04,1377.02 L759.75,1377.56 L761.47,1378.08 L763.18,1378.58 L764.90,1379.08 L766.61,1379.55 L768.33,1380.02 L770.04,1380.47 L771.76,1380.91 L773.47,1381.33 L775.19,1381.75 L776.90,1382.15 L778.62,1382.54 L780.33,1382.91 L782.05,1383.28 L783.76,1383.64 L785.48,1383.98 L787.19,1384.32 L788.91,1384.64 L790.62,1384.96 L792.34,1385.27 L794.05,1385.56 L795.77,1385.85 L797.48,1386.13 L799.20,1386.40 L800.91,1386.67 L802.63,1386.92 L804.34,1387.17 L806.06,1387.41 L807.77,1387.64 L809.49,1387.87 L811.20,1388.09 L812.92,1388.30 L814.63,1388.51 L816.35,1388.71 L818.06,1388.90 L819.78,1389.09 L821.49,1389.27 L823.21,1389.44 L824.92,1389.61 L826.64,1389.78 L828.35,1389.94 L830.07,1390.09 L831.78,1390.24 L833.50,1390.39 L835.22,1390.53 L836.93,1390.66 L838.65,1390.79 L840.36,1390.92 L842.08,1391.05 L843.79,1391.16 L845.51,1391.28 L847.22,1391.39 L848.94,1391.50 L850.65,1391.61 L852.37,1391.71 L854.08,1391.80 L855.80,1391.90 L857.51,1391.99 L859.23,1392.08 L860.94,1392.17 L862.66,1392.25 L864.37,1392.33 L866.09,1392.41 L867.80,1392.48 L869.52,1392.55 L871.23,1392.62 L872.95,1392.69 L874.66,1392.76 L876.38,1392.82 L878.09,1392.88 L879.81,1392.94 L881.52,1393.00 L883.24,1393.05 L884.95,1393.11 L886.67,1393.16 L888.38,1393.21 L890.10,1393.25 L891.81,1393.30 L893.53,1393.35 L895.24,1393.39 L896.96,1393.43 L898.67,1393.47 L900.39,1393.51 L902.10,1393.55 L903.82,1393.58 L905.53,1393.62 L907.25,1393.65 L908.96,1393.68 L910.68,1393.71 L912.39,1393.75 L914.11,1393.77 L915.82,1393.80 L917.54,1393.83 L919.26,1393.86 L920.97,1393.88 L922.69,1393.90 L924.40,1393.93 L926.12,1393.95 L927.83,1393.97 L929.55,1393.99 L931.26,1394.01 L932.98,1394.03 L934.69,1394.05 L936.41,1394.07 L938.12,1394.09 L939.84,1394.10 L941.55,1394.12 L943.27,1394.13 L944.98,1394.15 L946.70,1394.16 L948.41,1394.18 L950.13,1394.19 L951.84,1394.20 L953.56,1394.21 L955.27,1394.23 L956.99,1394.24 L958.70,1394.25 L960.42,1394.26 L962.13,1394.27 L963.85,1394.28 L965.56,1394.29 L967.28,1394.30 L968.99,1394.31 L970.71,1394.31 L972.42,1394.32 L974.14,1394.33 L975.85,1394.34 L977.57,1394.34 L979.28,1394.35 L981.00,1394.36 L982.71,1394.36 L984.43,1394.37 L986.14,1394.37 L987.86,1394.38 L989.57,1394.39 L991.29,1394.39 L993.00,1394.40 L994.72,1394.40 L996.43,1394.40 L998.15,1394.41 L999.86,1394.41 L1001.58,1394.42 L1003.29,1394.42 L1005.01,1394.42 L1006.73,1394.43 L1008.44,1394.43 L1010.16,1394.43 L1011.87,1394.44 L1013.59,1394.44 L1015.30,1394.44 L1017.02,1394.44 L1018.73,1394.45 L1020.45,1394.45 L1022.16,1394.45 L1023.88,1394.45 L1025.59,1394.46 L1027.31,1394.46 L1029.02,1394.46 L1030.74,1394.46 L1032.45,1394.46 L1034.17,1394.47 L1035.88,1394.47 L1037.60,1394.47 L1039.31,1394.47 L1041.03,1394.47 L1042.74,1394.47 L1044.46,1394.47 L1046.17,1394.48 L1047.89,1394.48 L1049.60,1394.48 L1051.32,1394.48 L1053.03,1394.48 L1054.75,1394.48 L1056.46,1394.48 L1058.18,1394.48 L1059.89,1394.48 L1061.61,1394.48 L1063.32,1394.49 L1065.04,1394.49 L1066.75,1394.49 L1068.47,1394.49 L1070.18,1394.49 L1071.90,1394.49 L1073.61,1394.49 L1075.33,1394.49 L1077.04,1394.49 L1078.76,1394.49 L1080.47,1394.49 L1082.19,1394.49 L1083.90,1394.49 L1085.62,1394.49 L1087.33,1394.49 L1089.05,1394.49 L1090.77,1394.49 L1092.48,1394.49 L1094.20,1394.49 L1095.91,1394.49 L1097.63,1394.50 L1099.34,1394.50 L1101.06,1394.50 L1102.77,1394.50 L1104.49,1394.50 L1106.20,1394.50 L1107.92,1394.50 L1109.63,1394.50 L1111.35,1394.50 L1113.06,1394.50 L1114.78,1394.50 L1116.49,1394.50 L1118.21,1394.50 L1119.92,1394.50 L1121.64,1394.50 L1123.35,1394.50 L1125.07,1394.50 L1126.78,1394.50 L1128.50,1394.50 L1130.21,1394.50 L1131.93,1394.50 L1133.64,1394.50 L1135.36,1394.50 L1137.07,1394.50 L1138.79,1394.50 L1140.50,1394.50 L1142.22,1394.50 L1143.93,1394.50 L1145.65,1394.50 L1147.36,1394.50 L1149.08,1394.50 L1150.79,1394.50 L1152.51,1394.50 L1154.22,1394.50 L1155.94,1394.50 L1157.65,1394.50 L1159.37,1394.50 L1161.08,1394.50 L1162.80,1394.50 L1164.51,1394.50 L1166.23,1394.50 L1167.94,1394.50 L1169.66,1394.50 L1171.37,1394.50 L1173.09,1394.50 L1174.80,1394.50 L1176.52,1394.50 L1178.24,1394.50 L1179.95,1394.50 L1181.67,1394.50 L1183.38,1394.50 L1185.10,1394.50 L1186.81,1394.50 L1188.53,1394.50 L1190.24,1394.50 L1191.96,1394.50 L1193.67,1394.50 L1195.39,1394.50 L1197.10,1394.50 L1198.82,1394.50 L1200.53,1394.50 L1202.25,1394.50 L1203.96,1394.50 L1205.68,1394.50 L1207.39,1394.50 L1209.11,1394.50 L1210.82,1394.50 L1212.54,1394.50 L1214.25,1394.50 L1215.97,1394.50 L1217.68,1394.50 L1219.40,1394.50 L1221.11,1394.50 L1222.83,1394.50 L1224.54,1394.50 L1226.26,1394.50 L1227.97,1394.50 L1229.69,1394.50 L1231.40,1394.50 L1233.12,1394.50 L1234.83,1394.50 L1236.55,1394.50 L1238.26,1394.50 L1239.98,1394.50 L1241.69,1394.50 L1243.41,1394.50 L1245.12,1394.50 L1246.84,1394.50 L1248.55,1394.50 L1250.27,1394.50 L1251.98,1394.50 L1253.70,1394.50 L1255.41,1394.50 L1257.13,1394.50 L1258.84,1394.50 L1260.56,1394.50 L1262.28,1394.50 L1263.99,1394.50 L1265.71,1394.50 L1267.42,1394.50 L1269.14,1394.50 L1270.85,1394.50 L1272.57,1394.50 L1274.28,1394.50 L1276.00,1394.50 L1277.71,1394.50 L1279.43,1394.50 L1281.14,1394.50 L1282.86,1394.50 L1284.57,1394.50 L1286.29,1394.50 L1288.00,1394.50 L1289.72,1394.50 L1291.43,1394.50 L1293.15,1394.50 L1294.86,1394.50 L1296.58,1394.50 L1298.29,1394.50 L1300.01,1394.50 L1301.72,1394.50 L1303.44,1394.50 L1305.15,1394.50 L1306.87,1394.50 L1308.58,1394.50 L1310.30,1394.50 L1312.01,1394.50 L1313.73,1394.50 L1315.44,1394.50 L1317.16,1394.50 L1318.87,1394.50 L1320.59,1394.50 L1322.30,1394.50 L1324.02,1394.50 L1325.73,1394.50 L1327.45,1394.50 L1329.16,1394.50 L1330.88,1394.50 L1332.59,1394.50 L1334.31,1394.50 L1336.02,1394.50 L1337.74,1394.50 L1339.45,1394.50 L1341.17,1394.50 L1342.88,1394.50 L1344.60,1394.50 L1346.31,1394.50 L1348.03,1394.50 L1349.75,1394.50 L1351.46,1394.50 L1353.18,1394.50 L1354.89,1394.50 L1356.61,1394.50 L1358.32,1394.50 L1360.04,1394.50 L1361.75,1394.50 L1363.47,1394.50 L1365.18,1394.50 L1366.90,1394.50 L1368.61,1394.50 L1370.33,1394.50 L1372.04,1394.50 L1373.76,1394.50 L1375.47,1394.50 L1377.19,1394.50 L1378.90,1394.50 L1380.62,1394.50 L1382.33,1394.50 L1384.05,1394.50 L1385.76,1394.50 L1387.48,1394.50 L1389.19,1394.50 L1390.91,1394.50 L1392.62,1394.50 L1394.34,1394.50 L1396.05,1394.50 L1397.77,1394.50 L1399.48,1394.50 L1401.20,1394.50 L1402.91,1394.50 L1404.63,1394.50 L1406.34,1394.50 L1408.06,1394.50 L1409.77,1394.50 L1411.49,1394.50 L1413.20,1394.50 L1414.92,1394.50 L1416.63,1394.50 L1418.35,1394.50 L1420.06,1394.50 L1421.78,1394.50 L1423.49,1394.50 L1425.21,1394.50 L1426.92,1394.50 L1428.64,1394.50 L1430.35,1394.50 L1432.07,1394.50 L1433.79,1394.50 L1435.50,1394.50 L1437.22,1394.50 L1438.93,1394.50 L1440.65,1394.50 L1442.36,1394.50 L1444.08,1394.50 L1445.79,1394.50 L1447.51,1394.50 L1449.22,1394.50 L1450.94,1394.50 L1452.65,1394.50 L1454.37,1394.50 L1456.08,1394.50 L1457.80,1394.50 L1459.51,1394.50 L1461.23,1394.50 L1462.94,1394.50 L1464.66,1394.50 L1466.37,1394.50 L1468.09,1394.50 L1469.80,1394.50 L1471.52,1394.50 L1473.23,1394.50 L1474.95,1394.50 L1476.66,1394.50 L1478.38,1394.50 L1480.09,1394.50 L1481.81,1394.50 L1483.52,1394.50 L1485.24,1394.50 L1486.95,1394.50 L1488.67,1394.50 L1490.38,1394.50 L1492.10,1394.50 L1493.81,1394.50 L1495.53,1394.50 L1497.24,1394.50 L1498.96,1394.50 L1500.67,1394.50 L1502.39,1394.50 L1504.10,1394.50 L1505.82,1394.50 L1507.53,1394.50 L1509.25,1394.50 L1510.96,1394.50 L1512.68,1394.50 L1514.39,1394.50 L1516.11,1394.50 L1517.82,1394.50 L1519.54,1394.50 L1521.26,1394.50 L1522.97,1394.50 L1524.69,1394.50 L1526.40,1394.50 L1528.12,1394.50 L1529.83,1394.50 L1531.55,1394.50 L1533.26,1394.50 L1534.98,1394.50 L1536.69,1394.50 L1538.41,1394.50 L1540.12,1394.50 L1541.84,1394.50 L1543.55,1394.50 L1545.27,1394.50 L1546.98,1394.50 L1548.70,1394.50 L1550.41,1394.50 L1552.13,1394.50 L1553.84,1394.50 L1555.56,1394.50 L1557.27,1394.50 L1558.99,1394.50 L1560.70,1394.50 L1562.42,1394.50 L1564.13,1394.50 L1565.85,1394.50 L1567.56,1394.50 L1569.28,1394.50 L1570.99,1394.50 L1572.71,1394.50 L1574.42,1394.50 L1576.14,1394.50 L1577.85,1394.50 L1579.57,1394.50 L1581.28,1394.50 L1583.00,1394.50 L1584.71,1394.50 L1586.43,1394.50 L1588.14,1394.50 L1589.86,1394.50 L1591.57,1394.50 L1593.29,1394.50 L1595.00,1394.50 L1596.72,1394.50 L1598.43,1394.50 L1600.15,1394.50 L1601.86,1394.50 L1603.58,1394.50 L1605.30,1394.50 L1607.01,1394.50 L1608.73,1394.50 L1610.44,1394.50 L1612.16,1394.50 L1613.87,1394.50 L1615.59,1394.50 L1617.30,1394.50 L1619.02,1394.50 L1620.73,1394.50 L1622.45,1394.50 L1624.16,1394.50 L1625.88,1394.50 L1627.59,1394.50 L1629.31,1394.50 L1631.02,1394.50 L1632.74,1394.50 L1634.45,1394.50 L1636.17,1394.50 L1637.88,1394.50 L1639.60,1394.50 L1641.31,1394.50 L1643.03,1394.50 L1644.74,1394.50 L1646.46,1394.50 L1648.17,1394.50 L1649.89,1394.50 L1651.60,1394.50 L1653.32,1394.50 L1655.03,1394.50 L1656.75,1394.50 L1658.46,1394.50 L1660.18,1394.50 L1661.89,1394.50 L1663.61,1394.50 L1665.32,1394.50 L1667.04,1394.50 L1668.75,1394.50 L1670.47,1394.50 L1672.18,1394.50 L1673.90,1394.50 L1675.61,1394.50 L1677.33,1394.50 L1679.04,1394.50 L1680.76,1394.50 L1682.47,1394.50 L1684.19,1394.50 L1685.90,1394.50 L1687.62,1394.50 L1689.33,1394.50 L1691.05,1394.50 L1692.77,1394.50 L1694.48,1394.50 L1696.20,1394.50 L1697.91,1394.50 L1699.63,1394.50 L1701.34,1394.50 L1703.06,1394.50 L1704.77,1394.50 L1706.49,1394.50 L1708.20,1394.50 L1709.92,1394.50 L1711.63,1394.50 L1713.35,1394.50 L1715.06,1394.50 L1716.78,1394.50 L1718.49,1394.50 L1720.21,1394.50 L1721.92,1394.50 L1723.64,1394.50 L1725.35,1394.50 L1727.07,1394.50 L1728.78,1394.50 L1730.50,1394.50 L1732.21,1394.50 L1733.93,1394.50 L1735.64,1394.50 L1737.36,1394.50 L1739.07,1394.50 L1740.79,1394.50 L1742.50,1394.50 L1744.22,1394.50 L1745.93,1394.50 L1747.65,1394.50 L1749.36,1394.50 L1751.08,1394.50 L1752.79,1394.50 L1754.51,1394.50 L1756.22,1394.50 L1757.94,1394.50 L1759.65,1394.50 L1761.37,1394.50 L1763.08,1394.50 L1764.80,1394.50 L1766.51,1394.50 L1768.23,1394.50 L1769.94,1394.50 L1771.66,1394.50 L1773.37,1394.50 L1775.09,1394.50 L1776.81,1394.50 L1778.52,1394.50 L1780.24,1394.50 L1781.95,1394.50 L1783.67,1394.50 L1785.38,1394.50 L1787.10,1394.50 L1788.81,1394.50 L1790.53,1394.50 L1792.24,1394.50 L1793.96,1394.50 L1795.67,1394.50 L1797.39,1394.50 L1799.10,1394.50 L1800.82,1394.50 L1802.53,1394.50 L1804.25,1394.50 L1805.96,1394.50 L1807.68,1394.50 L1809.39,1394.50 L1811.11,1394.50 L1812.82,1394.50 L1814.54,1394.50 L1816.25,1394.50 L1817.97,1394.50 L1819.68,1394.50 L1821.40,1394.50 L1823.11,1394.50 L1824.83,1394.50 L1826.54,1394.50 L1828.26,1394.50 L1829.97,1394.50 L1831.69,1394.50 L1833.40,1394.50 L1835.12,1394.50 L1836.83,1394.50 L1838.55,1394.50 L1840.26,1394.50 L1841.98,1394.50 L1843.69,1394.50 L1845.41,1394.50 L1847.12,1394.50 L1848.84,1394.50 L1850.55,1394.50 L1852.27,1394.50 L1853.98,1394.50 L1855.70,1394.50 L1857.41,1394.50 L1859.13,1394.50 L1860.84,1394.50 L1862.56,1394.50 L1864.28,1394.50 L1865.99,1394.50 L1867.71,1394.50 L1869.42,1394.50 L1871.14,1394.50 L1872.85,1394.50 L1874.57,1394.50 L1876.28,1394.50 L1878.00,1394.50 L1879.71,1394.50 L1881.43,1394.50 L1883.14,1394.50 L1884.86,1394.50 L1886.57,1394.50 L1888.29,1394.50 L1890.00,1394.50 L1891.72,1394.50 L1893.43,1394.50 L1895.15,1394.50 L1896.86,1394.50 L1898.58,1394.50 L1900.29,1394.50 L1902.01,1394.50 L1903.72,1394.50 L1905.44,1394.50 L1907.15,1394.50 L1908.87,1394.50 L1910.58,1394.50 L1912.30,1394.50 L1914.01,1394.50 L1915.73,1394.50 L1917.44,1394.50 L1919.16,1394.50 L1920.87,1394.50 L1922.59,1394.50 L1924.30,1394.50 L1926.02,1394.50 L1927.73,1394.50 L1929.45,1394.50 L1931.16,1394.50 L1932.88,1394.50 L1934.59,1394.50 L1936.31,1394.50 L1938.02,1394.50 L1939.74,1394.50 L1941.45,1394.50 L1943.17,1394.50 L1944.88,1394.50 L1946.60,1394.50" fill="none" stroke="#231f20" stroke-width="1"/>
<rect x="970.00" y="88.50" width="949.00" height="392.80" fill="#fff" stroke="#4d4d4f" stroke-width="6.5"/>
<rect x="1011.30" y="119.80" width="21.40" height="21.40" fill="#fff" stroke="#231f20" stroke-width="7.0"/>
<circle cx="1022" cy="207.5" r="14.40" fill="#fff" stroke="#ed1c24" stroke-width="6.8"/>
<line x1="978.0" y1="284.3" x2="1066.0" y2="284.3" stroke="#231f20" stroke-width="7.0"/>
<line x1="978.0" y1="361.4" x2="1066.0" y2="361.4" stroke="#ed1c24" stroke-width="5.0" stroke-dasharray="18.7 16"/>
<line x1="978.0" y1="438.5" x2="1066.0" y2="438.5" stroke="#ed1c24" stroke-width="7.0" stroke-dasharray="18.7 3.4 9.2 3.4"/>
</g>
<text transform="translate(1071.10,146.00) scale(1.0340,1.0000)" font-size="67.00" fill="#231f20" stroke="#231f20" stroke-width="0.60">Experimental</text>
<text transform="translate(1465.11,146.00) scale(1.0823,1.0000)" font-size="67.00" fill="#231f20" stroke="#231f20" stroke-width="0.60">Data</text>
<text transform="translate(1622.98,146.00) scale(1.0052,1.0000)" font-size="67.00" font-style="italic" fill="#231f20" stroke="#231f20" stroke-width="0.60">V</text>
<text transform="translate(1658.97,155.80) scale(1.0133,1.0000)" font-size="47.50" fill="#231f20" stroke="#231f20" stroke-width="0.60">0</text>
<text transform="translate(1071.10,223.00) scale(1.0340,1.0000)" font-size="67.00" fill="#231f20" stroke="#231f20" stroke-width="0.60">Experimental</text>
<text transform="translate(1465.11,223.00) scale(1.0823,1.0000)" font-size="67.00" fill="#231f20" stroke="#231f20" stroke-width="0.60">Data</text>
<text transform="translate(1622.98,223.00) scale(1.0052,1.0000)" font-size="67.00" font-style="italic" fill="#231f20" stroke="#231f20" stroke-width="0.60">V</text>
<text transform="translate(1659.71,232.80) scale(0.9090,1.0000)" font-size="47.50" fill="#231f20" stroke="#231f20" stroke-width="0.60">1</text>
<text transform="translate(1072.53,300.00) scale(1.0075,1.0000)" font-size="67.00" fill="#231f20" stroke="#231f20" stroke-width="0.60">GEV</text>
<text transform="translate(1232.20,300.00) scale(0.9713,1.0000)" font-size="67.00" fill="#231f20" stroke="#231f20" stroke-width="0.60">fit</text>
<text transform="translate(1314.01,300.00) scale(1.0257,1.0000)" font-size="67.00" font-style="italic" fill="#231f20" stroke="#231f20" stroke-width="0.60">V</text>
<text transform="translate(1350.49,309.80) scale(0.9984,1.0000)" font-size="47.50" fill="#231f20" stroke="#231f20" stroke-width="0.60">0</text>
<text transform="translate(1378.56,300.00) scale(0.7892,1.0000)" font-size="67.00" fill="#231f20" stroke="#231f20" stroke-width="0.60">;</text>
<text transform="translate(1417.05,300.00) scale(0.9040,1.0000)" font-size="67.00" font-style="italic" fill="#231f20" stroke="#231f20" stroke-width="0.60">p</text>
<text transform="translate(1448.08,309.80) scale(1.1126,1.0000)" font-size="47.50" font-style="italic" fill="#231f20" stroke="#231f20" stroke-width="0.60">ks</text>
<text transform="translate(1511.56,306.50) scale(1.3600,0.9400)" font-size="67.00" fill="#231f20" stroke="#231f20" stroke-width="0.60">=</text>
<text transform="translate(1579.71,300.00) scale(0.9739,1.0000)" font-size="67.00" fill="#231f20" stroke="#231f20" stroke-width="0.60">0.92</text>
<text transform="translate(1072.53,377.00) scale(1.0075,1.0000)" font-size="67.00" fill="#231f20" stroke="#231f20" stroke-width="0.60">GEV</text>
<text transform="translate(1232.20,377.00) scale(0.9713,1.0000)" font-size="67.00" fill="#231f20" stroke="#231f20" stroke-width="0.60">fit</text>
<text transform="translate(1314.01,377.00) scale(1.0257,1.0000)" font-size="67.00" font-style="italic" fill="#231f20" stroke="#231f20" stroke-width="0.60">V</text>
<text transform="translate(1351.11,386.80) scale(0.9090,1.0000)" font-size="47.50" fill="#231f20" stroke="#231f20" stroke-width="0.60">1</text>
<text transform="translate(1378.56,377.00) scale(0.7892,1.0000)" font-size="67.00" fill="#231f20" stroke="#231f20" stroke-width="0.60">;</text>
<text transform="translate(1417.05,377.00) scale(0.9040,1.0000)" font-size="67.00" font-style="italic" fill="#231f20" stroke="#231f20" stroke-width="0.60">p</text>
<text transform="translate(1448.08,386.80) scale(1.1126,1.0000)" font-size="47.50" font-style="italic" fill="#231f20" stroke="#231f20" stroke-width="0.60">ks</text>
<text transform="translate(1511.56,383.50) scale(1.3600,0.9400)" font-size="67.00" fill="#231f20" stroke="#231f20" stroke-width="0.60">=</text>
<text transform="translate(1579.76,377.00) scale(0.9569,1.0000)" font-size="67.00" fill="#231f20" stroke="#231f20" stroke-width="0.60">0.81</text>
<text transform="translate(1072.32,454.60) scale(1.0105,1.0000)" font-size="67.00" fill="#231f20" stroke="#231f20" stroke-width="0.60">GEV</text>
<text transform="translate(1233.10,454.60) scale(0.9857,1.0000)" font-size="67.00" fill="#231f20" stroke="#231f20" stroke-width="0.60">Model</text>
<text transform="translate(1425.82,454.60) scale(0.9619,1.0000)" font-size="67.00" fill="#231f20" stroke="#231f20" stroke-width="0.60">for</text>
<text transform="translate(1524.31,454.60) scale(0.9984,1.0000)" font-size="67.00" font-style="italic" fill="#231f20" stroke="#231f20" stroke-width="0.60">V</text>
<text transform="translate(1560.84,464.40) scale(1.0326,1.0000)" font-size="47.50" font-style="italic" fill="#231f20" stroke="#231f20" stroke-width="0.60">α</text>
<text transform="translate(1594.19,454.60) scale(0.8091,1.0000)" font-size="67.00" fill="#231f20" stroke="#231f20" stroke-width="0.60">;</text>
<text transform="translate(1632.95,454.60) scale(0.9040,1.0000)" font-size="67.00" font-style="italic" fill="#231f20" stroke="#231f20" stroke-width="0.60">p</text>
<text transform="translate(1664.38,464.40) scale(1.1099,1.0000)" font-size="47.50" font-style="italic" fill="#231f20" stroke="#231f20" stroke-width="0.60">ks</text>
<text transform="translate(1727.42,461.10) scale(1.3728,0.9400)" font-size="67.00" fill="#231f20" stroke="#231f20" stroke-width="0.60">=</text>
<text transform="translate(1795.63,454.60) scale(0.9692,1.0000)" font-size="67.00" fill="#231f20" stroke="#231f20" stroke-width="0.60">0.27</text>
<text transform="translate(213.71,1473.40) scale(0.9881,1.0000)" font-size="71.40" fill="#4d4d4f" stroke="#4d4d4f" stroke-width="0.60">0</text>
<text transform="translate(521.65,1473.40) scale(0.9806,1.0000)" font-size="71.40" fill="#4d4d4f" stroke="#4d4d4f" stroke-width="0.60">100</text>
<text transform="translate(865.77,1473.40) scale(0.9650,1.0000)" font-size="71.40" fill="#4d4d4f" stroke="#4d4d4f" stroke-width="0.60">200</text>
<text transform="translate(1207.23,1473.40) scale(0.9855,1.0000)" font-size="71.40" fill="#4d4d4f" stroke="#4d4d4f" stroke-width="0.60">300</text>
<text transform="translate(1552.06,1473.40) scale(0.9632,1.0000)" font-size="71.40" fill="#4d4d4f" stroke="#4d4d4f" stroke-width="0.60">400</text>
<text transform="translate(1893.83,1473.40) scale(0.9817,1.0000)" font-size="71.40" fill="#4d4d4f" stroke="#4d4d4f" stroke-width="0.60">500</text>
<text transform="translate(176.50,1412.30) scale(0.9947,1.0000)" font-size="71.40" fill="#4d4d4f" stroke="#4d4d4f" stroke-width="0.60">0</text>
<text transform="translate(123.03,1145.50) scale(1.0183,1.0000)" font-size="71.40" fill="#4d4d4f" stroke="#4d4d4f" stroke-width="0.60">0.2</text>
<text transform="translate(123.12,878.60) scale(0.9846,1.0000)" font-size="71.40" fill="#4d4d4f" stroke="#4d4d4f" stroke-width="0.60">0.4</text>
<text transform="translate(123.09,611.70) scale(0.9964,1.0000)" font-size="71.40" fill="#4d4d4f" stroke="#4d4d4f" stroke-width="0.60">0.6</text>
<text transform="translate(123.07,344.80) scale(1.0034,1.0000)" font-size="71.40" fill="#4d4d4f" stroke="#4d4d4f" stroke-width="0.60">0.8</text>
<text transform="translate(178.03,76.90) scale(0.9190,1.0000)" font-size="71.40" fill="#4d4d4f" stroke="#4d4d4f" stroke-width="0.60">1</text>
<text transform="translate(948.24,1566.40) scale(1.1000,1.0000)" font-size="72.00" font-style="italic" letter-spacing="2.29" fill="#4d4d4f" stroke="#4d4d4f" stroke-width="0.60">area</text>
<text transform="translate(1129.59,1567.40) scale(0.8015,1.0000)" font-size="85.50" fill="#4d4d4f" stroke="#4d4d4f" stroke-width="0.60">(</text>
<text transform="translate(1157.69,1566.40) scale(1.2241,1.0000)" font-size="72.00" font-style="italic" fill="#4d4d4f" stroke="#4d4d4f" stroke-width="0.60">μ</text>
<text transform="translate(1198.95,1566.40) scale(1.1580,1.0000)" font-size="72.00" fill="#4d4d4f" stroke="#4d4d4f" stroke-width="0.60">m</text>
<text transform="translate(1266.04,1567.40) scale(0.8197,1.0000)" font-size="85.50" fill="#4d4d4f" stroke="#4d4d4f" stroke-width="0.60">)</text>
<text transform="translate(886.26,1583.16) scale(1.3744,1.1750)" font-size="80.0" fill="#4d4d4f" stroke="#4d4d4f" stroke-width="0.5">√</text>
<line x1="944.6" y1="1510.4" x2="1100.1" y2="1510.4" stroke="#4d4d4f" stroke-width="3.2"/>
<text transform="translate(88.20,1284.51) rotate(-90) scale(1.0848,1)" font-size="77.00" fill="#4d4d4f" stroke="#4d4d4f" stroke-width="0.60">Probability</text>
<text transform="translate(88.20,886.74) rotate(-90) scale(1.0374,1)" font-size="77.00" fill="#4d4d4f" stroke="#4d4d4f" stroke-width="0.60">of</text>
<text transform="translate(88.20,800.68) rotate(-90) scale(1.0516,1)" font-size="77.00" fill="#4d4d4f" stroke="#4d4d4f" stroke-width="0.60">occurrence</text>
<text transform="translate(88.20,418.00) rotate(-90) scale(1.2112,1)" font-size="77.00" font-style="italic" fill="#4d4d4f" stroke="#4d4d4f" stroke-width="0.60">P</text>
<text transform="translate(100.60,374.08) rotate(-90) scale(0.9718,1)" font-size="59.00" font-style="italic" fill="#4d4d4f" stroke="#4d4d4f" stroke-width="0.60">Occ</text>
<text transform="translate(88.60,251.27) rotate(-90) scale(0.8971,1)" font-size="85.50" fill="#4d4d4f" stroke="#4d4d4f" stroke-width="0.60">(</text>
<text transform="translate(87.20,227.44) rotate(-90) scale(1.0299,1)" font-size="77.00" fill="#4d4d4f" stroke="#4d4d4f" stroke-width="0.60">-</text>
<text transform="translate(88.60,197.72) rotate(-90) scale(0.8060,1)" font-size="85.50" fill="#4d4d4f" stroke="#4d4d4f" stroke-width="0.60">)</text>
</svg>
</body>
</html>
